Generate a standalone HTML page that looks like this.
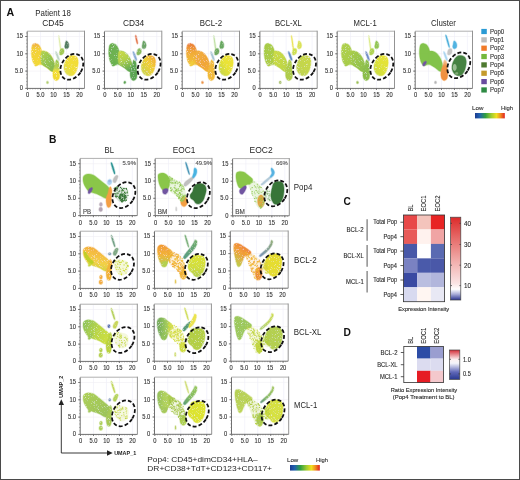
<!DOCTYPE html><html><head><meta charset="utf-8"><style>html,body{margin:0;padding:0;background:#fff;width:520px;height:480px;overflow:hidden;}body{font-family:'Liberation Sans', sans-serif;position:relative;}</style></head><body><svg width="520" height="480" viewBox="0 0 520 480" style="position:absolute;left:0;top:0;font-family:'Liberation Sans', sans-serif;filter:grayscale(0.001)"><defs><filter id="soft" x="-20%" y="-20%" width="140%" height="140%"><feGaussianBlur stdDeviation="0.35"/></filter><filter id="tex" x="-10%" y="-10%" width="120%" height="120%"><feGaussianBlur in="SourceGraphic" stdDeviation="0.35" result="b"/><feTurbulence type="fractalNoise" baseFrequency="1.3" numOctaves="2" seed="7" result="n"/><feColorMatrix in="n" type="matrix" values="0 0 0 0 1  0 0 0 0 1  0 0 0 0 1  2.2 0 0 0 -1.3" result="w"/><feComposite in="w" in2="b" operator="in" result="ws"/><feMerge><feMergeNode in="b"/><feMergeNode in="ws"/></feMerge></filter><linearGradient id="lg1" x1="0.3" y1="0" x2="0.3" y2="1"><stop offset="0" stop-color="#f0a830"/><stop offset="0.2" stop-color="#f2cc22"/><stop offset="1" stop-color="#f2d820"/></linearGradient><linearGradient id="lg2" x1="0" y1="0" x2="1" y2="1"><stop offset="0" stop-color="#b0d040"/><stop offset="0.45" stop-color="#8cc03c"/><stop offset="1" stop-color="#74ac3c"/></linearGradient><linearGradient id="lg3" x1="0.5" y1="0" x2="0.5" y2="1"><stop offset="0" stop-color="#8cc03c"/><stop offset="0.4" stop-color="#b8d040"/><stop offset="0.55" stop-color="#f2dc20"/><stop offset="1" stop-color="#f0d41c"/></linearGradient><linearGradient id="lg4" x1="1" y1="0" x2="0" y2="1"><stop offset="0" stop-color="#f2d820"/><stop offset="0.55" stop-color="#f0dc20"/><stop offset="1" stop-color="#d4dc50"/></linearGradient><linearGradient id="lg5" x1="0" y1="0" x2="1" y2="1"><stop offset="0" stop-color="#5aa83e"/><stop offset="1" stop-color="#68b040"/></linearGradient><linearGradient id="lg6" x1="0.3" y1="0" x2="0.6" y2="1"><stop offset="0" stop-color="#c4d634"/><stop offset="0.45" stop-color="#a8cc38"/><stop offset="1" stop-color="#50a040"/></linearGradient><linearGradient id="lg7" x1="1" y1="0" x2="0" y2="1"><stop offset="0" stop-color="#f09820"/><stop offset="0.4" stop-color="#f0c820"/><stop offset="1" stop-color="#c0d440"/></linearGradient><linearGradient id="lg8" x1="0.3" y1="0" x2="0.2" y2="1"><stop offset="0" stop-color="#e86c20"/><stop offset="0.3" stop-color="#f0a020"/><stop offset="1" stop-color="#f0d020"/></linearGradient><linearGradient id="lg9" x1="0" y1="0" x2="1" y2="1"><stop offset="0" stop-color="#f0a830"/><stop offset="0.6" stop-color="#f09c20"/><stop offset="1" stop-color="#f0a820"/></linearGradient><linearGradient id="lg10" x1="1" y1="0" x2="0" y2="1"><stop offset="0" stop-color="#f0e020"/><stop offset="0.5" stop-color="#e6e020"/><stop offset="1" stop-color="#b8d040"/></linearGradient><linearGradient id="lg11" x1="0" y1="0" x2="1" y2="1"><stop offset="0" stop-color="#9cc634"/><stop offset="1" stop-color="#b0cc30"/></linearGradient><linearGradient id="lg12" x1="0" y1="0" x2="1" y2="1"><stop offset="0" stop-color="#c8d830"/><stop offset="1" stop-color="#b4d030"/></linearGradient><linearGradient id="lg13" x1="1" y1="0" x2="0" y2="1"><stop offset="0" stop-color="#c4d430"/><stop offset="1" stop-color="#b8d040"/></linearGradient><linearGradient id="lg14" x1="0" y1="0" x2="1" y2="1"><stop offset="0" stop-color="#a8cc38"/><stop offset="1" stop-color="#98c438"/></linearGradient><linearGradient id="lg15" x1="0" y1="0" x2="1" y2="1"><stop offset="0" stop-color="#a0c838"/><stop offset="1" stop-color="#80b838"/></linearGradient><linearGradient id="lg16" x1="1" y1="0" x2="0" y2="1"><stop offset="0" stop-color="#e8e020"/><stop offset="0.5" stop-color="#dce020"/><stop offset="1" stop-color="#c0d838"/></linearGradient><linearGradient id="lg17" x1="0.5" y1="0" x2="0.5" y2="1"><stop offset="0" stop-color="#f4c8a0"/><stop offset="0.3" stop-color="#f09040"/><stop offset="1" stop-color="#f08a30"/></linearGradient><linearGradient id="lg18" x1="0.6" y1="0" x2="0.3" y2="1"><stop offset="0" stop-color="#f09818"/><stop offset="0.25" stop-color="#f4b020"/><stop offset="0.6" stop-color="#f2c828"/><stop offset="1" stop-color="#c0d020"/></linearGradient><linearGradient id="lg19" x1="0.5" y1="0" x2="0.5" y2="1"><stop offset="0" stop-color="#f08810"/><stop offset="0.45" stop-color="#f0a818"/><stop offset="1" stop-color="#a8c830"/></linearGradient><linearGradient id="lg20" x1="1" y1="0" x2="0" y2="1"><stop offset="0" stop-color="#58a050"/><stop offset="1" stop-color="#3a8a70"/></linearGradient><linearGradient id="lg21" x1="0.5" y1="0" x2="0.5" y2="1"><stop offset="0" stop-color="#d8e010"/><stop offset="0.6" stop-color="#c8d820"/><stop offset="1" stop-color="#a8c830"/></linearGradient><linearGradient id="lg22" x1="0.8" y1="0" x2="0.2" y2="1"><stop offset="0" stop-color="#e86010"/><stop offset="0.45" stop-color="#f09018"/><stop offset="1" stop-color="#b0c830"/></linearGradient><linearGradient id="lg23" x1="1" y1="0" x2="0" y2="1"><stop offset="0" stop-color="#80a060"/><stop offset="1" stop-color="#6080b0"/></linearGradient><linearGradient id="lg24" x1="0" y1="0.3" x2="1" y2="0.7"><stop offset="0" stop-color="#80bc3c"/><stop offset="0.5" stop-color="#b0d028"/><stop offset="1" stop-color="#c8dc20"/></linearGradient><linearGradient id="lg25" x1="0" y1="0.5" x2="1" y2="0.5"><stop offset="0" stop-color="#5a9a40"/><stop offset="0.45" stop-color="#80b840"/><stop offset="1" stop-color="#c0d840"/></linearGradient><linearGradient id="lg26" x1="1" y1="0" x2="0" y2="1"><stop offset="0" stop-color="#c8d830"/><stop offset="1" stop-color="#a0c860"/></linearGradient><linearGradient id="lg27" x1="0" y1="0" x2="1" y2="1"><stop offset="0" stop-color="#a0c838"/><stop offset="1" stop-color="#88b840"/></linearGradient><linearGradient id="lg28" x1="0" y1="0.5" x2="1" y2="0.5"><stop offset="0" stop-color="#80b440"/><stop offset="0.4" stop-color="#a0c840"/><stop offset="1" stop-color="#b0d040"/></linearGradient><linearGradient id="lg29" x1="1" y1="0" x2="0" y2="1"><stop offset="0" stop-color="#88c040"/><stop offset="0.6" stop-color="#70b048"/><stop offset="1" stop-color="#3a8a60"/></linearGradient><linearGradient id="lg30" x1="0" y1="0" x2="1" y2="1"><stop offset="0" stop-color="#a8c838"/><stop offset="1" stop-color="#b8d040"/></linearGradient><linearGradient id="lg31" x1="1" y1="0" x2="0" y2="1"><stop offset="0" stop-color="#98c048"/><stop offset="0.6" stop-color="#78b050"/><stop offset="1" stop-color="#4a8a70"/></linearGradient><linearGradient id="jet" x1="0" y1="0" x2="1" y2="0"><stop offset="0" stop-color="#1c3c90"/><stop offset="0.15" stop-color="#2060b0"/><stop offset="0.35" stop-color="#30a040"/><stop offset="0.55" stop-color="#a0cc30"/><stop offset="0.72" stop-color="#f0e020"/><stop offset="0.85" stop-color="#f09020"/><stop offset="1" stop-color="#e02020"/></linearGradient><linearGradient id="cbC" x1="0" y1="0" x2="0" y2="1"><stop offset="0" stop-color="#dc2a2a"/><stop offset="0.25" stop-color="#e66a68"/><stop offset="0.55" stop-color="#f2b2b0"/><stop offset="0.8" stop-color="#fae4e4"/><stop offset="0.87" stop-color="#ffffff"/><stop offset="0.93" stop-color="#a8acd8"/><stop offset="1" stop-color="#2a3490"/></linearGradient><linearGradient id="cbD" x1="0" y1="0" x2="0" y2="1"><stop offset="0" stop-color="#d42c36"/><stop offset="0.32" stop-color="#fcf0f0"/><stop offset="0.45" stop-color="#f4f4fa"/><stop offset="0.75" stop-color="#6068b8"/><stop offset="1" stop-color="#283890"/></linearGradient></defs><rect x="0" y="0" width="520" height="480" fill="#fff"/><g transform="translate(27.20,31.40)">
<line x1="13.28" y1="0.5" x2="13.28" y2="57.00" stroke="#ececf8" stroke-width="0.6"/>
<line x1="26.25" y1="0.5" x2="26.25" y2="57.00" stroke="#ececf8" stroke-width="0.6"/>
<line x1="39.23" y1="0.5" x2="39.23" y2="57.00" stroke="#ececf8" stroke-width="0.6"/>
<line x1="52.20" y1="0.5" x2="52.20" y2="57.00" stroke="#ececf8" stroke-width="0.6"/>
<line x1="0" y1="39.70" x2="57.30" y2="39.70" stroke="#f0eef4" stroke-width="0.6"/>
<line x1="0" y1="22.40" x2="57.30" y2="22.40" stroke="#f0eef4" stroke-width="0.6"/>
<line x1="0" y1="5.10" x2="57.30" y2="5.10" stroke="#f0eef4" stroke-width="0.6"/>
<path d="M0,-0.2 H57.30" fill="none" stroke="#b0b0b0" stroke-width="1"/>
<path d="M57.30,-0.7 V57.00" fill="none" stroke="#939393" stroke-width="1"/>
<g filter="url(#tex)" opacity="0.9">
<path d="M4.60,15.50 C4.90,13.93 5.33,13.18 6.00,12.60 C6.67,12.02 7.68,11.87 8.60,12.00 C9.52,12.13 10.67,12.63 11.50,13.40 C12.33,14.17 13.08,15.60 13.60,16.60 C14.12,17.60 14.15,18.90 14.60,19.40 C15.05,19.90 15.65,19.50 16.30,19.60 C16.95,19.70 17.60,19.60 18.50,20.00 C19.40,20.40 20.70,21.08 21.70,22.00 C22.70,22.92 23.72,24.25 24.50,25.50 C25.28,26.75 25.90,28.07 26.40,29.50 C26.90,30.93 27.35,32.75 27.50,34.10 C27.65,35.45 27.58,36.62 27.30,37.60 C27.02,38.58 26.43,39.72 25.80,40.00 C25.17,40.28 24.38,39.83 23.50,39.30 C22.62,38.77 21.67,37.63 20.50,36.80 C19.33,35.97 17.65,34.90 16.50,34.30 C15.35,33.70 14.62,33.25 13.60,33.20 C12.58,33.15 11.27,33.83 10.40,34.00 C9.53,34.17 9.10,34.60 8.40,34.20 C7.70,33.80 6.78,32.72 6.20,31.60 C5.62,30.48 5.23,29.10 4.90,27.50 C4.57,25.90 4.25,24.00 4.20,22.00 C4.15,20.00 4.30,17.07 4.60,15.50Z" fill="url(#lg1)" stroke="url(#lg1)" stroke-width="1.3" stroke-opacity="0.35"/>
<path d="M15.00,19.60 C15.75,19.38 17.38,19.77 18.50,20.20 C19.62,20.63 20.70,21.28 21.70,22.20 C22.70,23.12 23.72,24.47 24.50,25.70 C25.28,26.93 25.90,28.20 26.40,29.60 C26.90,31.00 27.35,32.77 27.50,34.10 C27.65,35.43 27.58,36.62 27.30,37.60 C27.02,38.58 26.43,39.72 25.80,40.00 C25.17,40.28 24.38,39.83 23.50,39.30 C22.62,38.77 21.67,37.63 20.50,36.80 C19.33,35.97 17.55,35.10 16.50,34.30 C15.45,33.50 14.68,33.38 14.20,32.00 C13.72,30.62 13.63,27.75 13.60,26.00 C13.57,24.25 13.77,22.57 14.00,21.50 C14.23,20.43 14.25,19.82 15.00,19.60Z" fill="url(#lg2)" stroke="url(#lg2)" stroke-width="1.3" stroke-opacity="0.35"/>
<path d="M10.50,29.80 C10.95,29.72 11.20,30.05 11.20,30.50 C11.20,30.95 10.90,31.82 10.50,32.50 C10.10,33.18 9.30,34.43 8.80,34.60 C8.30,34.77 7.55,34.10 7.50,33.50 C7.45,32.90 8.00,31.62 8.50,31.00 C9.00,30.38 10.05,29.88 10.50,29.80Z" fill="#f0d428" stroke="#f0d428" stroke-width="1.3" stroke-opacity="0.35"/>
<path d="M29.80,28.50 C30.28,28.70 31.13,29.58 31.50,31.00 C31.87,32.42 31.82,35.13 32.00,37.00 C32.18,38.87 32.62,40.50 32.60,42.20 C32.58,43.90 32.43,46.05 31.90,47.20 C31.37,48.35 30.23,49.00 29.40,49.10 C28.57,49.20 27.53,48.73 26.90,47.80 C26.27,46.87 25.73,45.05 25.60,43.50 C25.47,41.95 25.72,40.17 26.10,38.50 C26.48,36.83 27.48,34.95 27.90,33.50 C28.32,32.05 28.28,30.63 28.60,29.80 C28.92,28.97 29.32,28.30 29.80,28.50Z" fill="url(#lg3)" stroke="url(#lg3)" stroke-width="1.3" stroke-opacity="0.35"/>
<path d="M21.30,51.00 C21.30,51.38 21.05,51.94 20.80,52.13 C20.55,52.31 20.05,52.31 19.80,52.13 C19.55,51.94 19.30,51.38 19.30,51.00 C19.30,50.62 19.55,50.06 19.80,49.87 C20.05,49.69 20.55,49.69 20.80,49.87 C21.05,50.06 21.30,50.62 21.30,51.00Z" fill="#a8c860" stroke="#a8c860" stroke-width="1.3" stroke-opacity="0.35"/>
<path d="M31.40,5.90 C31.18,3.38 31.72,3.47 32.20,5.90 C32.68,8.33 34.08,17.98 34.30,20.50 C34.52,23.02 33.98,23.43 33.50,21.00 C33.02,18.57 31.62,8.42 31.40,5.90Z" fill="#dceaa0" stroke="#dceaa0" stroke-width="1.3" stroke-opacity="0.35"/>
<path d="M28.30,21.00 C28.05,19.70 28.83,19.67 29.50,20.80 C30.17,21.93 32.05,26.50 32.30,27.80 C32.55,29.10 31.67,29.73 31.00,28.60 C30.33,27.47 28.55,22.30 28.30,21.00Z" fill="#b8d0c0" stroke="#b8d0c0" stroke-width="1.3" stroke-opacity="0.35"/>
<path d="M34.50,17.20 C35.15,17.03 36.37,17.28 36.70,18.00 C37.03,18.72 36.95,20.57 36.50,21.50 C36.05,22.43 34.70,23.43 34.00,23.60 C33.30,23.77 32.50,23.27 32.30,22.50 C32.10,21.73 32.43,19.88 32.80,19.00 C33.17,18.12 33.85,17.37 34.50,17.20Z" fill="#98c440" stroke="#98c440" stroke-width="1.3" stroke-opacity="0.35"/>
<path d="M38.70,9.70 C39.12,9.37 40.00,9.87 40.50,10.50 C41.00,11.13 41.62,12.50 41.70,13.50 C41.78,14.50 41.48,15.87 41.00,16.50 C40.52,17.13 39.38,17.47 38.80,17.30 C38.22,17.13 37.63,16.30 37.50,15.50 C37.37,14.70 37.80,13.47 38.00,12.50 C38.20,11.53 38.28,10.03 38.70,9.70Z" fill="#3e6e4e" stroke="#3e6e4e" stroke-width="1.3" stroke-opacity="0.35"/>
<path d="M43.55,24.10 C45.12,23.78 47.95,24.37 49.20,25.30 C50.45,26.23 50.85,27.92 51.05,29.70 C51.25,31.48 50.82,34.08 50.40,35.95 C49.98,37.83 49.38,39.59 48.55,40.95 C47.72,42.31 46.54,43.58 45.40,44.10 C44.26,44.62 42.84,44.52 41.70,44.10 C40.56,43.68 39.38,42.75 38.55,41.60 C37.72,40.45 36.91,38.77 36.70,37.20 C36.49,35.63 36.78,33.87 37.30,32.20 C37.82,30.53 38.76,28.55 39.80,27.20 C40.84,25.85 41.98,24.42 43.55,24.10Z" fill="url(#lg4)" stroke="url(#lg4)" stroke-width="1.3" stroke-opacity="0.35"/>
</g>
<ellipse cx="44.6" cy="35.4" rx="10.3" ry="13.85" transform="rotate(33 44.6 35.4)" fill="none" stroke="#111" stroke-width="1.75" stroke-dasharray="3.9 2.05"/>
<line x1="0" y1="0" x2="0" y2="57.00" stroke="#707070" stroke-width="1"/>
<line x1="0" y1="57.00" x2="57.30" y2="57.00" stroke="#707070" stroke-width="1"/>
<line x1="-2" y1="57.00" x2="0" y2="57.00" stroke="#555" stroke-width="0.8"/>
<line x1="-2" y1="39.70" x2="0" y2="39.70" stroke="#555" stroke-width="0.8"/>
<line x1="-2" y1="22.40" x2="0" y2="22.40" stroke="#555" stroke-width="0.8"/>
<line x1="-2" y1="5.10" x2="0" y2="5.10" stroke="#555" stroke-width="0.8"/>
<line x1="0.30" y1="57.00" x2="0.30" y2="58.60" stroke="#555" stroke-width="0.8"/>
<line x1="13.28" y1="57.00" x2="13.28" y2="58.60" stroke="#555" stroke-width="0.8"/>
<line x1="26.25" y1="57.00" x2="26.25" y2="58.60" stroke="#555" stroke-width="0.8"/>
<line x1="39.23" y1="57.00" x2="39.23" y2="58.60" stroke="#555" stroke-width="0.8"/>
<line x1="52.20" y1="57.00" x2="52.20" y2="58.60" stroke="#555" stroke-width="0.8"/>
<path d="M-1,57.0h1M-1,53.5h1M-1,50.1h1M-1,46.6h1M-1,43.2h1M-1,39.7h1M-1,36.2h1M-1,32.8h1M-1,29.3h1M-1,25.9h1M-1,22.4h1M-1,18.9h1M-1,15.5h1M-1,12.0h1M-1,8.6h1M-1,5.1h1M-1,1.6h1M0.3,57.0v1M2.9,57.0v1M5.5,57.0v1M8.1,57.0v1M10.7,57.0v1M13.3,57.0v1M15.9,57.0v1M18.5,57.0v1M21.1,57.0v1M23.7,57.0v1M26.3,57.0v1M28.8,57.0v1M31.4,57.0v1M34.0,57.0v1M36.6,57.0v1M39.2,57.0v1M41.8,57.0v1M44.4,57.0v1M47.0,57.0v1M49.6,57.0v1M52.2,57.0v1M54.8,57.0v1" stroke="#777" stroke-width="0.6"/>
</g>
<text x="19.78" y="90.25" font-size="6.4" text-anchor="start" font-weight="normal" fill="#333" stroke="#333" stroke-width="0.12" textLength="3.22" lengthAdjust="spacingAndGlyphs" >0</text>
<text x="14.94" y="72.95" font-size="6.4" text-anchor="start" font-weight="normal" fill="#333" stroke="#333" stroke-width="0.12" textLength="8.06" lengthAdjust="spacingAndGlyphs" >5.0</text>
<text x="16.55" y="55.65" font-size="6.4" text-anchor="start" font-weight="normal" fill="#333" stroke="#333" stroke-width="0.12" textLength="6.45" lengthAdjust="spacingAndGlyphs" >10</text>
<text x="16.55" y="38.35" font-size="6.4" text-anchor="start" font-weight="normal" fill="#333" stroke="#333" stroke-width="0.12" textLength="6.45" lengthAdjust="spacingAndGlyphs" >15</text>
<text x="25.89" y="97.40" font-size="6.4" text-anchor="start" font-weight="normal" fill="#333" stroke="#333" stroke-width="0.12" textLength="3.22" lengthAdjust="spacingAndGlyphs" >0</text>
<text x="36.44" y="97.40" font-size="6.4" text-anchor="start" font-weight="normal" fill="#333" stroke="#333" stroke-width="0.12" textLength="8.06" lengthAdjust="spacingAndGlyphs" >5.0</text>
<text x="50.23" y="97.40" font-size="6.4" text-anchor="start" font-weight="normal" fill="#333" stroke="#333" stroke-width="0.12" textLength="6.45" lengthAdjust="spacingAndGlyphs" >10</text>
<text x="63.20" y="97.40" font-size="6.4" text-anchor="start" font-weight="normal" fill="#333" stroke="#333" stroke-width="0.12" textLength="6.45" lengthAdjust="spacingAndGlyphs" >15</text>
<text x="76.18" y="97.40" font-size="6.4" text-anchor="start" font-weight="normal" fill="#333" stroke="#333" stroke-width="0.12" textLength="6.45" lengthAdjust="spacingAndGlyphs" >20</text>
<g transform="translate(104.50,31.40)">
<line x1="13.28" y1="0.5" x2="13.28" y2="57.00" stroke="#ececf8" stroke-width="0.6"/>
<line x1="26.25" y1="0.5" x2="26.25" y2="57.00" stroke="#ececf8" stroke-width="0.6"/>
<line x1="39.23" y1="0.5" x2="39.23" y2="57.00" stroke="#ececf8" stroke-width="0.6"/>
<line x1="52.20" y1="0.5" x2="52.20" y2="57.00" stroke="#ececf8" stroke-width="0.6"/>
<line x1="0" y1="39.70" x2="57.30" y2="39.70" stroke="#f0eef4" stroke-width="0.6"/>
<line x1="0" y1="22.40" x2="57.30" y2="22.40" stroke="#f0eef4" stroke-width="0.6"/>
<line x1="0" y1="5.10" x2="57.30" y2="5.10" stroke="#f0eef4" stroke-width="0.6"/>
<path d="M0,-0.2 H57.30" fill="none" stroke="#b0b0b0" stroke-width="1"/>
<path d="M57.30,-0.7 V57.00" fill="none" stroke="#939393" stroke-width="1"/>
<g filter="url(#tex)" opacity="0.9">
<path d="M4.60,15.50 C4.90,13.93 5.33,13.18 6.00,12.60 C6.67,12.02 7.68,11.87 8.60,12.00 C9.52,12.13 10.67,12.63 11.50,13.40 C12.33,14.17 13.08,15.60 13.60,16.60 C14.12,17.60 14.15,18.90 14.60,19.40 C15.05,19.90 15.65,19.50 16.30,19.60 C16.95,19.70 17.60,19.60 18.50,20.00 C19.40,20.40 20.70,21.08 21.70,22.00 C22.70,22.92 23.72,24.25 24.50,25.50 C25.28,26.75 25.90,28.07 26.40,29.50 C26.90,30.93 27.35,32.75 27.50,34.10 C27.65,35.45 27.58,36.62 27.30,37.60 C27.02,38.58 26.43,39.72 25.80,40.00 C25.17,40.28 24.38,39.83 23.50,39.30 C22.62,38.77 21.67,37.63 20.50,36.80 C19.33,35.97 17.65,34.90 16.50,34.30 C15.35,33.70 14.62,33.25 13.60,33.20 C12.58,33.15 11.27,33.83 10.40,34.00 C9.53,34.17 9.10,34.60 8.40,34.20 C7.70,33.80 6.78,32.72 6.20,31.60 C5.62,30.48 5.23,29.10 4.90,27.50 C4.57,25.90 4.25,24.00 4.20,22.00 C4.15,20.00 4.30,17.07 4.60,15.50Z" fill="url(#lg5)" stroke="url(#lg5)" stroke-width="1.3" stroke-opacity="0.35"/>
<path d="M15.00,19.60 C15.75,19.38 17.38,19.77 18.50,20.20 C19.62,20.63 20.70,21.28 21.70,22.20 C22.70,23.12 23.72,24.47 24.50,25.70 C25.28,26.93 25.90,28.20 26.40,29.60 C26.90,31.00 27.35,32.77 27.50,34.10 C27.65,35.43 27.58,36.62 27.30,37.60 C27.02,38.58 26.43,39.72 25.80,40.00 C25.17,40.28 24.38,39.83 23.50,39.30 C22.62,38.77 21.67,37.63 20.50,36.80 C19.33,35.97 17.55,35.10 16.50,34.30 C15.45,33.50 14.68,33.38 14.20,32.00 C13.72,30.62 13.63,27.75 13.60,26.00 C13.57,24.25 13.77,22.57 14.00,21.50 C14.23,20.43 14.25,19.82 15.00,19.60Z" fill="url(#lg6)" stroke="url(#lg6)" stroke-width="1.3" stroke-opacity="0.35"/>
<path d="M10.50,29.80 C10.95,29.72 11.20,30.05 11.20,30.50 C11.20,30.95 10.90,31.82 10.50,32.50 C10.10,33.18 9.30,34.43 8.80,34.60 C8.30,34.77 7.55,34.10 7.50,33.50 C7.45,32.90 8.00,31.62 8.50,31.00 C9.00,30.38 10.05,29.88 10.50,29.80Z" fill="#5aa83e" stroke="#5aa83e" stroke-width="1.3" stroke-opacity="0.35"/>
<path d="M29.80,28.50 C30.28,28.70 31.13,29.58 31.50,31.00 C31.87,32.42 31.82,35.13 32.00,37.00 C32.18,38.87 32.62,40.50 32.60,42.20 C32.58,43.90 32.43,46.05 31.90,47.20 C31.37,48.35 30.23,49.00 29.40,49.10 C28.57,49.20 27.53,48.73 26.90,47.80 C26.27,46.87 25.73,45.05 25.60,43.50 C25.47,41.95 25.72,40.17 26.10,38.50 C26.48,36.83 27.48,34.95 27.90,33.50 C28.32,32.05 28.28,30.63 28.60,29.80 C28.92,28.97 29.32,28.30 29.80,28.50Z" fill="#4a9c40" stroke="#4a9c40" stroke-width="1.3" stroke-opacity="0.35"/>
<path d="M21.30,51.00 C21.30,51.38 21.05,51.94 20.80,52.13 C20.55,52.31 20.05,52.31 19.80,52.13 C19.55,51.94 19.30,51.38 19.30,51.00 C19.30,50.62 19.55,50.06 19.80,49.87 C20.05,49.69 20.55,49.69 20.80,49.87 C21.05,50.06 21.30,50.62 21.30,51.00Z" fill="#4a9a40" stroke="#4a9a40" stroke-width="1.3" stroke-opacity="0.35"/>
<path d="M30.80,4.80 C30.70,3.58 31.38,3.48 31.80,4.60 C32.22,5.72 33.20,10.28 33.30,11.50 C33.40,12.72 32.82,13.02 32.40,11.90 C31.98,10.78 30.90,6.02 30.80,4.80Z" fill="#e06030" stroke="#e06030" stroke-width="1.3" stroke-opacity="0.35"/>
<path d="M28.30,21.00 C28.05,19.70 28.83,19.67 29.50,20.80 C30.17,21.93 32.05,26.50 32.30,27.80 C32.55,29.10 31.67,29.73 31.00,28.60 C30.33,27.47 28.55,22.30 28.30,21.00Z" fill="#7aa0d0" stroke="#7aa0d0" stroke-width="1.3" stroke-opacity="0.35"/>
<path d="M34.50,17.20 C35.15,17.03 36.37,17.28 36.70,18.00 C37.03,18.72 36.95,20.57 36.50,21.50 C36.05,22.43 34.70,23.43 34.00,23.60 C33.30,23.77 32.50,23.27 32.30,22.50 C32.10,21.73 32.43,19.88 32.80,19.00 C33.17,18.12 33.85,17.37 34.50,17.20Z" fill="#7cb450" stroke="#7cb450" stroke-width="1.3" stroke-opacity="0.35"/>
<path d="M38.70,9.70 C39.12,9.37 40.00,9.87 40.50,10.50 C41.00,11.13 41.62,12.50 41.70,13.50 C41.78,14.50 41.48,15.87 41.00,16.50 C40.52,17.13 39.38,17.47 38.80,17.30 C38.22,17.13 37.63,16.30 37.50,15.50 C37.37,14.70 37.80,13.47 38.00,12.50 C38.20,11.53 38.28,10.03 38.70,9.70Z" fill="#5c9c58" stroke="#5c9c58" stroke-width="1.3" stroke-opacity="0.35"/>
<path d="M43.55,24.10 C45.12,23.78 47.95,24.37 49.20,25.30 C50.45,26.23 50.85,27.92 51.05,29.70 C51.25,31.48 50.82,34.08 50.40,35.95 C49.98,37.83 49.38,39.59 48.55,40.95 C47.72,42.31 46.54,43.58 45.40,44.10 C44.26,44.62 42.84,44.52 41.70,44.10 C40.56,43.68 39.38,42.75 38.55,41.60 C37.72,40.45 36.91,38.77 36.70,37.20 C36.49,35.63 36.78,33.87 37.30,32.20 C37.82,30.53 38.76,28.55 39.80,27.20 C40.84,25.85 41.98,24.42 43.55,24.10Z" fill="url(#lg7)" stroke="url(#lg7)" stroke-width="1.3" stroke-opacity="0.35"/>
</g>
<ellipse cx="44.6" cy="35.4" rx="10.3" ry="13.85" transform="rotate(33 44.6 35.4)" fill="none" stroke="#111" stroke-width="1.75" stroke-dasharray="3.9 2.05"/>
<line x1="0" y1="0" x2="0" y2="57.00" stroke="#707070" stroke-width="1"/>
<line x1="0" y1="57.00" x2="57.30" y2="57.00" stroke="#707070" stroke-width="1"/>
<line x1="-2" y1="57.00" x2="0" y2="57.00" stroke="#555" stroke-width="0.8"/>
<line x1="-2" y1="39.70" x2="0" y2="39.70" stroke="#555" stroke-width="0.8"/>
<line x1="-2" y1="22.40" x2="0" y2="22.40" stroke="#555" stroke-width="0.8"/>
<line x1="-2" y1="5.10" x2="0" y2="5.10" stroke="#555" stroke-width="0.8"/>
<line x1="0.30" y1="57.00" x2="0.30" y2="58.60" stroke="#555" stroke-width="0.8"/>
<line x1="13.28" y1="57.00" x2="13.28" y2="58.60" stroke="#555" stroke-width="0.8"/>
<line x1="26.25" y1="57.00" x2="26.25" y2="58.60" stroke="#555" stroke-width="0.8"/>
<line x1="39.23" y1="57.00" x2="39.23" y2="58.60" stroke="#555" stroke-width="0.8"/>
<line x1="52.20" y1="57.00" x2="52.20" y2="58.60" stroke="#555" stroke-width="0.8"/>
<path d="M-1,57.0h1M-1,53.5h1M-1,50.1h1M-1,46.6h1M-1,43.2h1M-1,39.7h1M-1,36.2h1M-1,32.8h1M-1,29.3h1M-1,25.9h1M-1,22.4h1M-1,18.9h1M-1,15.5h1M-1,12.0h1M-1,8.6h1M-1,5.1h1M-1,1.6h1M0.3,57.0v1M2.9,57.0v1M5.5,57.0v1M8.1,57.0v1M10.7,57.0v1M13.3,57.0v1M15.9,57.0v1M18.5,57.0v1M21.1,57.0v1M23.7,57.0v1M26.3,57.0v1M28.8,57.0v1M31.4,57.0v1M34.0,57.0v1M36.6,57.0v1M39.2,57.0v1M41.8,57.0v1M44.4,57.0v1M47.0,57.0v1M49.6,57.0v1M52.2,57.0v1M54.8,57.0v1" stroke="#777" stroke-width="0.6"/>
</g>
<text x="97.08" y="90.25" font-size="6.4" text-anchor="start" font-weight="normal" fill="#333" stroke="#333" stroke-width="0.12" textLength="3.22" lengthAdjust="spacingAndGlyphs" >0</text>
<text x="92.24" y="72.95" font-size="6.4" text-anchor="start" font-weight="normal" fill="#333" stroke="#333" stroke-width="0.12" textLength="8.06" lengthAdjust="spacingAndGlyphs" >5.0</text>
<text x="93.85" y="55.65" font-size="6.4" text-anchor="start" font-weight="normal" fill="#333" stroke="#333" stroke-width="0.12" textLength="6.45" lengthAdjust="spacingAndGlyphs" >10</text>
<text x="93.85" y="38.35" font-size="6.4" text-anchor="start" font-weight="normal" fill="#333" stroke="#333" stroke-width="0.12" textLength="6.45" lengthAdjust="spacingAndGlyphs" >15</text>
<text x="103.19" y="97.40" font-size="6.4" text-anchor="start" font-weight="normal" fill="#333" stroke="#333" stroke-width="0.12" textLength="3.22" lengthAdjust="spacingAndGlyphs" >0</text>
<text x="113.74" y="97.40" font-size="6.4" text-anchor="start" font-weight="normal" fill="#333" stroke="#333" stroke-width="0.12" textLength="8.06" lengthAdjust="spacingAndGlyphs" >5.0</text>
<text x="127.53" y="97.40" font-size="6.4" text-anchor="start" font-weight="normal" fill="#333" stroke="#333" stroke-width="0.12" textLength="6.45" lengthAdjust="spacingAndGlyphs" >10</text>
<text x="140.50" y="97.40" font-size="6.4" text-anchor="start" font-weight="normal" fill="#333" stroke="#333" stroke-width="0.12" textLength="6.45" lengthAdjust="spacingAndGlyphs" >15</text>
<text x="153.48" y="97.40" font-size="6.4" text-anchor="start" font-weight="normal" fill="#333" stroke="#333" stroke-width="0.12" textLength="6.45" lengthAdjust="spacingAndGlyphs" >20</text>
<g transform="translate(182.20,31.40)">
<line x1="13.28" y1="0.5" x2="13.28" y2="57.00" stroke="#ececf8" stroke-width="0.6"/>
<line x1="26.25" y1="0.5" x2="26.25" y2="57.00" stroke="#ececf8" stroke-width="0.6"/>
<line x1="39.23" y1="0.5" x2="39.23" y2="57.00" stroke="#ececf8" stroke-width="0.6"/>
<line x1="52.20" y1="0.5" x2="52.20" y2="57.00" stroke="#ececf8" stroke-width="0.6"/>
<line x1="0" y1="39.70" x2="57.30" y2="39.70" stroke="#f0eef4" stroke-width="0.6"/>
<line x1="0" y1="22.40" x2="57.30" y2="22.40" stroke="#f0eef4" stroke-width="0.6"/>
<line x1="0" y1="5.10" x2="57.30" y2="5.10" stroke="#f0eef4" stroke-width="0.6"/>
<path d="M0,-0.2 H57.30" fill="none" stroke="#b0b0b0" stroke-width="1"/>
<path d="M57.30,-0.7 V57.00" fill="none" stroke="#939393" stroke-width="1"/>
<g filter="url(#tex)" opacity="0.9">
<path d="M4.60,15.50 C4.90,13.93 5.33,13.18 6.00,12.60 C6.67,12.02 7.68,11.87 8.60,12.00 C9.52,12.13 10.67,12.63 11.50,13.40 C12.33,14.17 13.08,15.60 13.60,16.60 C14.12,17.60 14.15,18.90 14.60,19.40 C15.05,19.90 15.65,19.50 16.30,19.60 C16.95,19.70 17.60,19.60 18.50,20.00 C19.40,20.40 20.70,21.08 21.70,22.00 C22.70,22.92 23.72,24.25 24.50,25.50 C25.28,26.75 25.90,28.07 26.40,29.50 C26.90,30.93 27.35,32.75 27.50,34.10 C27.65,35.45 27.58,36.62 27.30,37.60 C27.02,38.58 26.43,39.72 25.80,40.00 C25.17,40.28 24.38,39.83 23.50,39.30 C22.62,38.77 21.67,37.63 20.50,36.80 C19.33,35.97 17.65,34.90 16.50,34.30 C15.35,33.70 14.62,33.25 13.60,33.20 C12.58,33.15 11.27,33.83 10.40,34.00 C9.53,34.17 9.10,34.60 8.40,34.20 C7.70,33.80 6.78,32.72 6.20,31.60 C5.62,30.48 5.23,29.10 4.90,27.50 C4.57,25.90 4.25,24.00 4.20,22.00 C4.15,20.00 4.30,17.07 4.60,15.50Z" fill="url(#lg8)" stroke="url(#lg8)" stroke-width="1.3" stroke-opacity="0.35"/>
<path d="M15.00,19.60 C15.75,19.38 17.38,19.77 18.50,20.20 C19.62,20.63 20.70,21.28 21.70,22.20 C22.70,23.12 23.72,24.47 24.50,25.70 C25.28,26.93 25.90,28.20 26.40,29.60 C26.90,31.00 27.35,32.77 27.50,34.10 C27.65,35.43 27.58,36.62 27.30,37.60 C27.02,38.58 26.43,39.72 25.80,40.00 C25.17,40.28 24.38,39.83 23.50,39.30 C22.62,38.77 21.67,37.63 20.50,36.80 C19.33,35.97 17.55,35.10 16.50,34.30 C15.45,33.50 14.68,33.38 14.20,32.00 C13.72,30.62 13.63,27.75 13.60,26.00 C13.57,24.25 13.77,22.57 14.00,21.50 C14.23,20.43 14.25,19.82 15.00,19.60Z" fill="url(#lg9)" stroke="url(#lg9)" stroke-width="1.3" stroke-opacity="0.35"/>
<path d="M10.50,29.80 C10.95,29.72 11.20,30.05 11.20,30.50 C11.20,30.95 10.90,31.82 10.50,32.50 C10.10,33.18 9.30,34.43 8.80,34.60 C8.30,34.77 7.55,34.10 7.50,33.50 C7.45,32.90 8.00,31.62 8.50,31.00 C9.00,30.38 10.05,29.88 10.50,29.80Z" fill="#f0c828" stroke="#f0c828" stroke-width="1.3" stroke-opacity="0.35"/>
<path d="M29.80,28.50 C30.28,28.70 31.13,29.58 31.50,31.00 C31.87,32.42 31.82,35.13 32.00,37.00 C32.18,38.87 32.62,40.50 32.60,42.20 C32.58,43.90 32.43,46.05 31.90,47.20 C31.37,48.35 30.23,49.00 29.40,49.10 C28.57,49.20 27.53,48.73 26.90,47.80 C26.27,46.87 25.73,45.05 25.60,43.50 C25.47,41.95 25.72,40.17 26.10,38.50 C26.48,36.83 27.48,34.95 27.90,33.50 C28.32,32.05 28.28,30.63 28.60,29.80 C28.92,28.97 29.32,28.30 29.80,28.50Z" fill="#f0b428" stroke="#f0b428" stroke-width="1.3" stroke-opacity="0.35"/>
<path d="M21.30,51.00 C21.30,51.38 21.05,51.94 20.80,52.13 C20.55,52.31 20.05,52.31 19.80,52.13 C19.55,51.94 19.30,51.38 19.30,51.00 C19.30,50.62 19.55,50.06 19.80,49.87 C20.05,49.69 20.55,49.69 20.80,49.87 C21.05,50.06 21.30,50.62 21.30,51.00Z" fill="#e88830" stroke="#e88830" stroke-width="1.3" stroke-opacity="0.35"/>
<path d="M31.40,5.90 C31.18,3.38 31.72,3.47 32.20,5.90 C32.68,8.33 34.08,17.98 34.30,20.50 C34.52,23.02 33.98,23.43 33.50,21.00 C33.02,18.57 31.62,8.42 31.40,5.90Z" fill="#b8dc98" stroke="#b8dc98" stroke-width="1.3" stroke-opacity="0.35"/>
<path d="M28.30,21.00 C28.05,19.70 28.83,19.67 29.50,20.80 C30.17,21.93 32.05,26.50 32.30,27.80 C32.55,29.10 31.67,29.73 31.00,28.60 C30.33,27.47 28.55,22.30 28.30,21.00Z" fill="#a0c0d0" stroke="#a0c0d0" stroke-width="1.3" stroke-opacity="0.35"/>
<path d="M34.50,17.20 C35.15,17.03 36.37,17.28 36.70,18.00 C37.03,18.72 36.95,20.57 36.50,21.50 C36.05,22.43 34.70,23.43 34.00,23.60 C33.30,23.77 32.50,23.27 32.30,22.50 C32.10,21.73 32.43,19.88 32.80,19.00 C33.17,18.12 33.85,17.37 34.50,17.20Z" fill="#60a050" stroke="#60a050" stroke-width="1.3" stroke-opacity="0.35"/>
<path d="M38.70,9.70 C39.12,9.37 40.00,9.87 40.50,10.50 C41.00,11.13 41.62,12.50 41.70,13.50 C41.78,14.50 41.48,15.87 41.00,16.50 C40.52,17.13 39.38,17.47 38.80,17.30 C38.22,17.13 37.63,16.30 37.50,15.50 C37.37,14.70 37.80,13.47 38.00,12.50 C38.20,11.53 38.28,10.03 38.70,9.70Z" fill="#58a050" stroke="#58a050" stroke-width="1.3" stroke-opacity="0.35"/>
<path d="M43.55,24.10 C45.12,23.78 47.95,24.37 49.20,25.30 C50.45,26.23 50.85,27.92 51.05,29.70 C51.25,31.48 50.82,34.08 50.40,35.95 C49.98,37.83 49.38,39.59 48.55,40.95 C47.72,42.31 46.54,43.58 45.40,44.10 C44.26,44.62 42.84,44.52 41.70,44.10 C40.56,43.68 39.38,42.75 38.55,41.60 C37.72,40.45 36.91,38.77 36.70,37.20 C36.49,35.63 36.78,33.87 37.30,32.20 C37.82,30.53 38.76,28.55 39.80,27.20 C40.84,25.85 41.98,24.42 43.55,24.10Z" fill="url(#lg10)" stroke="url(#lg10)" stroke-width="1.3" stroke-opacity="0.35"/>
</g>
<ellipse cx="44.6" cy="35.4" rx="10.3" ry="13.85" transform="rotate(33 44.6 35.4)" fill="none" stroke="#111" stroke-width="1.75" stroke-dasharray="3.9 2.05"/>
<line x1="0" y1="0" x2="0" y2="57.00" stroke="#707070" stroke-width="1"/>
<line x1="0" y1="57.00" x2="57.30" y2="57.00" stroke="#707070" stroke-width="1"/>
<line x1="-2" y1="57.00" x2="0" y2="57.00" stroke="#555" stroke-width="0.8"/>
<line x1="-2" y1="39.70" x2="0" y2="39.70" stroke="#555" stroke-width="0.8"/>
<line x1="-2" y1="22.40" x2="0" y2="22.40" stroke="#555" stroke-width="0.8"/>
<line x1="-2" y1="5.10" x2="0" y2="5.10" stroke="#555" stroke-width="0.8"/>
<line x1="0.30" y1="57.00" x2="0.30" y2="58.60" stroke="#555" stroke-width="0.8"/>
<line x1="13.28" y1="57.00" x2="13.28" y2="58.60" stroke="#555" stroke-width="0.8"/>
<line x1="26.25" y1="57.00" x2="26.25" y2="58.60" stroke="#555" stroke-width="0.8"/>
<line x1="39.23" y1="57.00" x2="39.23" y2="58.60" stroke="#555" stroke-width="0.8"/>
<line x1="52.20" y1="57.00" x2="52.20" y2="58.60" stroke="#555" stroke-width="0.8"/>
<path d="M-1,57.0h1M-1,53.5h1M-1,50.1h1M-1,46.6h1M-1,43.2h1M-1,39.7h1M-1,36.2h1M-1,32.8h1M-1,29.3h1M-1,25.9h1M-1,22.4h1M-1,18.9h1M-1,15.5h1M-1,12.0h1M-1,8.6h1M-1,5.1h1M-1,1.6h1M0.3,57.0v1M2.9,57.0v1M5.5,57.0v1M8.1,57.0v1M10.7,57.0v1M13.3,57.0v1M15.9,57.0v1M18.5,57.0v1M21.1,57.0v1M23.7,57.0v1M26.3,57.0v1M28.8,57.0v1M31.4,57.0v1M34.0,57.0v1M36.6,57.0v1M39.2,57.0v1M41.8,57.0v1M44.4,57.0v1M47.0,57.0v1M49.6,57.0v1M52.2,57.0v1M54.8,57.0v1" stroke="#777" stroke-width="0.6"/>
</g>
<text x="174.78" y="90.25" font-size="6.4" text-anchor="start" font-weight="normal" fill="#333" stroke="#333" stroke-width="0.12" textLength="3.22" lengthAdjust="spacingAndGlyphs" >0</text>
<text x="169.94" y="72.95" font-size="6.4" text-anchor="start" font-weight="normal" fill="#333" stroke="#333" stroke-width="0.12" textLength="8.06" lengthAdjust="spacingAndGlyphs" >5.0</text>
<text x="171.55" y="55.65" font-size="6.4" text-anchor="start" font-weight="normal" fill="#333" stroke="#333" stroke-width="0.12" textLength="6.45" lengthAdjust="spacingAndGlyphs" >10</text>
<text x="171.55" y="38.35" font-size="6.4" text-anchor="start" font-weight="normal" fill="#333" stroke="#333" stroke-width="0.12" textLength="6.45" lengthAdjust="spacingAndGlyphs" >15</text>
<text x="180.89" y="97.40" font-size="6.4" text-anchor="start" font-weight="normal" fill="#333" stroke="#333" stroke-width="0.12" textLength="3.22" lengthAdjust="spacingAndGlyphs" >0</text>
<text x="191.44" y="97.40" font-size="6.4" text-anchor="start" font-weight="normal" fill="#333" stroke="#333" stroke-width="0.12" textLength="8.06" lengthAdjust="spacingAndGlyphs" >5.0</text>
<text x="205.23" y="97.40" font-size="6.4" text-anchor="start" font-weight="normal" fill="#333" stroke="#333" stroke-width="0.12" textLength="6.45" lengthAdjust="spacingAndGlyphs" >10</text>
<text x="218.20" y="97.40" font-size="6.4" text-anchor="start" font-weight="normal" fill="#333" stroke="#333" stroke-width="0.12" textLength="6.45" lengthAdjust="spacingAndGlyphs" >15</text>
<text x="231.18" y="97.40" font-size="6.4" text-anchor="start" font-weight="normal" fill="#333" stroke="#333" stroke-width="0.12" textLength="6.45" lengthAdjust="spacingAndGlyphs" >20</text>
<g transform="translate(259.90,31.40)">
<line x1="13.28" y1="0.5" x2="13.28" y2="57.00" stroke="#ececf8" stroke-width="0.6"/>
<line x1="26.25" y1="0.5" x2="26.25" y2="57.00" stroke="#ececf8" stroke-width="0.6"/>
<line x1="39.23" y1="0.5" x2="39.23" y2="57.00" stroke="#ececf8" stroke-width="0.6"/>
<line x1="52.20" y1="0.5" x2="52.20" y2="57.00" stroke="#ececf8" stroke-width="0.6"/>
<line x1="0" y1="39.70" x2="57.30" y2="39.70" stroke="#f0eef4" stroke-width="0.6"/>
<line x1="0" y1="22.40" x2="57.30" y2="22.40" stroke="#f0eef4" stroke-width="0.6"/>
<line x1="0" y1="5.10" x2="57.30" y2="5.10" stroke="#f0eef4" stroke-width="0.6"/>
<path d="M0,-0.2 H57.30" fill="none" stroke="#b0b0b0" stroke-width="1"/>
<path d="M57.30,-0.7 V57.00" fill="none" stroke="#939393" stroke-width="1"/>
<g filter="url(#tex)" opacity="0.9">
<path d="M4.60,15.50 C4.90,13.93 5.33,13.18 6.00,12.60 C6.67,12.02 7.68,11.87 8.60,12.00 C9.52,12.13 10.67,12.63 11.50,13.40 C12.33,14.17 13.08,15.60 13.60,16.60 C14.12,17.60 14.15,18.90 14.60,19.40 C15.05,19.90 15.65,19.50 16.30,19.60 C16.95,19.70 17.60,19.60 18.50,20.00 C19.40,20.40 20.70,21.08 21.70,22.00 C22.70,22.92 23.72,24.25 24.50,25.50 C25.28,26.75 25.90,28.07 26.40,29.50 C26.90,30.93 27.35,32.75 27.50,34.10 C27.65,35.45 27.58,36.62 27.30,37.60 C27.02,38.58 26.43,39.72 25.80,40.00 C25.17,40.28 24.38,39.83 23.50,39.30 C22.62,38.77 21.67,37.63 20.50,36.80 C19.33,35.97 17.65,34.90 16.50,34.30 C15.35,33.70 14.62,33.25 13.60,33.20 C12.58,33.15 11.27,33.83 10.40,34.00 C9.53,34.17 9.10,34.60 8.40,34.20 C7.70,33.80 6.78,32.72 6.20,31.60 C5.62,30.48 5.23,29.10 4.90,27.50 C4.57,25.90 4.25,24.00 4.20,22.00 C4.15,20.00 4.30,17.07 4.60,15.50Z" fill="url(#lg11)" stroke="url(#lg11)" stroke-width="1.3" stroke-opacity="0.35"/>
<path d="M15.00,19.60 C15.75,19.38 17.38,19.77 18.50,20.20 C19.62,20.63 20.70,21.28 21.70,22.20 C22.70,23.12 23.72,24.47 24.50,25.70 C25.28,26.93 25.90,28.20 26.40,29.60 C26.90,31.00 27.35,32.77 27.50,34.10 C27.65,35.43 27.58,36.62 27.30,37.60 C27.02,38.58 26.43,39.72 25.80,40.00 C25.17,40.28 24.38,39.83 23.50,39.30 C22.62,38.77 21.67,37.63 20.50,36.80 C19.33,35.97 17.55,35.10 16.50,34.30 C15.45,33.50 14.68,33.38 14.20,32.00 C13.72,30.62 13.63,27.75 13.60,26.00 C13.57,24.25 13.77,22.57 14.00,21.50 C14.23,20.43 14.25,19.82 15.00,19.60Z" fill="url(#lg12)" stroke="url(#lg12)" stroke-width="1.3" stroke-opacity="0.35"/>
<path d="M10.50,29.80 C10.95,29.72 11.20,30.05 11.20,30.50 C11.20,30.95 10.90,31.82 10.50,32.50 C10.10,33.18 9.30,34.43 8.80,34.60 C8.30,34.77 7.55,34.10 7.50,33.50 C7.45,32.90 8.00,31.62 8.50,31.00 C9.00,30.38 10.05,29.88 10.50,29.80Z" fill="#a8c830" stroke="#a8c830" stroke-width="1.3" stroke-opacity="0.35"/>
<path d="M29.80,28.50 C30.28,28.70 31.13,29.58 31.50,31.00 C31.87,32.42 31.82,35.13 32.00,37.00 C32.18,38.87 32.62,40.50 32.60,42.20 C32.58,43.90 32.43,46.05 31.90,47.20 C31.37,48.35 30.23,49.00 29.40,49.10 C28.57,49.20 27.53,48.73 26.90,47.80 C26.27,46.87 25.73,45.05 25.60,43.50 C25.47,41.95 25.72,40.17 26.10,38.50 C26.48,36.83 27.48,34.95 27.90,33.50 C28.32,32.05 28.28,30.63 28.60,29.80 C28.92,28.97 29.32,28.30 29.80,28.50Z" fill="#a8c838" stroke="#a8c838" stroke-width="1.3" stroke-opacity="0.35"/>
<path d="M21.30,51.00 C21.30,51.38 21.05,51.94 20.80,52.13 C20.55,52.31 20.05,52.31 19.80,52.13 C19.55,51.94 19.30,51.38 19.30,51.00 C19.30,50.62 19.55,50.06 19.80,49.87 C20.05,49.69 20.55,49.69 20.80,49.87 C21.05,50.06 21.30,50.62 21.30,51.00Z" fill="#90b040" stroke="#90b040" stroke-width="1.3" stroke-opacity="0.35"/>
<path d="M31.40,5.90 C31.18,3.38 31.72,3.47 32.20,5.90 C32.68,8.33 34.08,17.98 34.30,20.50 C34.52,23.02 33.98,23.43 33.50,21.00 C33.02,18.57 31.62,8.42 31.40,5.90Z" fill="#e8e040" stroke="#e8e040" stroke-width="1.3" stroke-opacity="0.35"/>
<path d="M28.30,21.00 C28.05,19.70 28.83,19.67 29.50,20.80 C30.17,21.93 32.05,26.50 32.30,27.80 C32.55,29.10 31.67,29.73 31.00,28.60 C30.33,27.47 28.55,22.30 28.30,21.00Z" fill="#5080c0" stroke="#5080c0" stroke-width="1.3" stroke-opacity="0.35"/>
<path d="M34.50,17.20 C35.15,17.03 36.37,17.28 36.70,18.00 C37.03,18.72 36.95,20.57 36.50,21.50 C36.05,22.43 34.70,23.43 34.00,23.60 C33.30,23.77 32.50,23.27 32.30,22.50 C32.10,21.73 32.43,19.88 32.80,19.00 C33.17,18.12 33.85,17.37 34.50,17.20Z" fill="#c8dc40" stroke="#c8dc40" stroke-width="1.3" stroke-opacity="0.35"/>
<path d="M38.70,9.70 C39.12,9.37 40.00,9.87 40.50,10.50 C41.00,11.13 41.62,12.50 41.70,13.50 C41.78,14.50 41.48,15.87 41.00,16.50 C40.52,17.13 39.38,17.47 38.80,17.30 C38.22,17.13 37.63,16.30 37.50,15.50 C37.37,14.70 37.80,13.47 38.00,12.50 C38.20,11.53 38.28,10.03 38.70,9.70Z" fill="#d8e048" stroke="#d8e048" stroke-width="1.3" stroke-opacity="0.35"/>
<path d="M43.55,24.10 C45.12,23.78 47.95,24.37 49.20,25.30 C50.45,26.23 50.85,27.92 51.05,29.70 C51.25,31.48 50.82,34.08 50.40,35.95 C49.98,37.83 49.38,39.59 48.55,40.95 C47.72,42.31 46.54,43.58 45.40,44.10 C44.26,44.62 42.84,44.52 41.70,44.10 C40.56,43.68 39.38,42.75 38.55,41.60 C37.72,40.45 36.91,38.77 36.70,37.20 C36.49,35.63 36.78,33.87 37.30,32.20 C37.82,30.53 38.76,28.55 39.80,27.20 C40.84,25.85 41.98,24.42 43.55,24.10Z" fill="url(#lg13)" stroke="url(#lg13)" stroke-width="1.3" stroke-opacity="0.35"/>
</g>
<ellipse cx="44.6" cy="35.4" rx="10.3" ry="13.85" transform="rotate(33 44.6 35.4)" fill="none" stroke="#111" stroke-width="1.75" stroke-dasharray="3.9 2.05"/>
<line x1="0" y1="0" x2="0" y2="57.00" stroke="#707070" stroke-width="1"/>
<line x1="0" y1="57.00" x2="57.30" y2="57.00" stroke="#707070" stroke-width="1"/>
<line x1="-2" y1="57.00" x2="0" y2="57.00" stroke="#555" stroke-width="0.8"/>
<line x1="-2" y1="39.70" x2="0" y2="39.70" stroke="#555" stroke-width="0.8"/>
<line x1="-2" y1="22.40" x2="0" y2="22.40" stroke="#555" stroke-width="0.8"/>
<line x1="-2" y1="5.10" x2="0" y2="5.10" stroke="#555" stroke-width="0.8"/>
<line x1="0.30" y1="57.00" x2="0.30" y2="58.60" stroke="#555" stroke-width="0.8"/>
<line x1="13.28" y1="57.00" x2="13.28" y2="58.60" stroke="#555" stroke-width="0.8"/>
<line x1="26.25" y1="57.00" x2="26.25" y2="58.60" stroke="#555" stroke-width="0.8"/>
<line x1="39.23" y1="57.00" x2="39.23" y2="58.60" stroke="#555" stroke-width="0.8"/>
<line x1="52.20" y1="57.00" x2="52.20" y2="58.60" stroke="#555" stroke-width="0.8"/>
<path d="M-1,57.0h1M-1,53.5h1M-1,50.1h1M-1,46.6h1M-1,43.2h1M-1,39.7h1M-1,36.2h1M-1,32.8h1M-1,29.3h1M-1,25.9h1M-1,22.4h1M-1,18.9h1M-1,15.5h1M-1,12.0h1M-1,8.6h1M-1,5.1h1M-1,1.6h1M0.3,57.0v1M2.9,57.0v1M5.5,57.0v1M8.1,57.0v1M10.7,57.0v1M13.3,57.0v1M15.9,57.0v1M18.5,57.0v1M21.1,57.0v1M23.7,57.0v1M26.3,57.0v1M28.8,57.0v1M31.4,57.0v1M34.0,57.0v1M36.6,57.0v1M39.2,57.0v1M41.8,57.0v1M44.4,57.0v1M47.0,57.0v1M49.6,57.0v1M52.2,57.0v1M54.8,57.0v1" stroke="#777" stroke-width="0.6"/>
</g>
<text x="252.48" y="90.25" font-size="6.4" text-anchor="start" font-weight="normal" fill="#333" stroke="#333" stroke-width="0.12" textLength="3.22" lengthAdjust="spacingAndGlyphs" >0</text>
<text x="247.64" y="72.95" font-size="6.4" text-anchor="start" font-weight="normal" fill="#333" stroke="#333" stroke-width="0.12" textLength="8.06" lengthAdjust="spacingAndGlyphs" >5.0</text>
<text x="249.25" y="55.65" font-size="6.4" text-anchor="start" font-weight="normal" fill="#333" stroke="#333" stroke-width="0.12" textLength="6.45" lengthAdjust="spacingAndGlyphs" >10</text>
<text x="249.25" y="38.35" font-size="6.4" text-anchor="start" font-weight="normal" fill="#333" stroke="#333" stroke-width="0.12" textLength="6.45" lengthAdjust="spacingAndGlyphs" >15</text>
<text x="258.59" y="97.40" font-size="6.4" text-anchor="start" font-weight="normal" fill="#333" stroke="#333" stroke-width="0.12" textLength="3.22" lengthAdjust="spacingAndGlyphs" >0</text>
<text x="269.14" y="97.40" font-size="6.4" text-anchor="start" font-weight="normal" fill="#333" stroke="#333" stroke-width="0.12" textLength="8.06" lengthAdjust="spacingAndGlyphs" >5.0</text>
<text x="282.93" y="97.40" font-size="6.4" text-anchor="start" font-weight="normal" fill="#333" stroke="#333" stroke-width="0.12" textLength="6.45" lengthAdjust="spacingAndGlyphs" >10</text>
<text x="295.90" y="97.40" font-size="6.4" text-anchor="start" font-weight="normal" fill="#333" stroke="#333" stroke-width="0.12" textLength="6.45" lengthAdjust="spacingAndGlyphs" >15</text>
<text x="308.88" y="97.40" font-size="6.4" text-anchor="start" font-weight="normal" fill="#333" stroke="#333" stroke-width="0.12" textLength="6.45" lengthAdjust="spacingAndGlyphs" >20</text>
<g transform="translate(337.20,31.40)">
<line x1="13.28" y1="0.5" x2="13.28" y2="57.00" stroke="#ececf8" stroke-width="0.6"/>
<line x1="26.25" y1="0.5" x2="26.25" y2="57.00" stroke="#ececf8" stroke-width="0.6"/>
<line x1="39.23" y1="0.5" x2="39.23" y2="57.00" stroke="#ececf8" stroke-width="0.6"/>
<line x1="52.20" y1="0.5" x2="52.20" y2="57.00" stroke="#ececf8" stroke-width="0.6"/>
<line x1="0" y1="39.70" x2="57.30" y2="39.70" stroke="#f0eef4" stroke-width="0.6"/>
<line x1="0" y1="22.40" x2="57.30" y2="22.40" stroke="#f0eef4" stroke-width="0.6"/>
<line x1="0" y1="5.10" x2="57.30" y2="5.10" stroke="#f0eef4" stroke-width="0.6"/>
<path d="M0,-0.2 H57.30" fill="none" stroke="#b0b0b0" stroke-width="1"/>
<path d="M57.30,-0.7 V57.00" fill="none" stroke="#939393" stroke-width="1"/>
<g filter="url(#tex)" opacity="0.9">
<path d="M4.60,15.50 C4.90,13.93 5.33,13.18 6.00,12.60 C6.67,12.02 7.68,11.87 8.60,12.00 C9.52,12.13 10.67,12.63 11.50,13.40 C12.33,14.17 13.08,15.60 13.60,16.60 C14.12,17.60 14.15,18.90 14.60,19.40 C15.05,19.90 15.65,19.50 16.30,19.60 C16.95,19.70 17.60,19.60 18.50,20.00 C19.40,20.40 20.70,21.08 21.70,22.00 C22.70,22.92 23.72,24.25 24.50,25.50 C25.28,26.75 25.90,28.07 26.40,29.50 C26.90,30.93 27.35,32.75 27.50,34.10 C27.65,35.45 27.58,36.62 27.30,37.60 C27.02,38.58 26.43,39.72 25.80,40.00 C25.17,40.28 24.38,39.83 23.50,39.30 C22.62,38.77 21.67,37.63 20.50,36.80 C19.33,35.97 17.65,34.90 16.50,34.30 C15.35,33.70 14.62,33.25 13.60,33.20 C12.58,33.15 11.27,33.83 10.40,34.00 C9.53,34.17 9.10,34.60 8.40,34.20 C7.70,33.80 6.78,32.72 6.20,31.60 C5.62,30.48 5.23,29.10 4.90,27.50 C4.57,25.90 4.25,24.00 4.20,22.00 C4.15,20.00 4.30,17.07 4.60,15.50Z" fill="url(#lg14)" stroke="url(#lg14)" stroke-width="1.3" stroke-opacity="0.35"/>
<path d="M15.00,19.60 C15.75,19.38 17.38,19.77 18.50,20.20 C19.62,20.63 20.70,21.28 21.70,22.20 C22.70,23.12 23.72,24.47 24.50,25.70 C25.28,26.93 25.90,28.20 26.40,29.60 C26.90,31.00 27.35,32.77 27.50,34.10 C27.65,35.43 27.58,36.62 27.30,37.60 C27.02,38.58 26.43,39.72 25.80,40.00 C25.17,40.28 24.38,39.83 23.50,39.30 C22.62,38.77 21.67,37.63 20.50,36.80 C19.33,35.97 17.55,35.10 16.50,34.30 C15.45,33.50 14.68,33.38 14.20,32.00 C13.72,30.62 13.63,27.75 13.60,26.00 C13.57,24.25 13.77,22.57 14.00,21.50 C14.23,20.43 14.25,19.82 15.00,19.60Z" fill="url(#lg15)" stroke="url(#lg15)" stroke-width="1.3" stroke-opacity="0.35"/>
<path d="M10.50,29.80 C10.95,29.72 11.20,30.05 11.20,30.50 C11.20,30.95 10.90,31.82 10.50,32.50 C10.10,33.18 9.30,34.43 8.80,34.60 C8.30,34.77 7.55,34.10 7.50,33.50 C7.45,32.90 8.00,31.62 8.50,31.00 C9.00,30.38 10.05,29.88 10.50,29.80Z" fill="#a0c838" stroke="#a0c838" stroke-width="1.3" stroke-opacity="0.35"/>
<path d="M29.80,28.50 C30.28,28.70 31.13,29.58 31.50,31.00 C31.87,32.42 31.82,35.13 32.00,37.00 C32.18,38.87 32.62,40.50 32.60,42.20 C32.58,43.90 32.43,46.05 31.90,47.20 C31.37,48.35 30.23,49.00 29.40,49.10 C28.57,49.20 27.53,48.73 26.90,47.80 C26.27,46.87 25.73,45.05 25.60,43.50 C25.47,41.95 25.72,40.17 26.10,38.50 C26.48,36.83 27.48,34.95 27.90,33.50 C28.32,32.05 28.28,30.63 28.60,29.80 C28.92,28.97 29.32,28.30 29.80,28.50Z" fill="#80b838" stroke="#80b838" stroke-width="1.3" stroke-opacity="0.35"/>
<path d="M21.30,51.00 C21.30,51.38 21.05,51.94 20.80,52.13 C20.55,52.31 20.05,52.31 19.80,52.13 C19.55,51.94 19.30,51.38 19.30,51.00 C19.30,50.62 19.55,50.06 19.80,49.87 C20.05,49.69 20.55,49.69 20.80,49.87 C21.05,50.06 21.30,50.62 21.30,51.00Z" fill="#90b840" stroke="#90b840" stroke-width="1.3" stroke-opacity="0.35"/>
<path d="M31.40,5.90 C31.18,3.38 31.72,3.47 32.20,5.90 C32.68,8.33 34.08,17.98 34.30,20.50 C34.52,23.02 33.98,23.43 33.50,21.00 C33.02,18.57 31.62,8.42 31.40,5.90Z" fill="#d8e878" stroke="#d8e878" stroke-width="1.3" stroke-opacity="0.35"/>
<path d="M28.30,21.00 C28.05,19.70 28.83,19.67 29.50,20.80 C30.17,21.93 32.05,26.50 32.30,27.80 C32.55,29.10 31.67,29.73 31.00,28.60 C30.33,27.47 28.55,22.30 28.30,21.00Z" fill="#6080c0" stroke="#6080c0" stroke-width="1.3" stroke-opacity="0.35"/>
<path d="M34.50,17.20 C35.15,17.03 36.37,17.28 36.70,18.00 C37.03,18.72 36.95,20.57 36.50,21.50 C36.05,22.43 34.70,23.43 34.00,23.60 C33.30,23.77 32.50,23.27 32.30,22.50 C32.10,21.73 32.43,19.88 32.80,19.00 C33.17,18.12 33.85,17.37 34.50,17.20Z" fill="#a8d040" stroke="#a8d040" stroke-width="1.3" stroke-opacity="0.35"/>
<path d="M38.70,9.70 C39.12,9.37 40.00,9.87 40.50,10.50 C41.00,11.13 41.62,12.50 41.70,13.50 C41.78,14.50 41.48,15.87 41.00,16.50 C40.52,17.13 39.38,17.47 38.80,17.30 C38.22,17.13 37.63,16.30 37.50,15.50 C37.37,14.70 37.80,13.47 38.00,12.50 C38.20,11.53 38.28,10.03 38.70,9.70Z" fill="#88c040" stroke="#88c040" stroke-width="1.3" stroke-opacity="0.35"/>
<path d="M43.55,24.10 C45.12,23.78 47.95,24.37 49.20,25.30 C50.45,26.23 50.85,27.92 51.05,29.70 C51.25,31.48 50.82,34.08 50.40,35.95 C49.98,37.83 49.38,39.59 48.55,40.95 C47.72,42.31 46.54,43.58 45.40,44.10 C44.26,44.62 42.84,44.52 41.70,44.10 C40.56,43.68 39.38,42.75 38.55,41.60 C37.72,40.45 36.91,38.77 36.70,37.20 C36.49,35.63 36.78,33.87 37.30,32.20 C37.82,30.53 38.76,28.55 39.80,27.20 C40.84,25.85 41.98,24.42 43.55,24.10Z" fill="url(#lg16)" stroke="url(#lg16)" stroke-width="1.3" stroke-opacity="0.35"/>
</g>
<ellipse cx="44.6" cy="35.4" rx="10.3" ry="13.85" transform="rotate(33 44.6 35.4)" fill="none" stroke="#111" stroke-width="1.75" stroke-dasharray="3.9 2.05"/>
<line x1="0" y1="0" x2="0" y2="57.00" stroke="#707070" stroke-width="1"/>
<line x1="0" y1="57.00" x2="57.30" y2="57.00" stroke="#707070" stroke-width="1"/>
<line x1="-2" y1="57.00" x2="0" y2="57.00" stroke="#555" stroke-width="0.8"/>
<line x1="-2" y1="39.70" x2="0" y2="39.70" stroke="#555" stroke-width="0.8"/>
<line x1="-2" y1="22.40" x2="0" y2="22.40" stroke="#555" stroke-width="0.8"/>
<line x1="-2" y1="5.10" x2="0" y2="5.10" stroke="#555" stroke-width="0.8"/>
<line x1="0.30" y1="57.00" x2="0.30" y2="58.60" stroke="#555" stroke-width="0.8"/>
<line x1="13.28" y1="57.00" x2="13.28" y2="58.60" stroke="#555" stroke-width="0.8"/>
<line x1="26.25" y1="57.00" x2="26.25" y2="58.60" stroke="#555" stroke-width="0.8"/>
<line x1="39.23" y1="57.00" x2="39.23" y2="58.60" stroke="#555" stroke-width="0.8"/>
<line x1="52.20" y1="57.00" x2="52.20" y2="58.60" stroke="#555" stroke-width="0.8"/>
<path d="M-1,57.0h1M-1,53.5h1M-1,50.1h1M-1,46.6h1M-1,43.2h1M-1,39.7h1M-1,36.2h1M-1,32.8h1M-1,29.3h1M-1,25.9h1M-1,22.4h1M-1,18.9h1M-1,15.5h1M-1,12.0h1M-1,8.6h1M-1,5.1h1M-1,1.6h1M0.3,57.0v1M2.9,57.0v1M5.5,57.0v1M8.1,57.0v1M10.7,57.0v1M13.3,57.0v1M15.9,57.0v1M18.5,57.0v1M21.1,57.0v1M23.7,57.0v1M26.3,57.0v1M28.8,57.0v1M31.4,57.0v1M34.0,57.0v1M36.6,57.0v1M39.2,57.0v1M41.8,57.0v1M44.4,57.0v1M47.0,57.0v1M49.6,57.0v1M52.2,57.0v1M54.8,57.0v1" stroke="#777" stroke-width="0.6"/>
</g>
<text x="329.78" y="90.25" font-size="6.4" text-anchor="start" font-weight="normal" fill="#333" stroke="#333" stroke-width="0.12" textLength="3.22" lengthAdjust="spacingAndGlyphs" >0</text>
<text x="324.94" y="72.95" font-size="6.4" text-anchor="start" font-weight="normal" fill="#333" stroke="#333" stroke-width="0.12" textLength="8.06" lengthAdjust="spacingAndGlyphs" >5.0</text>
<text x="326.55" y="55.65" font-size="6.4" text-anchor="start" font-weight="normal" fill="#333" stroke="#333" stroke-width="0.12" textLength="6.45" lengthAdjust="spacingAndGlyphs" >10</text>
<text x="326.55" y="38.35" font-size="6.4" text-anchor="start" font-weight="normal" fill="#333" stroke="#333" stroke-width="0.12" textLength="6.45" lengthAdjust="spacingAndGlyphs" >15</text>
<text x="335.89" y="97.40" font-size="6.4" text-anchor="start" font-weight="normal" fill="#333" stroke="#333" stroke-width="0.12" textLength="3.22" lengthAdjust="spacingAndGlyphs" >0</text>
<text x="346.44" y="97.40" font-size="6.4" text-anchor="start" font-weight="normal" fill="#333" stroke="#333" stroke-width="0.12" textLength="8.06" lengthAdjust="spacingAndGlyphs" >5.0</text>
<text x="360.23" y="97.40" font-size="6.4" text-anchor="start" font-weight="normal" fill="#333" stroke="#333" stroke-width="0.12" textLength="6.45" lengthAdjust="spacingAndGlyphs" >10</text>
<text x="373.20" y="97.40" font-size="6.4" text-anchor="start" font-weight="normal" fill="#333" stroke="#333" stroke-width="0.12" textLength="6.45" lengthAdjust="spacingAndGlyphs" >15</text>
<text x="386.18" y="97.40" font-size="6.4" text-anchor="start" font-weight="normal" fill="#333" stroke="#333" stroke-width="0.12" textLength="6.45" lengthAdjust="spacingAndGlyphs" >20</text>
<g transform="translate(415.20,31.40)">
<line x1="13.28" y1="0.5" x2="13.28" y2="57.00" stroke="#ececf8" stroke-width="0.6"/>
<line x1="26.25" y1="0.5" x2="26.25" y2="57.00" stroke="#ececf8" stroke-width="0.6"/>
<line x1="39.23" y1="0.5" x2="39.23" y2="57.00" stroke="#ececf8" stroke-width="0.6"/>
<line x1="52.20" y1="0.5" x2="52.20" y2="57.00" stroke="#ececf8" stroke-width="0.6"/>
<line x1="0" y1="39.70" x2="57.30" y2="39.70" stroke="#f0eef4" stroke-width="0.6"/>
<line x1="0" y1="22.40" x2="57.30" y2="22.40" stroke="#f0eef4" stroke-width="0.6"/>
<line x1="0" y1="5.10" x2="57.30" y2="5.10" stroke="#f0eef4" stroke-width="0.6"/>
<path d="M0,-0.2 H57.30" fill="none" stroke="#b0b0b0" stroke-width="1"/>
<path d="M57.30,-0.7 V57.00" fill="none" stroke="#939393" stroke-width="1"/>
<g filter="url(#soft)" opacity="0.95">
<path d="M4.60,15.50 C4.90,13.93 5.33,13.18 6.00,12.60 C6.67,12.02 7.68,11.87 8.60,12.00 C9.52,12.13 10.67,12.63 11.50,13.40 C12.33,14.17 13.08,15.60 13.60,16.60 C14.12,17.60 14.15,18.90 14.60,19.40 C15.05,19.90 15.65,19.50 16.30,19.60 C16.95,19.70 17.60,19.60 18.50,20.00 C19.40,20.40 20.70,21.08 21.70,22.00 C22.70,22.92 23.72,24.25 24.50,25.50 C25.28,26.75 25.90,28.07 26.40,29.50 C26.90,30.93 27.35,32.75 27.50,34.10 C27.65,35.45 27.58,36.62 27.30,37.60 C27.02,38.58 26.43,39.72 25.80,40.00 C25.17,40.28 24.38,39.83 23.50,39.30 C22.62,38.77 21.67,37.63 20.50,36.80 C19.33,35.97 17.65,34.90 16.50,34.30 C15.35,33.70 14.62,33.25 13.60,33.20 C12.58,33.15 11.27,33.83 10.40,34.00 C9.53,34.17 9.10,34.60 8.40,34.20 C7.70,33.80 6.78,32.72 6.20,31.60 C5.62,30.48 5.23,29.10 4.90,27.50 C4.57,25.90 4.25,24.00 4.20,22.00 C4.15,20.00 4.30,17.07 4.60,15.50Z" fill="#7cc042" stroke="#7cc042" stroke-width="1.3" stroke-opacity="0.35"/>
<path d="M10.50,29.80 C10.95,29.72 11.20,30.05 11.20,30.50 C11.20,30.95 10.90,31.82 10.50,32.50 C10.10,33.18 9.30,34.43 8.80,34.60 C8.30,34.77 7.55,34.10 7.50,33.50 C7.45,32.90 8.00,31.62 8.50,31.00 C9.00,30.38 10.05,29.88 10.50,29.80Z" fill="#6a4ca0" stroke="#6a4ca0" stroke-width="1.3" stroke-opacity="0.35"/>
<path d="M29.80,28.50 C30.28,28.70 31.13,29.58 31.50,31.00 C31.87,32.42 31.82,35.13 32.00,37.00 C32.18,38.87 32.62,40.50 32.60,42.20 C32.58,43.90 32.43,46.05 31.90,47.20 C31.37,48.35 30.23,49.00 29.40,49.10 C28.57,49.20 27.53,48.73 26.90,47.80 C26.27,46.87 25.73,45.05 25.60,43.50 C25.47,41.95 25.72,40.17 26.10,38.50 C26.48,36.83 27.48,34.95 27.90,33.50 C28.32,32.05 28.28,30.63 28.60,29.80 C28.92,28.97 29.32,28.30 29.80,28.50Z" fill="url(#lg17)" stroke="url(#lg17)" stroke-width="1.3" stroke-opacity="0.35"/>
<path d="M21.30,51.00 C21.30,51.38 21.05,51.94 20.80,52.13 C20.55,52.31 20.05,52.31 19.80,52.13 C19.55,51.94 19.30,51.38 19.30,51.00 C19.30,50.62 19.55,50.06 19.80,49.87 C20.05,49.69 20.55,49.69 20.80,49.87 C21.05,50.06 21.30,50.62 21.30,51.00Z" fill="#b0b0b0" stroke="#b0b0b0" stroke-width="1.3" stroke-opacity="0.35"/>
<path d="M30.40,4.70 C30.07,2.98 30.75,3.07 31.40,4.70 C32.05,6.33 33.97,12.78 34.30,14.50 C34.63,16.22 34.05,16.63 33.40,15.00 C32.75,13.37 30.73,6.42 30.40,4.70Z" fill="#40a8d8" stroke="#40a8d8" stroke-width="1.3" stroke-opacity="0.35"/>
<path d="M28.30,21.00 C28.05,19.70 28.83,19.67 29.50,20.80 C30.17,21.93 32.05,26.50 32.30,27.80 C32.55,29.10 31.67,29.73 31.00,28.60 C30.33,27.47 28.55,22.30 28.30,21.00Z" fill="#a8d4f0" stroke="#a8d4f0" stroke-width="1.3" stroke-opacity="0.35"/>
<path d="M34.50,17.20 C35.15,17.03 36.37,17.28 36.70,18.00 C37.03,18.72 36.95,20.57 36.50,21.50 C36.05,22.43 34.70,23.43 34.00,23.60 C33.30,23.77 32.50,23.27 32.30,22.50 C32.10,21.73 32.43,19.88 32.80,19.00 C33.17,18.12 33.85,17.37 34.50,17.20Z" fill="#c4c4c4" stroke="#c4c4c4" stroke-width="1.3" stroke-opacity="0.35"/>
<path d="M38.70,9.70 C39.12,9.37 40.00,9.87 40.50,10.50 C41.00,11.13 41.62,12.50 41.70,13.50 C41.78,14.50 41.48,15.87 41.00,16.50 C40.52,17.13 39.38,17.47 38.80,17.30 C38.22,17.13 37.63,16.30 37.50,15.50 C37.37,14.70 37.80,13.47 38.00,12.50 C38.20,11.53 38.28,10.03 38.70,9.70Z" fill="#48b0e0" stroke="#48b0e0" stroke-width="1.3" stroke-opacity="0.35"/>
<path d="M43.55,24.10 C45.12,23.78 47.95,24.37 49.20,25.30 C50.45,26.23 50.85,27.92 51.05,29.70 C51.25,31.48 50.82,34.08 50.40,35.95 C49.98,37.83 49.38,39.59 48.55,40.95 C47.72,42.31 46.54,43.58 45.40,44.10 C44.26,44.62 42.84,44.52 41.70,44.10 C40.56,43.68 39.38,42.75 38.55,41.60 C37.72,40.45 36.91,38.77 36.70,37.20 C36.49,35.63 36.78,33.87 37.30,32.20 C37.82,30.53 38.76,28.55 39.80,27.20 C40.84,25.85 41.98,24.42 43.55,24.10Z" fill="#3c7c38" stroke="#3c7c38" stroke-width="1.3" stroke-opacity="0.35"/>
</g>
<path d="M41.50,36.00 C41.50,36.82 41.25,37.89 40.91,38.47 C40.58,39.06 39.97,39.50 39.50,39.50 C39.03,39.50 38.42,39.06 38.09,38.47 C37.75,37.89 37.50,36.82 37.50,36.00 C37.50,35.18 37.75,34.11 38.09,33.53 C38.42,32.94 39.03,32.50 39.50,32.50 C39.97,32.50 40.58,32.94 40.91,33.53 C41.25,34.11 41.50,35.18 41.50,36.00Z" fill="#a8c8a0" opacity="0.85" filter="url(#soft)"/>
<path d="M43.10,42.00 C43.10,42.38 42.70,42.94 42.30,43.13 C41.90,43.31 41.10,43.31 40.70,43.13 C40.30,42.94 39.90,42.38 39.90,42.00 C39.90,41.62 40.30,41.06 40.70,40.87 C41.10,40.69 41.90,40.69 42.30,40.87 C42.70,41.06 43.10,41.62 43.10,42.00Z" fill="#a0c090" opacity="0.7" filter="url(#soft)"/>
<ellipse cx="43.6" cy="33.9" rx="10.3" ry="13.85" transform="rotate(33 43.6 33.9)" fill="none" stroke="#111" stroke-width="1.75" stroke-dasharray="3.9 2.05"/>
<line x1="0" y1="0" x2="0" y2="57.00" stroke="#707070" stroke-width="1"/>
<line x1="0" y1="57.00" x2="57.30" y2="57.00" stroke="#707070" stroke-width="1"/>
<line x1="-2" y1="57.00" x2="0" y2="57.00" stroke="#555" stroke-width="0.8"/>
<line x1="-2" y1="39.70" x2="0" y2="39.70" stroke="#555" stroke-width="0.8"/>
<line x1="-2" y1="22.40" x2="0" y2="22.40" stroke="#555" stroke-width="0.8"/>
<line x1="-2" y1="5.10" x2="0" y2="5.10" stroke="#555" stroke-width="0.8"/>
<line x1="0.30" y1="57.00" x2="0.30" y2="58.60" stroke="#555" stroke-width="0.8"/>
<line x1="13.28" y1="57.00" x2="13.28" y2="58.60" stroke="#555" stroke-width="0.8"/>
<line x1="26.25" y1="57.00" x2="26.25" y2="58.60" stroke="#555" stroke-width="0.8"/>
<line x1="39.23" y1="57.00" x2="39.23" y2="58.60" stroke="#555" stroke-width="0.8"/>
<line x1="52.20" y1="57.00" x2="52.20" y2="58.60" stroke="#555" stroke-width="0.8"/>
<path d="M-1,57.0h1M-1,53.5h1M-1,50.1h1M-1,46.6h1M-1,43.2h1M-1,39.7h1M-1,36.2h1M-1,32.8h1M-1,29.3h1M-1,25.9h1M-1,22.4h1M-1,18.9h1M-1,15.5h1M-1,12.0h1M-1,8.6h1M-1,5.1h1M-1,1.6h1M0.3,57.0v1M2.9,57.0v1M5.5,57.0v1M8.1,57.0v1M10.7,57.0v1M13.3,57.0v1M15.9,57.0v1M18.5,57.0v1M21.1,57.0v1M23.7,57.0v1M26.3,57.0v1M28.8,57.0v1M31.4,57.0v1M34.0,57.0v1M36.6,57.0v1M39.2,57.0v1M41.8,57.0v1M44.4,57.0v1M47.0,57.0v1M49.6,57.0v1M52.2,57.0v1M54.8,57.0v1" stroke="#777" stroke-width="0.6"/>
</g>
<text x="407.78" y="90.25" font-size="6.4" text-anchor="start" font-weight="normal" fill="#333" stroke="#333" stroke-width="0.12" textLength="3.22" lengthAdjust="spacingAndGlyphs" >0</text>
<text x="402.94" y="72.95" font-size="6.4" text-anchor="start" font-weight="normal" fill="#333" stroke="#333" stroke-width="0.12" textLength="8.06" lengthAdjust="spacingAndGlyphs" >5.0</text>
<text x="404.55" y="55.65" font-size="6.4" text-anchor="start" font-weight="normal" fill="#333" stroke="#333" stroke-width="0.12" textLength="6.45" lengthAdjust="spacingAndGlyphs" >10</text>
<text x="404.55" y="38.35" font-size="6.4" text-anchor="start" font-weight="normal" fill="#333" stroke="#333" stroke-width="0.12" textLength="6.45" lengthAdjust="spacingAndGlyphs" >15</text>
<text x="413.89" y="97.40" font-size="6.4" text-anchor="start" font-weight="normal" fill="#333" stroke="#333" stroke-width="0.12" textLength="3.22" lengthAdjust="spacingAndGlyphs" >0</text>
<text x="424.44" y="97.40" font-size="6.4" text-anchor="start" font-weight="normal" fill="#333" stroke="#333" stroke-width="0.12" textLength="8.06" lengthAdjust="spacingAndGlyphs" >5.0</text>
<text x="438.23" y="97.40" font-size="6.4" text-anchor="start" font-weight="normal" fill="#333" stroke="#333" stroke-width="0.12" textLength="6.45" lengthAdjust="spacingAndGlyphs" >10</text>
<text x="451.20" y="97.40" font-size="6.4" text-anchor="start" font-weight="normal" fill="#333" stroke="#333" stroke-width="0.12" textLength="6.45" lengthAdjust="spacingAndGlyphs" >15</text>
<text x="464.18" y="97.40" font-size="6.4" text-anchor="start" font-weight="normal" fill="#333" stroke="#333" stroke-width="0.12" textLength="6.45" lengthAdjust="spacingAndGlyphs" >20</text>
<g transform="translate(80.10,158.60)">
<line x1="13.28" y1="0.5" x2="13.28" y2="57.00" stroke="#ececf8" stroke-width="0.6"/>
<line x1="26.25" y1="0.5" x2="26.25" y2="57.00" stroke="#ececf8" stroke-width="0.6"/>
<line x1="39.23" y1="0.5" x2="39.23" y2="57.00" stroke="#ececf8" stroke-width="0.6"/>
<line x1="52.20" y1="0.5" x2="52.20" y2="57.00" stroke="#ececf8" stroke-width="0.6"/>
<line x1="0" y1="39.70" x2="57.20" y2="39.70" stroke="#f0eef4" stroke-width="0.6"/>
<line x1="0" y1="22.40" x2="57.20" y2="22.40" stroke="#f0eef4" stroke-width="0.6"/>
<line x1="0" y1="5.10" x2="57.20" y2="5.10" stroke="#f0eef4" stroke-width="0.6"/>
<path d="M0,-0.2 H57.20" fill="none" stroke="#b0b0b0" stroke-width="1"/>
<path d="M57.20,-0.7 V57.00" fill="none" stroke="#939393" stroke-width="1"/>
<g filter="url(#soft)" opacity="0.95">
<path d="M3.00,18.80 C3.25,17.47 3.96,16.87 4.90,16.30 C5.84,15.73 7.30,15.40 8.65,15.40 C10.00,15.40 11.64,15.73 13.00,16.30 C14.36,16.87 15.55,17.87 16.80,18.80 C18.05,19.73 19.25,20.87 20.50,21.90 C21.75,22.93 23.05,23.95 24.30,25.00 C25.55,26.05 26.97,27.05 28.00,28.20 C29.03,29.35 29.97,30.77 30.50,31.90 C31.03,33.03 31.37,33.90 31.20,35.00 C31.03,36.10 30.23,37.77 29.50,38.50 C28.77,39.23 27.57,39.22 26.80,39.40 C26.03,39.58 25.73,39.83 24.90,39.60 C24.07,39.37 22.84,38.55 21.80,38.00 C20.76,37.45 19.78,36.80 18.65,36.30 C17.52,35.80 16.11,35.38 15.00,35.00 C13.89,34.62 13.12,34.45 12.00,34.00 C10.88,33.55 9.40,33.20 8.30,32.30 C7.20,31.40 6.22,29.93 5.40,28.60 C4.58,27.27 3.80,25.93 3.40,24.30 C3.00,22.67 2.75,20.13 3.00,18.80Z" fill="#84c440" stroke="#84c440" stroke-width="1.3" stroke-opacity="0.35"/>
<path d="M11.50,29.00 C12.10,28.83 12.40,29.42 12.40,30.00 C12.40,30.58 11.98,31.67 11.50,32.50 C11.02,33.33 10.08,34.72 9.50,35.00 C8.92,35.28 8.12,34.87 8.00,34.20 C7.88,33.53 8.22,31.87 8.80,31.00 C9.38,30.13 10.90,29.17 11.50,29.00Z" fill="#6a4c9c" stroke="#6a4c9c" stroke-width="1.3" stroke-opacity="0.35"/>
<path d="M30.50,28.20 C30.98,28.52 31.68,30.45 31.80,31.90 C31.92,33.35 31.27,35.23 31.20,36.90 C31.13,38.57 31.52,40.13 31.40,41.90 C31.28,43.67 31.07,46.35 30.50,47.50 C29.93,48.65 28.68,49.11 28.00,48.80 C27.32,48.49 26.72,47.22 26.40,45.65 C26.08,44.08 25.83,41.27 26.10,39.40 C26.37,37.52 27.53,35.97 28.00,34.40 C28.47,32.83 28.48,31.03 28.90,30.00 C29.32,28.97 30.02,27.88 30.50,28.20Z" fill="#f39a3a" stroke="#f39a3a" stroke-width="1.3" stroke-opacity="0.35"/>
<path d="M22.30,45.80 C22.30,46.35 21.93,47.17 21.55,47.45 C21.18,47.72 20.43,47.72 20.05,47.45 C19.68,47.17 19.30,46.35 19.30,45.80 C19.30,45.25 19.68,44.43 20.05,44.15 C20.43,43.88 21.18,43.88 21.55,44.15 C21.93,44.43 22.30,45.25 22.30,45.80Z" fill="#b8a8b8" stroke="#b8a8b8" stroke-width="1.3" stroke-opacity="0.35"/>
<path d="M22.40,50.80 C22.40,51.44 21.95,52.39 21.50,52.71 C21.05,53.02 20.15,53.02 19.70,52.71 C19.25,52.39 18.80,51.44 18.80,50.80 C18.80,50.16 19.25,49.21 19.70,48.89 C20.15,48.58 21.05,48.58 21.50,48.89 C21.95,49.21 22.40,50.16 22.40,50.80Z" fill="#b0a0b0" stroke="#b0a0b0" stroke-width="1.3" stroke-opacity="0.35"/>
<path d="M30.90,5.00 C30.60,3.40 31.43,3.50 32.10,5.00 C32.77,6.50 34.60,12.40 34.90,14.00 C35.20,15.60 34.57,16.10 33.90,14.60 C33.23,13.10 31.20,6.60 30.90,5.00Z" fill="#1c8c8c" stroke="#1c8c8c" stroke-width="1.3" stroke-opacity="0.35"/>
<path d="M36.00,16.90 C36.80,16.40 37.80,16.90 38.00,17.50 C38.20,18.10 37.62,19.45 37.20,20.50 C36.78,21.55 36.13,23.28 35.50,23.80 C34.87,24.32 33.78,24.15 33.40,23.60 C33.02,23.05 32.77,21.62 33.20,20.50 C33.63,19.38 35.20,17.40 36.00,16.90Z" fill="#bdbdbd" stroke="#bdbdbd" stroke-width="1.3" stroke-opacity="0.35"/>
<path d="M29.50,20.65 C30.17,20.53 31.15,21.16 31.50,21.80 C31.85,22.44 31.93,23.75 31.60,24.50 C31.27,25.25 30.17,26.13 29.50,26.30 C28.83,26.47 27.93,26.13 27.60,25.50 C27.27,24.87 27.18,23.31 27.50,22.50 C27.82,21.69 28.83,20.77 29.50,20.65Z" fill="#a8d0f0" stroke="#a8d0f0" stroke-width="1.3" stroke-opacity="0.35"/>
</g>
<path d="M34.00,28.50 C35.17,27.17 38.83,27.75 41.00,28.00 C43.17,28.25 45.75,28.83 47.00,30.00 C48.25,31.17 48.50,33.08 48.50,35.00 C48.50,36.92 48.08,40.00 47.00,41.50 C45.92,43.00 43.58,43.92 42.00,44.00 C40.42,44.08 38.83,43.33 37.50,42.00 C36.17,40.67 34.58,38.25 34.00,36.00 C33.42,33.75 32.83,29.83 34.00,28.50Z" fill="#3c7a3c" opacity="0.16" filter="url(#soft)"/>
<circle cx="36.11" cy="35.28" r="0.6" fill="#3c7a3c"/>
<circle cx="44.23" cy="39.71" r="0.6" fill="#2e6e2e"/>
<circle cx="41.35" cy="29.76" r="0.6" fill="#3c7a3c"/>
<circle cx="35.16" cy="35.30" r="0.6" fill="#3c7a3c"/>
<circle cx="43.55" cy="38.36" r="0.6" fill="#3c7a3c"/>
<circle cx="38.86" cy="32.95" r="0.6" fill="#3c7a3c"/>
<circle cx="46.95" cy="33.92" r="0.6" fill="#2e6e2e"/>
<circle cx="47.86" cy="36.89" r="0.6" fill="#2e6e2e"/>
<circle cx="36.33" cy="38.38" r="0.6" fill="#3c7a3c"/>
<circle cx="36.62" cy="37.64" r="0.6" fill="#3c7a3c"/>
<circle cx="45.22" cy="37.06" r="0.6" fill="#3c7a3c"/>
<circle cx="36.42" cy="28.42" r="0.6" fill="#4a8a40"/>
<circle cx="37.44" cy="35.17" r="0.6" fill="#4a8a40"/>
<circle cx="47.37" cy="34.20" r="0.6" fill="#4a8a40"/>
<circle cx="42.03" cy="43.50" r="0.6" fill="#4a8a40"/>
<circle cx="37.58" cy="37.90" r="0.6" fill="#4a8a40"/>
<circle cx="44.35" cy="39.04" r="0.6" fill="#2e6e2e"/>
<circle cx="41.66" cy="33.49" r="0.6" fill="#2e6e2e"/>
<circle cx="34.90" cy="29.62" r="0.6" fill="#2e6e2e"/>
<circle cx="43.45" cy="32.04" r="0.6" fill="#4a8a40"/>
<circle cx="44.36" cy="40.27" r="0.6" fill="#4a8a40"/>
<circle cx="37.69" cy="28.93" r="0.6" fill="#4a8a40"/>
<circle cx="46.49" cy="30.64" r="0.6" fill="#2e6e2e"/>
<circle cx="44.24" cy="29.94" r="0.6" fill="#3c7a3c"/>
<circle cx="45.34" cy="42.18" r="0.6" fill="#2e6e2e"/>
<circle cx="41.61" cy="31.46" r="0.6" fill="#4a8a40"/>
<circle cx="44.54" cy="33.72" r="0.6" fill="#2e6e2e"/>
<circle cx="34.18" cy="29.82" r="0.6" fill="#3c7a3c"/>
<circle cx="45.92" cy="29.91" r="0.6" fill="#4a8a40"/>
<circle cx="37.03" cy="34.24" r="0.6" fill="#3c7a3c"/>
<circle cx="39.81" cy="39.41" r="0.6" fill="#4a8a40"/>
<circle cx="40.46" cy="28.79" r="0.6" fill="#2e6e2e"/>
<circle cx="36.87" cy="31.98" r="0.6" fill="#3c7a3c"/>
<circle cx="34.57" cy="31.39" r="0.6" fill="#3c7a3c"/>
<circle cx="35.78" cy="29.07" r="0.6" fill="#4a8a40"/>
<circle cx="39.83" cy="36.65" r="0.6" fill="#2e6e2e"/>
<circle cx="40.53" cy="39.13" r="0.6" fill="#4a8a40"/>
<circle cx="36.82" cy="37.28" r="0.6" fill="#2e6e2e"/>
<circle cx="40.06" cy="41.22" r="0.6" fill="#2e6e2e"/>
<circle cx="46.31" cy="41.47" r="0.6" fill="#3c7a3c"/>
<circle cx="39.66" cy="32.34" r="0.6" fill="#2e6e2e"/>
<circle cx="38.27" cy="34.44" r="0.6" fill="#4a8a40"/>
<circle cx="35.16" cy="32.77" r="0.6" fill="#4a8a40"/>
<circle cx="35.26" cy="37.36" r="0.6" fill="#2e6e2e"/>
<circle cx="43.77" cy="35.11" r="0.6" fill="#4a8a40"/>
<circle cx="46.36" cy="41.54" r="0.6" fill="#4a8a40"/>
<circle cx="44.20" cy="36.12" r="0.6" fill="#3c7a3c"/>
<circle cx="39.52" cy="39.65" r="0.6" fill="#3c7a3c"/>
<circle cx="37.08" cy="30.58" r="0.6" fill="#4a8a40"/>
<circle cx="41.97" cy="32.33" r="0.6" fill="#4a8a40"/>
<circle cx="40.63" cy="39.94" r="0.6" fill="#2e6e2e"/>
<circle cx="42.48" cy="37.35" r="0.6" fill="#3c7a3c"/>
<circle cx="43.45" cy="30.01" r="0.6" fill="#3c7a3c"/>
<circle cx="42.40" cy="31.57" r="0.6" fill="#2e6e2e"/>
<circle cx="45.65" cy="34.88" r="0.6" fill="#2e6e2e"/>
<circle cx="34.68" cy="35.06" r="0.6" fill="#3c7a3c"/>
<circle cx="42.21" cy="35.69" r="0.6" fill="#4a8a40"/>
<circle cx="35.28" cy="38.01" r="0.6" fill="#3c7a3c"/>
<circle cx="42.05" cy="41.39" r="0.6" fill="#3c7a3c"/>
<circle cx="42.47" cy="30.72" r="0.6" fill="#2e6e2e"/>
<circle cx="44.68" cy="34.07" r="0.6" fill="#4a8a40"/>
<circle cx="46.22" cy="29.86" r="0.6" fill="#2e6e2e"/>
<circle cx="47.26" cy="32.50" r="0.6" fill="#4a8a40"/>
<circle cx="37.26" cy="29.81" r="0.6" fill="#3c7a3c"/>
<circle cx="35.81" cy="38.10" r="0.6" fill="#3c7a3c"/>
<circle cx="44.69" cy="33.60" r="0.6" fill="#2e6e2e"/>
<circle cx="36.95" cy="28.76" r="0.6" fill="#4a8a40"/>
<circle cx="46.36" cy="37.41" r="0.6" fill="#3c7a3c"/>
<circle cx="42.77" cy="36.38" r="0.6" fill="#3c7a3c"/>
<circle cx="42.39" cy="31.72" r="0.6" fill="#4a8a40"/>
<path d="M39.00,35.50 C39.87,34.67 42.80,34.58 44.00,35.00 C45.20,35.42 46.03,36.75 46.20,38.00 C46.37,39.25 45.87,41.67 45.00,42.50 C44.13,43.33 42.03,43.42 41.00,43.00 C39.97,42.58 39.13,41.25 38.80,40.00 C38.47,38.75 38.13,36.33 39.00,35.50Z" fill="#3c7a3c" opacity="0.16" filter="url(#soft)"/>
<circle cx="41.02" cy="37.45" r="0.7" fill="#2e6e2e"/>
<circle cx="39.45" cy="37.75" r="0.7" fill="#3c7a3c"/>
<circle cx="39.41" cy="37.52" r="0.7" fill="#3c7a3c"/>
<circle cx="41.13" cy="36.22" r="0.7" fill="#3c7a3c"/>
<circle cx="42.08" cy="41.05" r="0.7" fill="#3c7a3c"/>
<circle cx="40.31" cy="39.15" r="0.7" fill="#2e6e2e"/>
<circle cx="44.30" cy="41.76" r="0.7" fill="#3c7a3c"/>
<circle cx="44.97" cy="38.53" r="0.7" fill="#2e6e2e"/>
<circle cx="38.85" cy="38.98" r="0.7" fill="#2e6e2e"/>
<circle cx="42.03" cy="36.64" r="0.7" fill="#2e6e2e"/>
<circle cx="40.41" cy="37.35" r="0.7" fill="#2e6e2e"/>
<circle cx="40.77" cy="41.85" r="0.7" fill="#3c7a3c"/>
<circle cx="39.19" cy="38.33" r="0.7" fill="#2e6e2e"/>
<circle cx="42.30" cy="36.71" r="0.7" fill="#3c7a3c"/>
<circle cx="44.65" cy="37.84" r="0.7" fill="#2e6e2e"/>
<circle cx="44.54" cy="38.66" r="0.7" fill="#2e6e2e"/>
<circle cx="42.75" cy="37.91" r="0.7" fill="#3c7a3c"/>
<circle cx="41.32" cy="41.19" r="0.7" fill="#2e6e2e"/>
<circle cx="40.63" cy="38.99" r="0.7" fill="#3c7a3c"/>
<circle cx="42.73" cy="36.41" r="0.7" fill="#3c7a3c"/>
<circle cx="39.40" cy="39.92" r="0.7" fill="#2e6e2e"/>
<circle cx="44.98" cy="36.75" r="0.7" fill="#2e6e2e"/>
<circle cx="41.81" cy="35.36" r="0.7" fill="#2e6e2e"/>
<circle cx="42.32" cy="40.52" r="0.7" fill="#3c7a3c"/>
<circle cx="42.57" cy="41.89" r="0.7" fill="#3c7a3c"/>
<circle cx="41.57" cy="42.83" r="0.7" fill="#2e6e2e"/>
<circle cx="40.79" cy="35.65" r="0.7" fill="#3c7a3c"/>
<circle cx="44.90" cy="37.20" r="0.7" fill="#2e6e2e"/>
<circle cx="45.94" cy="38.83" r="0.7" fill="#2e6e2e"/>
<circle cx="44.27" cy="40.00" r="0.7" fill="#3c7a3c"/>
<circle cx="42.47" cy="40.04" r="0.7" fill="#2e6e2e"/>
<circle cx="40.15" cy="35.73" r="0.7" fill="#2e6e2e"/>
<circle cx="43.34" cy="42.12" r="0.7" fill="#3c7a3c"/>
<circle cx="42.72" cy="37.71" r="0.7" fill="#3c7a3c"/>
<circle cx="41.73" cy="42.75" r="0.7" fill="#3c7a3c"/>
<circle cx="44.77" cy="38.47" r="0.7" fill="#3c7a3c"/>
<circle cx="44.65" cy="40.98" r="0.7" fill="#3c7a3c"/>
<circle cx="42.13" cy="42.73" r="0.7" fill="#3c7a3c"/>
<circle cx="44.87" cy="39.80" r="0.7" fill="#3c7a3c"/>
<circle cx="44.68" cy="38.91" r="0.7" fill="#3c7a3c"/>
<path d="M30.90,22.50 C30.90,22.85 30.55,23.37 30.20,23.54 C29.85,23.71 29.15,23.71 28.80,23.54 C28.45,23.37 28.10,22.85 28.10,22.50 C28.10,22.15 28.45,21.63 28.80,21.46 C29.15,21.29 29.85,21.29 30.20,21.46 C30.55,21.63 30.90,22.15 30.90,22.50Z" fill="#9ab0e0" opacity="0.8" filter="url(#soft)"/>
<ellipse cx="43.8" cy="36.5" rx="10.3" ry="13.85" transform="rotate(33 43.8 36.5)" fill="none" stroke="#111" stroke-width="1.75" stroke-dasharray="3.9 2.05"/>
<line x1="0" y1="0" x2="0" y2="57.00" stroke="#707070" stroke-width="1"/>
<line x1="0" y1="57.00" x2="57.20" y2="57.00" stroke="#707070" stroke-width="1"/>
<line x1="-2" y1="57.00" x2="0" y2="57.00" stroke="#555" stroke-width="0.8"/>
<line x1="-2" y1="39.70" x2="0" y2="39.70" stroke="#555" stroke-width="0.8"/>
<line x1="-2" y1="22.40" x2="0" y2="22.40" stroke="#555" stroke-width="0.8"/>
<line x1="-2" y1="5.10" x2="0" y2="5.10" stroke="#555" stroke-width="0.8"/>
<line x1="0.30" y1="57.00" x2="0.30" y2="58.60" stroke="#555" stroke-width="0.8"/>
<line x1="13.28" y1="57.00" x2="13.28" y2="58.60" stroke="#555" stroke-width="0.8"/>
<line x1="26.25" y1="57.00" x2="26.25" y2="58.60" stroke="#555" stroke-width="0.8"/>
<line x1="39.23" y1="57.00" x2="39.23" y2="58.60" stroke="#555" stroke-width="0.8"/>
<line x1="52.20" y1="57.00" x2="52.20" y2="58.60" stroke="#555" stroke-width="0.8"/>
<path d="M-1,57.0h1M-1,53.5h1M-1,50.1h1M-1,46.6h1M-1,43.2h1M-1,39.7h1M-1,36.2h1M-1,32.8h1M-1,29.3h1M-1,25.9h1M-1,22.4h1M-1,18.9h1M-1,15.5h1M-1,12.0h1M-1,8.6h1M-1,5.1h1M-1,1.6h1M0.3,57.0v1M2.9,57.0v1M5.5,57.0v1M8.1,57.0v1M10.7,57.0v1M13.3,57.0v1M15.9,57.0v1M18.5,57.0v1M21.1,57.0v1M23.7,57.0v1M26.3,57.0v1M28.8,57.0v1M31.4,57.0v1M34.0,57.0v1M36.6,57.0v1M39.2,57.0v1M41.8,57.0v1M44.4,57.0v1M47.0,57.0v1M49.6,57.0v1M52.2,57.0v1M54.8,57.0v1" stroke="#777" stroke-width="0.6"/>
</g>
<text x="72.68" y="217.45" font-size="6.4" text-anchor="start" font-weight="normal" fill="#333" stroke="#333" stroke-width="0.12" textLength="3.22" lengthAdjust="spacingAndGlyphs" >0</text>
<text x="67.84" y="200.15" font-size="6.4" text-anchor="start" font-weight="normal" fill="#333" stroke="#333" stroke-width="0.12" textLength="8.06" lengthAdjust="spacingAndGlyphs" >5.0</text>
<text x="69.45" y="182.85" font-size="6.4" text-anchor="start" font-weight="normal" fill="#333" stroke="#333" stroke-width="0.12" textLength="6.45" lengthAdjust="spacingAndGlyphs" >10</text>
<text x="69.45" y="165.55" font-size="6.4" text-anchor="start" font-weight="normal" fill="#333" stroke="#333" stroke-width="0.12" textLength="6.45" lengthAdjust="spacingAndGlyphs" >15</text>
<text x="78.79" y="224.60" font-size="6.4" text-anchor="start" font-weight="normal" fill="#333" stroke="#333" stroke-width="0.12" textLength="3.22" lengthAdjust="spacingAndGlyphs" >0</text>
<text x="89.34" y="224.60" font-size="6.4" text-anchor="start" font-weight="normal" fill="#333" stroke="#333" stroke-width="0.12" textLength="8.06" lengthAdjust="spacingAndGlyphs" >5.0</text>
<text x="103.13" y="224.60" font-size="6.4" text-anchor="start" font-weight="normal" fill="#333" stroke="#333" stroke-width="0.12" textLength="6.45" lengthAdjust="spacingAndGlyphs" >10</text>
<text x="116.10" y="224.60" font-size="6.4" text-anchor="start" font-weight="normal" fill="#333" stroke="#333" stroke-width="0.12" textLength="6.45" lengthAdjust="spacingAndGlyphs" >15</text>
<text x="129.08" y="224.60" font-size="6.4" text-anchor="start" font-weight="normal" fill="#333" stroke="#333" stroke-width="0.12" textLength="6.45" lengthAdjust="spacingAndGlyphs" >20</text>
<g transform="translate(155.20,158.60)">
<line x1="13.28" y1="0.5" x2="13.28" y2="57.00" stroke="#ececf8" stroke-width="0.6"/>
<line x1="26.25" y1="0.5" x2="26.25" y2="57.00" stroke="#ececf8" stroke-width="0.6"/>
<line x1="39.23" y1="0.5" x2="39.23" y2="57.00" stroke="#ececf8" stroke-width="0.6"/>
<line x1="52.20" y1="0.5" x2="52.20" y2="57.00" stroke="#ececf8" stroke-width="0.6"/>
<line x1="0" y1="39.70" x2="56.80" y2="39.70" stroke="#f0eef4" stroke-width="0.6"/>
<line x1="0" y1="22.40" x2="56.80" y2="22.40" stroke="#f0eef4" stroke-width="0.6"/>
<line x1="0" y1="5.10" x2="56.80" y2="5.10" stroke="#f0eef4" stroke-width="0.6"/>
<path d="M0,-0.2 H56.80" fill="none" stroke="#b0b0b0" stroke-width="1"/>
<path d="M56.80,-0.7 V57.00" fill="none" stroke="#939393" stroke-width="1"/>
<g filter="url(#soft)" opacity="0.95">
<path d="M2.90,16.30 C3.25,14.99 4.35,14.93 5.40,14.65 C6.45,14.38 8.05,14.28 9.20,14.65 C10.35,15.03 11.47,16.01 12.30,16.90 C13.13,17.79 13.82,18.75 14.20,20.00 C14.57,21.25 14.66,22.93 14.55,24.40 C14.44,25.87 13.93,27.65 13.55,28.80 C13.18,29.95 12.83,30.68 12.30,31.30 C11.78,31.92 11.23,32.50 10.40,32.50 C9.57,32.50 8.23,32.13 7.30,31.30 C6.37,30.47 5.47,28.97 4.80,27.50 C4.13,26.03 3.62,24.37 3.30,22.50 C2.98,20.63 2.55,17.61 2.90,16.30Z" fill="#84c440" stroke="#84c440" stroke-width="1.3" stroke-opacity="0.35"/>
<path d="M10.50,30.00 C11.38,29.92 12.62,30.33 12.90,31.00 C13.18,31.67 12.68,33.23 12.20,34.00 C11.72,34.77 10.73,35.57 10.00,35.65 C9.27,35.73 8.20,35.19 7.80,34.50 C7.40,33.81 7.15,32.25 7.60,31.50 C8.05,30.75 9.62,30.08 10.50,30.00Z" fill="#6a4c9c" stroke="#6a4c9c" stroke-width="1.3" stroke-opacity="0.35"/>
<path d="M32.20,43.00 C32.20,43.98 31.94,45.15 31.55,45.94 C31.16,46.73 30.48,47.45 29.85,47.76 C29.22,48.06 28.38,48.06 27.75,47.76 C27.12,47.45 26.44,46.73 26.05,45.94 C25.66,45.15 25.40,43.98 25.40,43.00 C25.40,42.02 25.66,40.85 26.05,40.06 C26.44,39.27 27.12,38.55 27.75,38.24 C28.38,37.94 29.22,37.94 29.85,38.24 C30.48,38.55 31.16,39.27 31.55,40.06 C31.94,40.85 32.20,42.02 32.20,43.00Z" fill="#f39a3a" stroke="#f39a3a" stroke-width="1.3" stroke-opacity="0.35"/>
<path d="M20.60,48.80 C20.73,48.28 21.23,48.28 21.40,48.80 C21.57,49.32 21.73,51.38 21.60,51.90 C21.47,52.42 20.77,52.42 20.60,51.90 C20.43,51.38 20.47,49.32 20.60,48.80Z" fill="#c8c8c8" stroke="#c8c8c8" stroke-width="1.3" stroke-opacity="0.35"/>
<path d="M30.40,5.00 C30.07,3.30 30.75,3.20 31.40,4.80 C32.05,6.40 33.97,12.90 34.30,14.60 C34.63,16.30 34.05,16.60 33.40,15.00 C32.75,13.40 30.73,6.70 30.40,5.00Z" fill="#3a8cb0" stroke="#3a8cb0" stroke-width="1.3" stroke-opacity="0.35"/>
<path d="M37.30,18.15 C38.22,17.90 38.88,18.52 38.50,19.50 C38.12,20.48 36.25,22.68 35.00,24.00 C33.75,25.32 32.07,26.90 31.00,27.40 C29.93,27.90 28.85,27.57 28.60,27.00 C28.35,26.43 28.77,25.00 29.50,24.00 C30.23,23.00 31.70,21.98 33.00,21.00 C34.30,20.02 36.38,18.40 37.30,18.15Z" fill="#bdbdbd" stroke="#bdbdbd" stroke-width="1.3" stroke-opacity="0.35"/>
<path d="M39.50,9.40 C39.92,9.32 40.83,9.82 41.20,10.50 C41.57,11.18 41.82,12.42 41.70,13.50 C41.58,14.58 41.07,16.02 40.50,17.00 C39.93,17.98 38.83,19.23 38.30,19.40 C37.77,19.57 37.27,18.90 37.30,18.00 C37.33,17.10 38.27,15.17 38.50,14.00 C38.73,12.83 38.53,11.77 38.70,11.00 C38.87,10.23 39.08,9.48 39.50,9.40Z" fill="#40b0e0" stroke="#40b0e0" stroke-width="1.3" stroke-opacity="0.35"/>
<path d="M41.05,25.65 C42.30,25.02 44.59,24.79 46.05,25.00 C47.51,25.21 48.97,25.85 49.80,26.90 C50.63,27.95 51.05,29.63 51.05,31.30 C51.05,32.97 50.32,35.13 49.80,36.90 C49.27,38.67 48.73,40.55 47.90,41.90 C47.07,43.25 45.94,44.48 44.80,45.00 C43.66,45.52 42.09,45.52 41.05,45.00 C40.01,44.48 39.49,42.83 38.55,41.90 C37.61,40.97 35.98,40.34 35.40,39.40 C34.82,38.46 34.73,37.29 35.05,36.25 C35.37,35.21 36.72,34.39 37.30,33.15 C37.88,31.91 37.92,30.05 38.55,28.80 C39.17,27.55 39.80,26.28 41.05,25.65Z" fill="#2e6e2e" stroke="#2e6e2e" stroke-width="1.3" stroke-opacity="0.35"/>
</g>
<path d="M13.55,17.50 C14.18,15.52 16.68,18.95 18.55,20.00 C20.43,21.05 23.13,22.44 24.80,23.80 C26.47,25.16 27.60,26.45 28.55,28.15 C29.50,29.85 30.18,32.02 30.50,34.00 C30.82,35.98 30.92,38.33 30.50,40.00 C30.08,41.67 28.92,43.67 28.00,44.00 C27.08,44.33 26.00,43.00 25.00,42.00 C24.00,41.00 23.07,39.06 22.00,38.00 C20.93,36.94 19.75,36.67 18.55,35.65 C17.35,34.63 15.63,34.92 14.80,31.90 C13.97,28.88 12.93,19.48 13.55,17.50Z" fill="#84c440" opacity="0.16" filter="url(#soft)"/>
<circle cx="21.47" cy="35.08" r="0.6" fill="#84c440"/>
<circle cx="19.13" cy="29.11" r="0.6" fill="#9ccc60"/>
<circle cx="16.83" cy="19.85" r="0.6" fill="#b0d880"/>
<circle cx="19.76" cy="30.00" r="0.6" fill="#9ccc60"/>
<circle cx="21.48" cy="23.11" r="0.6" fill="#b0d880"/>
<circle cx="27.51" cy="35.52" r="0.6" fill="#b0d880"/>
<circle cx="17.22" cy="20.01" r="0.6" fill="#84c440"/>
<circle cx="19.84" cy="27.03" r="0.6" fill="#9ccc60"/>
<circle cx="14.14" cy="22.29" r="0.6" fill="#84c440"/>
<circle cx="26.49" cy="28.22" r="0.6" fill="#b0d880"/>
<circle cx="27.59" cy="41.26" r="0.6" fill="#b0d880"/>
<circle cx="21.60" cy="30.71" r="0.6" fill="#b0d880"/>
<circle cx="25.26" cy="35.61" r="0.6" fill="#84c440"/>
<circle cx="23.31" cy="31.66" r="0.6" fill="#b0d880"/>
<circle cx="28.39" cy="39.72" r="0.6" fill="#84c440"/>
<circle cx="25.01" cy="33.66" r="0.6" fill="#b0d880"/>
<circle cx="27.27" cy="38.49" r="0.6" fill="#84c440"/>
<circle cx="25.17" cy="42.00" r="0.6" fill="#84c440"/>
<circle cx="26.06" cy="41.15" r="0.6" fill="#9ccc60"/>
<circle cx="14.93" cy="21.47" r="0.6" fill="#9ccc60"/>
<circle cx="22.85" cy="35.76" r="0.6" fill="#9ccc60"/>
<circle cx="21.40" cy="22.60" r="0.6" fill="#b0d880"/>
<circle cx="17.02" cy="20.47" r="0.6" fill="#9ccc60"/>
<circle cx="17.69" cy="24.94" r="0.6" fill="#84c440"/>
<circle cx="28.07" cy="29.66" r="0.6" fill="#b0d880"/>
<circle cx="26.95" cy="29.99" r="0.6" fill="#84c440"/>
<circle cx="22.91" cy="31.69" r="0.6" fill="#9ccc60"/>
<circle cx="13.86" cy="21.04" r="0.6" fill="#9ccc60"/>
<circle cx="25.06" cy="41.20" r="0.6" fill="#9ccc60"/>
<circle cx="24.37" cy="37.24" r="0.6" fill="#b0d880"/>
<circle cx="14.67" cy="21.43" r="0.6" fill="#84c440"/>
<circle cx="16.02" cy="20.72" r="0.6" fill="#84c440"/>
<circle cx="21.13" cy="35.12" r="0.6" fill="#b0d880"/>
<circle cx="24.93" cy="39.32" r="0.6" fill="#b0d880"/>
<circle cx="24.79" cy="32.07" r="0.6" fill="#84c440"/>
<circle cx="21.32" cy="32.24" r="0.6" fill="#9ccc60"/>
<circle cx="25.01" cy="36.97" r="0.6" fill="#84c440"/>
<circle cx="30.06" cy="37.41" r="0.6" fill="#84c440"/>
<circle cx="26.09" cy="29.13" r="0.6" fill="#b0d880"/>
<circle cx="24.03" cy="39.76" r="0.6" fill="#84c440"/>
<circle cx="20.53" cy="29.48" r="0.6" fill="#9ccc60"/>
<circle cx="26.60" cy="42.79" r="0.6" fill="#9ccc60"/>
<circle cx="26.21" cy="40.23" r="0.6" fill="#84c440"/>
<circle cx="21.17" cy="31.29" r="0.6" fill="#84c440"/>
<circle cx="20.62" cy="24.53" r="0.6" fill="#84c440"/>
<circle cx="19.60" cy="34.57" r="0.6" fill="#b0d880"/>
<circle cx="15.18" cy="23.66" r="0.6" fill="#84c440"/>
<circle cx="29.08" cy="38.23" r="0.6" fill="#b0d880"/>
<circle cx="28.81" cy="29.39" r="0.6" fill="#84c440"/>
<circle cx="29.51" cy="38.55" r="0.6" fill="#b0d880"/>
<circle cx="22.21" cy="23.51" r="0.6" fill="#b0d880"/>
<circle cx="28.83" cy="30.98" r="0.6" fill="#84c440"/>
<circle cx="23.33" cy="30.25" r="0.6" fill="#84c440"/>
<circle cx="21.15" cy="32.62" r="0.6" fill="#b0d880"/>
<circle cx="14.56" cy="25.14" r="0.6" fill="#b0d880"/>
<circle cx="14.60" cy="20.05" r="0.6" fill="#9ccc60"/>
<circle cx="20.13" cy="32.30" r="0.6" fill="#84c440"/>
<circle cx="27.06" cy="40.76" r="0.6" fill="#b0d880"/>
<circle cx="26.35" cy="42.30" r="0.6" fill="#9ccc60"/>
<circle cx="20.15" cy="23.90" r="0.6" fill="#84c440"/>
<circle cx="16.95" cy="21.51" r="0.6" fill="#84c440"/>
<circle cx="21.95" cy="30.40" r="0.6" fill="#84c440"/>
<circle cx="28.53" cy="37.58" r="0.6" fill="#84c440"/>
<circle cx="18.83" cy="24.50" r="0.6" fill="#9ccc60"/>
<circle cx="24.77" cy="34.57" r="0.6" fill="#b0d880"/>
<circle cx="24.00" cy="38.04" r="0.6" fill="#9ccc60"/>
<circle cx="24.76" cy="27.34" r="0.6" fill="#84c440"/>
<circle cx="27.99" cy="27.68" r="0.6" fill="#9ccc60"/>
<circle cx="27.71" cy="41.80" r="0.6" fill="#84c440"/>
<circle cx="20.68" cy="35.02" r="0.6" fill="#b0d880"/>
<circle cx="30.01" cy="36.80" r="0.6" fill="#b0d880"/>
<circle cx="23.65" cy="40.12" r="0.6" fill="#84c440"/>
<circle cx="26.40" cy="31.18" r="0.6" fill="#9ccc60"/>
<circle cx="18.59" cy="23.63" r="0.6" fill="#b0d880"/>
<circle cx="25.35" cy="25.08" r="0.6" fill="#b0d880"/>
<circle cx="19.87" cy="25.16" r="0.6" fill="#9ccc60"/>
<circle cx="15.86" cy="29.23" r="0.6" fill="#84c440"/>
<circle cx="20.14" cy="33.97" r="0.6" fill="#9ccc60"/>
<circle cx="15.20" cy="31.84" r="0.6" fill="#b0d880"/>
<circle cx="28.23" cy="40.10" r="0.6" fill="#b0d880"/>
<circle cx="22.68" cy="37.80" r="0.6" fill="#9ccc60"/>
<circle cx="26.09" cy="37.72" r="0.6" fill="#b0d880"/>
<circle cx="22.52" cy="32.40" r="0.6" fill="#9ccc60"/>
<circle cx="22.52" cy="32.92" r="0.6" fill="#b0d880"/>
<circle cx="15.93" cy="32.32" r="0.6" fill="#9ccc60"/>
<circle cx="15.57" cy="21.41" r="0.6" fill="#9ccc60"/>
<circle cx="16.70" cy="30.73" r="0.6" fill="#9ccc60"/>
<circle cx="16.17" cy="23.60" r="0.6" fill="#b0d880"/>
<circle cx="26.65" cy="32.89" r="0.6" fill="#9ccc60"/>
<circle cx="29.48" cy="40.12" r="0.6" fill="#9ccc60"/>
<circle cx="18.96" cy="32.69" r="0.6" fill="#9ccc60"/>
<circle cx="17.14" cy="30.58" r="0.6" fill="#b0d880"/>
<circle cx="17.10" cy="20.27" r="0.6" fill="#9ccc60"/>
<circle cx="28.82" cy="38.77" r="0.6" fill="#9ccc60"/>
<circle cx="16.52" cy="20.90" r="0.6" fill="#b0d880"/>
<circle cx="25.58" cy="26.88" r="0.6" fill="#84c440"/>
<circle cx="28.72" cy="40.32" r="0.6" fill="#9ccc60"/>
<circle cx="14.45" cy="27.17" r="0.6" fill="#b0d880"/>
<circle cx="24.42" cy="39.59" r="0.6" fill="#b0d880"/>
<circle cx="21.96" cy="37.60" r="0.6" fill="#b0d880"/>
<circle cx="24.88" cy="25.70" r="0.6" fill="#9ccc60"/>
<circle cx="18.98" cy="28.64" r="0.6" fill="#9ccc60"/>
<circle cx="25.34" cy="26.72" r="0.6" fill="#84c440"/>
<circle cx="27.12" cy="27.20" r="0.6" fill="#b0d880"/>
<circle cx="19.95" cy="23.41" r="0.6" fill="#84c440"/>
<circle cx="16.50" cy="31.72" r="0.6" fill="#84c440"/>
<circle cx="22.31" cy="25.06" r="0.6" fill="#b0d880"/>
<circle cx="19.60" cy="33.84" r="0.6" fill="#84c440"/>
<circle cx="23.91" cy="35.24" r="0.6" fill="#b0d880"/>
<circle cx="18.34" cy="32.59" r="0.6" fill="#b0d880"/>
<circle cx="25.11" cy="25.69" r="0.6" fill="#9ccc60"/>
<circle cx="25.46" cy="31.51" r="0.6" fill="#9ccc60"/>
<circle cx="24.27" cy="28.07" r="0.6" fill="#9ccc60"/>
<circle cx="27.52" cy="27.64" r="0.6" fill="#b0d880"/>
<circle cx="29.64" cy="36.76" r="0.6" fill="#84c440"/>
<circle cx="23.30" cy="24.37" r="0.6" fill="#b0d880"/>
<circle cx="21.51" cy="36.75" r="0.6" fill="#9ccc60"/>
<circle cx="22.46" cy="24.97" r="0.6" fill="#b0d880"/>
<circle cx="16.27" cy="25.02" r="0.6" fill="#b0d880"/>
<circle cx="26.29" cy="35.72" r="0.6" fill="#b0d880"/>
<circle cx="26.14" cy="40.18" r="0.6" fill="#84c440"/>
<circle cx="27.69" cy="36.63" r="0.6" fill="#84c440"/>
<circle cx="19.47" cy="33.59" r="0.6" fill="#b0d880"/>
<circle cx="14.50" cy="18.36" r="0.6" fill="#84c440"/>
<circle cx="20.70" cy="31.55" r="0.6" fill="#84c440"/>
<circle cx="16.84" cy="19.75" r="0.6" fill="#9ccc60"/>
<circle cx="16.11" cy="22.17" r="0.6" fill="#b0d880"/>
<circle cx="23.94" cy="38.80" r="0.6" fill="#84c440"/>
<circle cx="26.52" cy="31.12" r="0.6" fill="#9ccc60"/>
<circle cx="24.82" cy="34.99" r="0.6" fill="#84c440"/>
<circle cx="25.01" cy="24.24" r="0.6" fill="#b0d880"/>
<circle cx="22.87" cy="36.28" r="0.6" fill="#84c440"/>
<circle cx="15.34" cy="29.45" r="0.6" fill="#84c440"/>
<circle cx="29.09" cy="36.71" r="0.6" fill="#b0d880"/>
<circle cx="17.00" cy="23.79" r="0.6" fill="#84c440"/>
<circle cx="23.92" cy="34.48" r="0.6" fill="#9ccc60"/>
<circle cx="27.94" cy="29.36" r="0.6" fill="#b0d880"/>
<circle cx="27.98" cy="37.83" r="0.6" fill="#84c440"/>
<circle cx="18.94" cy="22.22" r="0.6" fill="#b0d880"/>
<circle cx="26.86" cy="40.28" r="0.6" fill="#9ccc60"/>
<circle cx="23.73" cy="38.67" r="0.6" fill="#84c440"/>
<circle cx="15.60" cy="19.31" r="0.6" fill="#84c440"/>
<circle cx="30.00" cy="36.48" r="0.6" fill="#b0d880"/>
<circle cx="26.91" cy="41.62" r="0.6" fill="#9ccc60"/>
<circle cx="24.31" cy="34.11" r="0.6" fill="#84c440"/>
<circle cx="22.98" cy="30.66" r="0.6" fill="#b0d880"/>
<circle cx="26.72" cy="26.22" r="0.6" fill="#84c440"/>
<circle cx="25.72" cy="39.05" r="0.6" fill="#b0d880"/>
<circle cx="18.99" cy="21.42" r="0.6" fill="#b0d880"/>
<circle cx="24.25" cy="23.55" r="0.6" fill="#84c440"/>
<ellipse cx="43.2" cy="36.65" rx="10.3" ry="13.85" transform="rotate(33 43.2 36.65)" fill="none" stroke="#111" stroke-width="1.75" stroke-dasharray="3.9 2.05"/>
<line x1="0" y1="0" x2="0" y2="57.00" stroke="#707070" stroke-width="1"/>
<line x1="0" y1="57.00" x2="56.80" y2="57.00" stroke="#707070" stroke-width="1"/>
<line x1="-2" y1="57.00" x2="0" y2="57.00" stroke="#555" stroke-width="0.8"/>
<line x1="-2" y1="39.70" x2="0" y2="39.70" stroke="#555" stroke-width="0.8"/>
<line x1="-2" y1="22.40" x2="0" y2="22.40" stroke="#555" stroke-width="0.8"/>
<line x1="-2" y1="5.10" x2="0" y2="5.10" stroke="#555" stroke-width="0.8"/>
<line x1="0.30" y1="57.00" x2="0.30" y2="58.60" stroke="#555" stroke-width="0.8"/>
<line x1="13.28" y1="57.00" x2="13.28" y2="58.60" stroke="#555" stroke-width="0.8"/>
<line x1="26.25" y1="57.00" x2="26.25" y2="58.60" stroke="#555" stroke-width="0.8"/>
<line x1="39.23" y1="57.00" x2="39.23" y2="58.60" stroke="#555" stroke-width="0.8"/>
<line x1="52.20" y1="57.00" x2="52.20" y2="58.60" stroke="#555" stroke-width="0.8"/>
<path d="M-1,57.0h1M-1,53.5h1M-1,50.1h1M-1,46.6h1M-1,43.2h1M-1,39.7h1M-1,36.2h1M-1,32.8h1M-1,29.3h1M-1,25.9h1M-1,22.4h1M-1,18.9h1M-1,15.5h1M-1,12.0h1M-1,8.6h1M-1,5.1h1M-1,1.6h1M0.3,57.0v1M2.9,57.0v1M5.5,57.0v1M8.1,57.0v1M10.7,57.0v1M13.3,57.0v1M15.9,57.0v1M18.5,57.0v1M21.1,57.0v1M23.7,57.0v1M26.3,57.0v1M28.8,57.0v1M31.4,57.0v1M34.0,57.0v1M36.6,57.0v1M39.2,57.0v1M41.8,57.0v1M44.4,57.0v1M47.0,57.0v1M49.6,57.0v1M52.2,57.0v1M54.8,57.0v1" stroke="#777" stroke-width="0.6"/>
</g>
<text x="147.78" y="217.45" font-size="6.4" text-anchor="start" font-weight="normal" fill="#333" stroke="#333" stroke-width="0.12" textLength="3.22" lengthAdjust="spacingAndGlyphs" >0</text>
<text x="142.94" y="200.15" font-size="6.4" text-anchor="start" font-weight="normal" fill="#333" stroke="#333" stroke-width="0.12" textLength="8.06" lengthAdjust="spacingAndGlyphs" >5.0</text>
<text x="144.55" y="182.85" font-size="6.4" text-anchor="start" font-weight="normal" fill="#333" stroke="#333" stroke-width="0.12" textLength="6.45" lengthAdjust="spacingAndGlyphs" >10</text>
<text x="144.55" y="165.55" font-size="6.4" text-anchor="start" font-weight="normal" fill="#333" stroke="#333" stroke-width="0.12" textLength="6.45" lengthAdjust="spacingAndGlyphs" >15</text>
<text x="153.89" y="224.60" font-size="6.4" text-anchor="start" font-weight="normal" fill="#333" stroke="#333" stroke-width="0.12" textLength="3.22" lengthAdjust="spacingAndGlyphs" >0</text>
<text x="164.44" y="224.60" font-size="6.4" text-anchor="start" font-weight="normal" fill="#333" stroke="#333" stroke-width="0.12" textLength="8.06" lengthAdjust="spacingAndGlyphs" >5.0</text>
<text x="178.23" y="224.60" font-size="6.4" text-anchor="start" font-weight="normal" fill="#333" stroke="#333" stroke-width="0.12" textLength="6.45" lengthAdjust="spacingAndGlyphs" >10</text>
<text x="191.20" y="224.60" font-size="6.4" text-anchor="start" font-weight="normal" fill="#333" stroke="#333" stroke-width="0.12" textLength="6.45" lengthAdjust="spacingAndGlyphs" >15</text>
<text x="204.18" y="224.60" font-size="6.4" text-anchor="start" font-weight="normal" fill="#333" stroke="#333" stroke-width="0.12" textLength="6.45" lengthAdjust="spacingAndGlyphs" >20</text>
<g transform="translate(232.60,158.80)">
<line x1="13.28" y1="0.5" x2="13.28" y2="57.00" stroke="#ececf8" stroke-width="0.6"/>
<line x1="26.25" y1="0.5" x2="26.25" y2="57.00" stroke="#ececf8" stroke-width="0.6"/>
<line x1="39.23" y1="0.5" x2="39.23" y2="57.00" stroke="#ececf8" stroke-width="0.6"/>
<line x1="52.20" y1="0.5" x2="52.20" y2="57.00" stroke="#ececf8" stroke-width="0.6"/>
<line x1="0" y1="39.70" x2="56.70" y2="39.70" stroke="#f0eef4" stroke-width="0.6"/>
<line x1="0" y1="22.40" x2="56.70" y2="22.40" stroke="#f0eef4" stroke-width="0.6"/>
<line x1="0" y1="5.10" x2="56.70" y2="5.10" stroke="#f0eef4" stroke-width="0.6"/>
<path d="M0,-0.2 H56.70" fill="none" stroke="#b0b0b0" stroke-width="1"/>
<path d="M56.70,-0.7 V57.00" fill="none" stroke="#939393" stroke-width="1"/>
<g filter="url(#soft)" opacity="0.95">
<path d="M3.80,14.20 C4.38,13.12 5.65,12.87 6.90,12.70 C8.15,12.53 10.05,12.74 11.30,13.20 C12.55,13.66 13.37,14.66 14.40,15.45 C15.43,16.24 16.57,17.12 17.50,17.95 C18.43,18.78 19.68,19.51 20.00,20.45 C20.32,21.39 20.02,22.77 19.40,23.60 C18.78,24.43 17.23,25.03 16.30,25.45 C15.37,25.87 14.53,25.58 13.80,26.10 C13.07,26.62 12.63,27.98 11.90,28.60 C11.17,29.22 10.33,29.80 9.40,29.80 C8.47,29.80 7.13,29.53 6.30,28.60 C5.47,27.67 4.88,25.77 4.40,24.20 C3.92,22.63 3.50,20.87 3.40,19.20 C3.30,17.53 3.22,15.28 3.80,14.20Z" fill="#84c440" stroke="#84c440" stroke-width="1.3" stroke-opacity="0.35"/>
<path d="M12.50,27.00 C13.22,26.92 13.80,27.67 13.80,28.50 C13.80,29.33 13.13,30.85 12.50,32.00 C11.87,33.15 10.83,34.98 10.00,35.40 C9.17,35.82 8.00,35.15 7.50,34.50 C7.00,33.85 6.67,32.42 7.00,31.50 C7.33,30.58 8.58,29.75 9.50,29.00 C10.42,28.25 11.78,27.08 12.50,27.00Z" fill="#6a4c9c" stroke="#6a4c9c" stroke-width="1.3" stroke-opacity="0.35"/>
<path d="M31.80,42.40 C31.80,43.61 31.54,45.06 31.15,46.04 C30.76,47.03 30.08,47.92 29.45,48.30 C28.82,48.67 27.98,48.67 27.35,48.30 C26.72,47.92 26.04,47.03 25.65,46.04 C25.26,45.06 25.00,43.61 25.00,42.40 C25.00,41.19 25.26,39.74 25.65,38.76 C26.04,37.77 26.72,36.88 27.35,36.50 C27.98,36.13 28.82,36.13 29.45,36.50 C30.08,36.88 30.76,37.77 31.15,38.76 C31.54,39.74 31.80,41.19 31.80,42.40Z" fill="#f39a3a" stroke="#f39a3a" stroke-width="1.3" stroke-opacity="0.35"/>
<path d="M37.20,18.00 C37.85,17.83 38.93,18.17 38.40,19.00 C37.87,19.83 35.40,21.80 34.00,23.00 C32.60,24.20 30.95,25.78 30.00,26.20 C29.05,26.62 28.13,26.03 28.30,25.50 C28.47,24.97 29.97,23.92 31.00,23.00 C32.03,22.08 33.47,20.83 34.50,20.00 C35.53,19.17 36.55,18.17 37.20,18.00Z" fill="#b0c8d8" stroke="#b0c8d8" stroke-width="1.3" stroke-opacity="0.35"/>
<path d="M38.80,9.20 C39.17,9.12 40.08,9.78 40.60,10.50 C41.12,11.22 41.83,12.50 41.90,13.50 C41.97,14.50 41.57,15.65 41.00,16.50 C40.43,17.35 39.08,18.43 38.50,18.60 C37.92,18.77 37.38,18.18 37.50,17.50 C37.62,16.82 39.05,15.58 39.20,14.50 C39.35,13.42 38.47,11.88 38.40,11.00 C38.33,10.12 38.43,9.28 38.80,9.20Z" fill="#50b0e0" stroke="#50b0e0" stroke-width="1.3" stroke-opacity="0.35"/>
<path d="M41.20,24.20 C42.21,23.22 44.18,22.70 45.65,22.70 C47.12,22.70 49.04,23.12 50.00,24.20 C50.96,25.28 51.25,27.12 51.40,29.20 C51.55,31.28 51.33,34.52 50.90,36.70 C50.47,38.88 49.67,40.87 48.80,42.30 C47.92,43.73 46.80,44.80 45.65,45.30 C44.50,45.80 42.91,45.80 41.90,45.30 C40.89,44.80 40.15,43.22 39.60,42.30 C39.05,41.38 38.80,40.73 38.60,39.80 C38.40,38.87 38.40,37.84 38.40,36.70 C38.40,35.56 38.40,34.30 38.60,32.95 C38.80,31.60 39.17,30.06 39.60,28.60 C40.03,27.14 40.19,25.18 41.20,24.20Z" fill="#2e6e2e" stroke="#2e6e2e" stroke-width="1.3" stroke-opacity="0.35"/>
</g>
<path d="M15.00,21.00 C15.92,20.33 19.00,21.17 21.00,22.00 C23.00,22.83 25.33,24.50 27.00,26.00 C28.67,27.50 30.00,29.00 31.00,31.00 C32.00,33.00 32.83,35.50 33.00,38.00 C33.17,40.50 32.83,44.00 32.00,46.00 C31.17,48.00 29.33,49.83 28.00,50.00 C26.67,50.17 25.17,48.67 24.00,47.00 C22.83,45.33 22.00,42.50 21.00,40.00 C20.00,37.50 18.92,34.33 18.00,32.00 C17.08,29.67 16.00,27.83 15.50,26.00 C15.00,24.17 14.08,21.67 15.00,21.00Z" fill="#84c440" opacity="0.16" filter="url(#soft)"/>
<circle cx="25.94" cy="32.15" r="0.5" fill="#b0d880"/>
<circle cx="22.72" cy="37.86" r="0.5" fill="#b0d880"/>
<circle cx="24.54" cy="38.97" r="0.5" fill="#b0d880"/>
<circle cx="29.24" cy="33.80" r="0.5" fill="#b0d880"/>
<circle cx="27.42" cy="38.67" r="0.5" fill="#9ccc60"/>
<circle cx="31.17" cy="45.29" r="0.5" fill="#b0d880"/>
<circle cx="24.55" cy="25.22" r="0.5" fill="#b0d880"/>
<circle cx="22.42" cy="34.88" r="0.5" fill="#84c440"/>
<circle cx="19.44" cy="23.67" r="0.5" fill="#9ccc60"/>
<circle cx="21.80" cy="26.64" r="0.5" fill="#9ccc60"/>
<circle cx="28.46" cy="33.50" r="0.5" fill="#9ccc60"/>
<circle cx="21.54" cy="23.08" r="0.5" fill="#84c440"/>
<circle cx="26.37" cy="33.55" r="0.5" fill="#b0d880"/>
<circle cx="28.81" cy="28.75" r="0.5" fill="#9ccc60"/>
<circle cx="26.51" cy="34.63" r="0.5" fill="#b0d880"/>
<circle cx="23.05" cy="39.15" r="0.5" fill="#b0d880"/>
<circle cx="27.30" cy="32.33" r="0.5" fill="#b0d880"/>
<circle cx="24.77" cy="25.71" r="0.5" fill="#9ccc60"/>
<circle cx="24.50" cy="32.55" r="0.5" fill="#9ccc60"/>
<circle cx="30.89" cy="32.15" r="0.5" fill="#9ccc60"/>
<circle cx="18.10" cy="30.13" r="0.5" fill="#84c440"/>
<circle cx="26.93" cy="27.40" r="0.5" fill="#9ccc60"/>
<circle cx="19.35" cy="28.99" r="0.5" fill="#84c440"/>
<circle cx="17.14" cy="25.37" r="0.5" fill="#9ccc60"/>
<circle cx="19.92" cy="28.74" r="0.5" fill="#9ccc60"/>
<circle cx="22.46" cy="28.05" r="0.5" fill="#84c440"/>
<circle cx="27.35" cy="45.17" r="0.5" fill="#b0d880"/>
<circle cx="29.52" cy="45.06" r="0.5" fill="#9ccc60"/>
<circle cx="25.29" cy="27.00" r="0.5" fill="#b0d880"/>
<circle cx="19.08" cy="23.69" r="0.5" fill="#84c440"/>
<circle cx="31.10" cy="41.72" r="0.5" fill="#b0d880"/>
<circle cx="31.55" cy="34.61" r="0.5" fill="#84c440"/>
<circle cx="19.59" cy="32.79" r="0.5" fill="#84c440"/>
<circle cx="26.68" cy="41.36" r="0.5" fill="#84c440"/>
<circle cx="27.69" cy="48.83" r="0.5" fill="#b0d880"/>
<circle cx="17.20" cy="24.26" r="0.5" fill="#84c440"/>
<circle cx="28.09" cy="46.14" r="0.5" fill="#84c440"/>
<circle cx="27.51" cy="40.41" r="0.5" fill="#84c440"/>
<circle cx="22.25" cy="42.48" r="0.5" fill="#84c440"/>
<circle cx="23.16" cy="28.21" r="0.5" fill="#84c440"/>
<circle cx="27.86" cy="28.56" r="0.5" fill="#9ccc60"/>
<circle cx="18.53" cy="23.61" r="0.5" fill="#b0d880"/>
<circle cx="28.58" cy="48.81" r="0.5" fill="#84c440"/>
<circle cx="19.63" cy="34.94" r="0.5" fill="#b0d880"/>
<circle cx="25.77" cy="34.66" r="0.5" fill="#9ccc60"/>
<circle cx="29.24" cy="41.17" r="0.5" fill="#84c440"/>
<circle cx="28.52" cy="39.81" r="0.5" fill="#84c440"/>
<circle cx="31.55" cy="43.53" r="0.5" fill="#b0d880"/>
<circle cx="23.50" cy="31.39" r="0.5" fill="#9ccc60"/>
<circle cx="19.32" cy="35.02" r="0.5" fill="#84c440"/>
<circle cx="26.93" cy="31.07" r="0.5" fill="#b0d880"/>
<circle cx="30.26" cy="32.33" r="0.5" fill="#9ccc60"/>
<circle cx="26.48" cy="28.37" r="0.5" fill="#84c440"/>
<circle cx="29.47" cy="42.57" r="0.5" fill="#b0d880"/>
<circle cx="27.27" cy="47.53" r="0.5" fill="#84c440"/>
<circle cx="26.41" cy="29.23" r="0.5" fill="#84c440"/>
<circle cx="29.71" cy="45.27" r="0.5" fill="#9ccc60"/>
<circle cx="28.29" cy="47.98" r="0.5" fill="#84c440"/>
<circle cx="24.80" cy="27.89" r="0.5" fill="#b0d880"/>
<circle cx="29.78" cy="44.74" r="0.5" fill="#b0d880"/>
<circle cx="29.89" cy="38.28" r="0.5" fill="#9ccc60"/>
<circle cx="27.94" cy="28.11" r="0.5" fill="#b0d880"/>
<circle cx="27.58" cy="42.08" r="0.5" fill="#9ccc60"/>
<circle cx="24.66" cy="33.63" r="0.5" fill="#9ccc60"/>
<circle cx="19.28" cy="33.17" r="0.5" fill="#9ccc60"/>
<circle cx="22.63" cy="42.48" r="0.5" fill="#9ccc60"/>
<circle cx="23.47" cy="31.63" r="0.5" fill="#84c440"/>
<circle cx="31.07" cy="42.38" r="0.5" fill="#9ccc60"/>
<circle cx="23.88" cy="39.15" r="0.5" fill="#84c440"/>
<circle cx="24.04" cy="29.21" r="0.5" fill="#b0d880"/>
<circle cx="27.75" cy="47.87" r="0.5" fill="#9ccc60"/>
<circle cx="21.86" cy="33.25" r="0.5" fill="#84c440"/>
<circle cx="30.20" cy="46.65" r="0.5" fill="#b0d880"/>
<circle cx="23.59" cy="43.13" r="0.5" fill="#b0d880"/>
<circle cx="21.87" cy="39.73" r="0.5" fill="#84c440"/>
<circle cx="28.21" cy="49.41" r="0.5" fill="#84c440"/>
<circle cx="20.18" cy="36.50" r="0.5" fill="#9ccc60"/>
<circle cx="29.12" cy="47.66" r="0.5" fill="#9ccc60"/>
<circle cx="31.21" cy="42.71" r="0.5" fill="#b0d880"/>
<circle cx="30.57" cy="43.75" r="0.5" fill="#84c440"/>
<path d="M32.50,31.00 C33.33,29.83 36.08,29.17 37.00,30.00 C37.92,30.83 37.92,33.92 38.00,36.00 C38.08,38.08 38.17,41.50 37.50,42.50 C36.83,43.50 34.92,42.92 34.00,42.00 C33.08,41.08 32.25,38.83 32.00,37.00 C31.75,35.17 31.67,32.17 32.50,31.00Z" fill="#a0c890" opacity="0.16" filter="url(#soft)"/>
<circle cx="36.83" cy="41.53" r="0.55" fill="#a0c890"/>
<circle cx="37.00" cy="36.52" r="0.55" fill="#a0c890"/>
<circle cx="32.65" cy="36.83" r="0.55" fill="#a0c890"/>
<circle cx="35.48" cy="39.74" r="0.55" fill="#80b070"/>
<circle cx="36.52" cy="32.59" r="0.55" fill="#a0c890"/>
<circle cx="36.92" cy="35.20" r="0.55" fill="#a0c890"/>
<circle cx="36.33" cy="38.71" r="0.55" fill="#a0c890"/>
<circle cx="34.74" cy="34.68" r="0.55" fill="#80b070"/>
<circle cx="34.88" cy="32.20" r="0.55" fill="#a0c890"/>
<circle cx="37.26" cy="42.00" r="0.55" fill="#a0c890"/>
<circle cx="36.08" cy="37.07" r="0.55" fill="#80b070"/>
<circle cx="32.62" cy="34.13" r="0.55" fill="#a0c890"/>
<circle cx="33.45" cy="38.04" r="0.55" fill="#80b070"/>
<circle cx="33.39" cy="36.14" r="0.55" fill="#a0c890"/>
<circle cx="33.24" cy="33.62" r="0.55" fill="#a0c890"/>
<circle cx="34.37" cy="34.36" r="0.55" fill="#80b070"/>
<circle cx="37.19" cy="37.06" r="0.55" fill="#80b070"/>
<circle cx="37.56" cy="41.49" r="0.55" fill="#80b070"/>
<circle cx="36.18" cy="34.86" r="0.55" fill="#a0c890"/>
<circle cx="37.89" cy="36.11" r="0.55" fill="#a0c890"/>
<circle cx="37.65" cy="37.15" r="0.55" fill="#80b070"/>
<circle cx="35.54" cy="40.61" r="0.55" fill="#a0c890"/>
<circle cx="34.25" cy="31.55" r="0.55" fill="#80b070"/>
<circle cx="34.78" cy="35.61" r="0.55" fill="#a0c890"/>
<circle cx="34.50" cy="32.62" r="0.55" fill="#80b070"/>
<circle cx="37.59" cy="35.20" r="0.55" fill="#80b070"/>
<circle cx="32.42" cy="36.02" r="0.55" fill="#a0c890"/>
<circle cx="36.63" cy="32.38" r="0.55" fill="#80b070"/>
<circle cx="32.92" cy="34.97" r="0.55" fill="#a0c890"/>
<circle cx="36.81" cy="40.58" r="0.55" fill="#80b070"/>
<ellipse cx="43.2" cy="34.55" rx="10.3" ry="13.85" transform="rotate(33 43.2 34.55)" fill="none" stroke="#111" stroke-width="1.75" stroke-dasharray="3.9 2.05"/>
<line x1="0" y1="0" x2="0" y2="57.00" stroke="#707070" stroke-width="1"/>
<line x1="0" y1="57.00" x2="56.70" y2="57.00" stroke="#707070" stroke-width="1"/>
<line x1="-2" y1="57.00" x2="0" y2="57.00" stroke="#555" stroke-width="0.8"/>
<line x1="-2" y1="39.70" x2="0" y2="39.70" stroke="#555" stroke-width="0.8"/>
<line x1="-2" y1="22.40" x2="0" y2="22.40" stroke="#555" stroke-width="0.8"/>
<line x1="-2" y1="5.10" x2="0" y2="5.10" stroke="#555" stroke-width="0.8"/>
<line x1="0.30" y1="57.00" x2="0.30" y2="58.60" stroke="#555" stroke-width="0.8"/>
<line x1="13.28" y1="57.00" x2="13.28" y2="58.60" stroke="#555" stroke-width="0.8"/>
<line x1="26.25" y1="57.00" x2="26.25" y2="58.60" stroke="#555" stroke-width="0.8"/>
<line x1="39.23" y1="57.00" x2="39.23" y2="58.60" stroke="#555" stroke-width="0.8"/>
<line x1="52.20" y1="57.00" x2="52.20" y2="58.60" stroke="#555" stroke-width="0.8"/>
<path d="M-1,57.0h1M-1,53.5h1M-1,50.1h1M-1,46.6h1M-1,43.2h1M-1,39.7h1M-1,36.2h1M-1,32.8h1M-1,29.3h1M-1,25.9h1M-1,22.4h1M-1,18.9h1M-1,15.5h1M-1,12.0h1M-1,8.6h1M-1,5.1h1M-1,1.6h1M0.3,57.0v1M2.9,57.0v1M5.5,57.0v1M8.1,57.0v1M10.7,57.0v1M13.3,57.0v1M15.9,57.0v1M18.5,57.0v1M21.1,57.0v1M23.7,57.0v1M26.3,57.0v1M28.8,57.0v1M31.4,57.0v1M34.0,57.0v1M36.6,57.0v1M39.2,57.0v1M41.8,57.0v1M44.4,57.0v1M47.0,57.0v1M49.6,57.0v1M52.2,57.0v1M54.8,57.0v1" stroke="#777" stroke-width="0.6"/>
</g>
<text x="225.18" y="217.65" font-size="6.4" text-anchor="start" font-weight="normal" fill="#333" stroke="#333" stroke-width="0.12" textLength="3.22" lengthAdjust="spacingAndGlyphs" >0</text>
<text x="220.34" y="200.35" font-size="6.4" text-anchor="start" font-weight="normal" fill="#333" stroke="#333" stroke-width="0.12" textLength="8.06" lengthAdjust="spacingAndGlyphs" >5.0</text>
<text x="221.95" y="183.05" font-size="6.4" text-anchor="start" font-weight="normal" fill="#333" stroke="#333" stroke-width="0.12" textLength="6.45" lengthAdjust="spacingAndGlyphs" >10</text>
<text x="221.95" y="165.75" font-size="6.4" text-anchor="start" font-weight="normal" fill="#333" stroke="#333" stroke-width="0.12" textLength="6.45" lengthAdjust="spacingAndGlyphs" >15</text>
<text x="231.29" y="224.80" font-size="6.4" text-anchor="start" font-weight="normal" fill="#333" stroke="#333" stroke-width="0.12" textLength="3.22" lengthAdjust="spacingAndGlyphs" >0</text>
<text x="241.84" y="224.80" font-size="6.4" text-anchor="start" font-weight="normal" fill="#333" stroke="#333" stroke-width="0.12" textLength="8.06" lengthAdjust="spacingAndGlyphs" >5.0</text>
<text x="255.63" y="224.80" font-size="6.4" text-anchor="start" font-weight="normal" fill="#333" stroke="#333" stroke-width="0.12" textLength="6.45" lengthAdjust="spacingAndGlyphs" >10</text>
<text x="268.60" y="224.80" font-size="6.4" text-anchor="start" font-weight="normal" fill="#333" stroke="#333" stroke-width="0.12" textLength="6.45" lengthAdjust="spacingAndGlyphs" >15</text>
<text x="281.58" y="224.80" font-size="6.4" text-anchor="start" font-weight="normal" fill="#333" stroke="#333" stroke-width="0.12" textLength="6.45" lengthAdjust="spacingAndGlyphs" >20</text>
<g transform="translate(80.20,231.40)">
<line x1="13.28" y1="0.5" x2="13.28" y2="57.00" stroke="#ececf8" stroke-width="0.6"/>
<line x1="26.25" y1="0.5" x2="26.25" y2="57.00" stroke="#ececf8" stroke-width="0.6"/>
<line x1="39.23" y1="0.5" x2="39.23" y2="57.00" stroke="#ececf8" stroke-width="0.6"/>
<line x1="52.20" y1="0.5" x2="52.20" y2="57.00" stroke="#ececf8" stroke-width="0.6"/>
<line x1="0" y1="39.70" x2="57.10" y2="39.70" stroke="#f0eef4" stroke-width="0.6"/>
<line x1="0" y1="22.40" x2="57.10" y2="22.40" stroke="#f0eef4" stroke-width="0.6"/>
<line x1="0" y1="5.10" x2="57.10" y2="5.10" stroke="#f0eef4" stroke-width="0.6"/>
<path d="M0,-0.2 H57.10" fill="none" stroke="#b0b0b0" stroke-width="1"/>
<path d="M57.10,-0.7 V57.00" fill="none" stroke="#939393" stroke-width="1"/>
<g filter="url(#tex)" opacity="0.85">
<path d="M3.00,18.80 C3.25,17.47 3.96,16.87 4.90,16.30 C5.84,15.73 7.30,15.40 8.65,15.40 C10.00,15.40 11.64,15.73 13.00,16.30 C14.36,16.87 15.55,17.87 16.80,18.80 C18.05,19.73 19.25,20.87 20.50,21.90 C21.75,22.93 23.05,23.95 24.30,25.00 C25.55,26.05 26.97,27.05 28.00,28.20 C29.03,29.35 29.97,30.77 30.50,31.90 C31.03,33.03 31.37,33.90 31.20,35.00 C31.03,36.10 30.23,37.77 29.50,38.50 C28.77,39.23 27.57,39.22 26.80,39.40 C26.03,39.58 25.73,39.83 24.90,39.60 C24.07,39.37 22.84,38.55 21.80,38.00 C20.76,37.45 19.78,36.80 18.65,36.30 C17.52,35.80 16.11,35.38 15.00,35.00 C13.89,34.62 13.12,34.45 12.00,34.00 C10.88,33.55 9.40,33.20 8.30,32.30 C7.20,31.40 6.22,29.93 5.40,28.60 C4.58,27.27 3.80,25.93 3.40,24.30 C3.00,22.67 2.75,20.13 3.00,18.80Z" fill="url(#lg18)" stroke="url(#lg18)" stroke-width="1.3" stroke-opacity="0.35"/>
<path d="M11.50,29.00 C12.10,28.83 12.40,29.42 12.40,30.00 C12.40,30.58 11.98,31.67 11.50,32.50 C11.02,33.33 10.08,34.72 9.50,35.00 C8.92,35.28 8.12,34.87 8.00,34.20 C7.88,33.53 8.22,31.87 8.80,31.00 C9.38,30.13 10.90,29.17 11.50,29.00Z" fill="#c0d020" stroke="#c0d020" stroke-width="1.3" stroke-opacity="0.35"/>
<path d="M30.50,28.20 C30.98,28.52 31.68,30.45 31.80,31.90 C31.92,33.35 31.27,35.23 31.20,36.90 C31.13,38.57 31.52,40.13 31.40,41.90 C31.28,43.67 31.07,46.35 30.50,47.50 C29.93,48.65 28.68,49.11 28.00,48.80 C27.32,48.49 26.72,47.22 26.40,45.65 C26.08,44.08 25.83,41.27 26.10,39.40 C26.37,37.52 27.53,35.97 28.00,34.40 C28.47,32.83 28.48,31.03 28.90,30.00 C29.32,28.97 30.02,27.88 30.50,28.20Z" fill="#f0a818" stroke="#f0a818" stroke-width="1.3" stroke-opacity="0.35"/>
<path d="M22.30,45.80 C22.30,46.35 21.93,47.17 21.55,47.45 C21.18,47.72 20.43,47.72 20.05,47.45 C19.68,47.17 19.30,46.35 19.30,45.80 C19.30,45.25 19.68,44.43 20.05,44.15 C20.43,43.88 21.18,43.88 21.55,44.15 C21.93,44.43 22.30,45.25 22.30,45.80Z" fill="#f0a020" stroke="#f0a020" stroke-width="1.3" stroke-opacity="0.35"/>
<path d="M22.40,50.80 C22.40,51.44 21.95,52.39 21.50,52.71 C21.05,53.02 20.15,53.02 19.70,52.71 C19.25,52.39 18.80,51.44 18.80,50.80 C18.80,50.16 19.25,49.21 19.70,48.89 C20.15,48.58 21.05,48.58 21.50,48.89 C21.95,49.21 22.40,50.16 22.40,50.80Z" fill="#f0a020" stroke="#f0a020" stroke-width="1.3" stroke-opacity="0.35"/>
<path d="M30.90,5.00 C30.60,3.40 31.43,3.50 32.10,5.00 C32.77,6.50 34.60,12.40 34.90,14.00 C35.20,15.60 34.57,16.10 33.90,14.60 C33.23,13.10 31.20,6.60 30.90,5.00Z" fill="#5a9070" stroke="#5a9070" stroke-width="1.3" stroke-opacity="0.35"/>
<path d="M36.00,16.90 C36.80,16.40 37.80,16.90 38.00,17.50 C38.20,18.10 37.62,19.45 37.20,20.50 C36.78,21.55 36.13,23.28 35.50,23.80 C34.87,24.32 33.78,24.15 33.40,23.60 C33.02,23.05 32.77,21.62 33.20,20.50 C33.63,19.38 35.20,17.40 36.00,16.90Z" fill="#6a9a70" stroke="#6a9a70" stroke-width="1.3" stroke-opacity="0.35"/>
<path d="M30.90,22.50 C30.90,22.85 30.55,23.37 30.20,23.54 C29.85,23.71 29.15,23.71 28.80,23.54 C28.45,23.37 28.10,22.85 28.10,22.50 C28.10,22.15 28.45,21.63 28.80,21.46 C29.15,21.29 29.85,21.29 30.20,21.46 C30.55,21.63 30.90,22.15 30.90,22.50Z" fill="#7090a8" stroke="#7090a8" stroke-width="1.3" stroke-opacity="0.35"/>
</g>
<path d="M34.00,28.50 C35.17,27.17 38.83,27.75 41.00,28.00 C43.17,28.25 45.75,28.83 47.00,30.00 C48.25,31.17 48.50,33.08 48.50,35.00 C48.50,36.92 48.08,40.00 47.00,41.50 C45.92,43.00 43.58,43.92 42.00,44.00 C40.42,44.08 38.83,43.33 37.50,42.00 C36.17,40.67 34.58,38.25 34.00,36.00 C33.42,33.75 32.83,29.83 34.00,28.50Z" fill="#c8d820" opacity="0.16" filter="url(#soft)"/>
<circle cx="47.55" cy="34.21" r="0.55" fill="#d8e040"/>
<circle cx="37.59" cy="35.71" r="0.55" fill="#b8d030"/>
<circle cx="43.25" cy="39.02" r="0.55" fill="#d8e040"/>
<circle cx="40.04" cy="33.06" r="0.55" fill="#c8d820"/>
<circle cx="35.69" cy="36.23" r="0.55" fill="#c8d820"/>
<circle cx="36.18" cy="38.12" r="0.55" fill="#d8e040"/>
<circle cx="45.50" cy="31.70" r="0.55" fill="#b8d030"/>
<circle cx="39.26" cy="36.12" r="0.55" fill="#b8d030"/>
<circle cx="40.64" cy="42.54" r="0.55" fill="#d8e040"/>
<circle cx="46.81" cy="31.11" r="0.55" fill="#b8d030"/>
<circle cx="40.84" cy="30.83" r="0.55" fill="#c8d820"/>
<circle cx="46.39" cy="35.92" r="0.55" fill="#b8d030"/>
<circle cx="37.62" cy="32.89" r="0.55" fill="#c8d820"/>
<circle cx="37.88" cy="30.25" r="0.55" fill="#b8d030"/>
<circle cx="39.82" cy="31.39" r="0.55" fill="#d8e040"/>
<circle cx="40.54" cy="38.10" r="0.55" fill="#d8e040"/>
<circle cx="47.65" cy="33.90" r="0.55" fill="#b8d030"/>
<circle cx="47.67" cy="34.83" r="0.55" fill="#c8d820"/>
<circle cx="38.69" cy="29.45" r="0.55" fill="#c8d820"/>
<circle cx="41.15" cy="30.70" r="0.55" fill="#c8d820"/>
<circle cx="35.87" cy="30.38" r="0.55" fill="#c8d820"/>
<circle cx="42.79" cy="36.89" r="0.55" fill="#d8e040"/>
<circle cx="41.49" cy="41.56" r="0.55" fill="#d8e040"/>
<circle cx="42.49" cy="29.17" r="0.55" fill="#c8d820"/>
<circle cx="44.57" cy="39.53" r="0.55" fill="#d8e040"/>
<circle cx="34.82" cy="30.18" r="0.55" fill="#c8d820"/>
<circle cx="34.05" cy="29.66" r="0.55" fill="#b8d030"/>
<circle cx="35.02" cy="33.39" r="0.55" fill="#b8d030"/>
<circle cx="46.45" cy="32.35" r="0.55" fill="#b8d030"/>
<circle cx="37.59" cy="32.35" r="0.55" fill="#c8d820"/>
<circle cx="41.58" cy="42.66" r="0.55" fill="#d8e040"/>
<circle cx="45.76" cy="38.02" r="0.55" fill="#d8e040"/>
<circle cx="41.21" cy="43.26" r="0.55" fill="#c8d820"/>
<circle cx="39.66" cy="31.01" r="0.55" fill="#c8d820"/>
<circle cx="35.94" cy="34.48" r="0.55" fill="#d8e040"/>
<circle cx="44.26" cy="39.30" r="0.55" fill="#c8d820"/>
<circle cx="39.70" cy="31.10" r="0.55" fill="#c8d820"/>
<circle cx="42.85" cy="30.18" r="0.55" fill="#c8d820"/>
<circle cx="34.96" cy="29.05" r="0.55" fill="#b8d030"/>
<circle cx="45.83" cy="41.54" r="0.55" fill="#c8d820"/>
<circle cx="43.86" cy="33.49" r="0.55" fill="#c8d820"/>
<circle cx="39.70" cy="37.35" r="0.55" fill="#c8d820"/>
<circle cx="40.15" cy="40.24" r="0.55" fill="#c8d820"/>
<circle cx="43.07" cy="38.89" r="0.55" fill="#d8e040"/>
<circle cx="47.11" cy="34.43" r="0.55" fill="#b8d030"/>
<circle cx="48.24" cy="34.68" r="0.55" fill="#d8e040"/>
<circle cx="45.71" cy="37.76" r="0.55" fill="#c8d820"/>
<circle cx="38.68" cy="42.30" r="0.55" fill="#d8e040"/>
<circle cx="37.97" cy="38.11" r="0.55" fill="#d8e040"/>
<circle cx="39.94" cy="39.94" r="0.55" fill="#d8e040"/>
<path d="M3.40,21.00 C3.40,22.17 4.62,25.89 5.50,27.50 C6.38,29.11 7.60,29.82 8.65,30.65 C9.70,31.48 10.99,32.52 11.80,32.50 C12.61,32.48 13.88,31.50 13.50,30.50 C13.12,29.50 10.83,28.17 9.50,26.50 C8.17,24.83 6.52,21.42 5.50,20.50 C4.48,19.58 3.40,19.83 3.40,21.00Z" fill="#b8d020" opacity="0.85" filter="url(#soft)"/>
<ellipse cx="42.3" cy="35.45" rx="10.3" ry="13.85" transform="rotate(33 42.3 35.45)" fill="none" stroke="#111" stroke-width="1.75" stroke-dasharray="3.9 2.05"/>
<line x1="0" y1="0" x2="0" y2="57.00" stroke="#707070" stroke-width="1"/>
<line x1="0" y1="57.00" x2="57.10" y2="57.00" stroke="#707070" stroke-width="1"/>
<line x1="-2" y1="57.00" x2="0" y2="57.00" stroke="#555" stroke-width="0.8"/>
<line x1="-2" y1="39.70" x2="0" y2="39.70" stroke="#555" stroke-width="0.8"/>
<line x1="-2" y1="22.40" x2="0" y2="22.40" stroke="#555" stroke-width="0.8"/>
<line x1="-2" y1="5.10" x2="0" y2="5.10" stroke="#555" stroke-width="0.8"/>
<line x1="0.30" y1="57.00" x2="0.30" y2="58.60" stroke="#555" stroke-width="0.8"/>
<line x1="13.28" y1="57.00" x2="13.28" y2="58.60" stroke="#555" stroke-width="0.8"/>
<line x1="26.25" y1="57.00" x2="26.25" y2="58.60" stroke="#555" stroke-width="0.8"/>
<line x1="39.23" y1="57.00" x2="39.23" y2="58.60" stroke="#555" stroke-width="0.8"/>
<line x1="52.20" y1="57.00" x2="52.20" y2="58.60" stroke="#555" stroke-width="0.8"/>
<path d="M-1,57.0h1M-1,53.5h1M-1,50.1h1M-1,46.6h1M-1,43.2h1M-1,39.7h1M-1,36.2h1M-1,32.8h1M-1,29.3h1M-1,25.9h1M-1,22.4h1M-1,18.9h1M-1,15.5h1M-1,12.0h1M-1,8.6h1M-1,5.1h1M-1,1.6h1M0.3,57.0v1M2.9,57.0v1M5.5,57.0v1M8.1,57.0v1M10.7,57.0v1M13.3,57.0v1M15.9,57.0v1M18.5,57.0v1M21.1,57.0v1M23.7,57.0v1M26.3,57.0v1M28.8,57.0v1M31.4,57.0v1M34.0,57.0v1M36.6,57.0v1M39.2,57.0v1M41.8,57.0v1M44.4,57.0v1M47.0,57.0v1M49.6,57.0v1M52.2,57.0v1M54.8,57.0v1" stroke="#777" stroke-width="0.6"/>
</g>
<text x="72.78" y="290.25" font-size="6.4" text-anchor="start" font-weight="normal" fill="#333" stroke="#333" stroke-width="0.12" textLength="3.22" lengthAdjust="spacingAndGlyphs" >0</text>
<text x="67.94" y="272.95" font-size="6.4" text-anchor="start" font-weight="normal" fill="#333" stroke="#333" stroke-width="0.12" textLength="8.06" lengthAdjust="spacingAndGlyphs" >5.0</text>
<text x="69.55" y="255.65" font-size="6.4" text-anchor="start" font-weight="normal" fill="#333" stroke="#333" stroke-width="0.12" textLength="6.45" lengthAdjust="spacingAndGlyphs" >10</text>
<text x="69.55" y="238.35" font-size="6.4" text-anchor="start" font-weight="normal" fill="#333" stroke="#333" stroke-width="0.12" textLength="6.45" lengthAdjust="spacingAndGlyphs" >15</text>
<text x="78.89" y="297.40" font-size="6.4" text-anchor="start" font-weight="normal" fill="#333" stroke="#333" stroke-width="0.12" textLength="3.22" lengthAdjust="spacingAndGlyphs" >0</text>
<text x="89.44" y="297.40" font-size="6.4" text-anchor="start" font-weight="normal" fill="#333" stroke="#333" stroke-width="0.12" textLength="8.06" lengthAdjust="spacingAndGlyphs" >5.0</text>
<text x="103.23" y="297.40" font-size="6.4" text-anchor="start" font-weight="normal" fill="#333" stroke="#333" stroke-width="0.12" textLength="6.45" lengthAdjust="spacingAndGlyphs" >10</text>
<text x="116.20" y="297.40" font-size="6.4" text-anchor="start" font-weight="normal" fill="#333" stroke="#333" stroke-width="0.12" textLength="6.45" lengthAdjust="spacingAndGlyphs" >15</text>
<text x="129.18" y="297.40" font-size="6.4" text-anchor="start" font-weight="normal" fill="#333" stroke="#333" stroke-width="0.12" textLength="6.45" lengthAdjust="spacingAndGlyphs" >20</text>
<g transform="translate(154.50,231.30)">
<line x1="13.28" y1="0.5" x2="13.28" y2="57.00" stroke="#ececf8" stroke-width="0.6"/>
<line x1="26.25" y1="0.5" x2="26.25" y2="57.00" stroke="#ececf8" stroke-width="0.6"/>
<line x1="39.23" y1="0.5" x2="39.23" y2="57.00" stroke="#ececf8" stroke-width="0.6"/>
<line x1="52.20" y1="0.5" x2="52.20" y2="57.00" stroke="#ececf8" stroke-width="0.6"/>
<line x1="0" y1="39.70" x2="57.20" y2="39.70" stroke="#f0eef4" stroke-width="0.6"/>
<line x1="0" y1="22.40" x2="57.20" y2="22.40" stroke="#f0eef4" stroke-width="0.6"/>
<line x1="0" y1="5.10" x2="57.20" y2="5.10" stroke="#f0eef4" stroke-width="0.6"/>
<path d="M0,-0.2 H57.20" fill="none" stroke="#b0b0b0" stroke-width="1"/>
<path d="M57.20,-0.7 V57.00" fill="none" stroke="#939393" stroke-width="1"/>
<g filter="url(#tex)" opacity="0.85">
<path d="M3.25,15.95 C3.71,14.74 4.61,14.01 5.75,13.70 C6.89,13.39 8.85,13.62 10.10,14.10 C11.35,14.58 12.10,15.67 13.25,16.60 C14.40,17.53 16.17,18.56 17.00,19.70 C17.83,20.84 18.46,22.30 18.25,23.45 C18.04,24.60 16.58,25.35 15.75,26.60 C14.92,27.85 13.97,29.60 13.25,30.95 C12.53,32.30 12.23,33.98 11.40,34.70 C10.57,35.43 9.19,35.82 8.25,35.30 C7.31,34.78 6.47,33.05 5.75,31.60 C5.03,30.15 4.36,28.38 3.90,26.60 C3.44,24.83 3.11,22.73 3.00,20.95 C2.89,19.17 2.79,17.16 3.25,15.95Z" fill="url(#lg19)" stroke="url(#lg19)" stroke-width="1.3" stroke-opacity="0.35"/>
<path d="M10.50,30.00 C11.38,29.92 12.62,30.33 12.90,31.00 C13.18,31.67 12.68,33.23 12.20,34.00 C11.72,34.77 10.73,35.57 10.00,35.65 C9.27,35.73 8.20,35.19 7.80,34.50 C7.40,33.81 7.15,32.25 7.60,31.50 C8.05,30.75 9.62,30.08 10.50,30.00Z" fill="#a8c830" stroke="#a8c830" stroke-width="1.3" stroke-opacity="0.35"/>
<path d="M32.20,43.00 C32.20,43.98 31.94,45.15 31.55,45.94 C31.16,46.73 30.48,47.45 29.85,47.76 C29.22,48.06 28.38,48.06 27.75,47.76 C27.12,47.45 26.44,46.73 26.05,45.94 C25.66,45.15 25.40,43.98 25.40,43.00 C25.40,42.02 25.66,40.85 26.05,40.06 C26.44,39.27 27.12,38.55 27.75,38.24 C28.38,37.94 29.22,37.94 29.85,38.24 C30.48,38.55 31.16,39.27 31.55,40.06 C31.94,40.85 32.20,42.02 32.20,43.00Z" fill="#f0b020" stroke="#f0b020" stroke-width="1.3" stroke-opacity="0.35"/>
<path d="M20.60,48.80 C20.73,48.28 21.23,48.28 21.40,48.80 C21.57,49.32 21.73,51.38 21.60,51.90 C21.47,52.42 20.77,52.42 20.60,51.90 C20.43,51.38 20.47,49.32 20.60,48.80Z" fill="#e0c040" stroke="#e0c040" stroke-width="1.3" stroke-opacity="0.35"/>
<path d="M30.40,5.00 C30.07,3.30 30.75,3.20 31.40,4.80 C32.05,6.40 33.97,12.90 34.30,14.60 C34.63,16.30 34.05,16.60 33.40,15.00 C32.75,13.40 30.73,6.70 30.40,5.00Z" fill="#60a060" stroke="#60a060" stroke-width="1.3" stroke-opacity="0.35"/>
<path d="M40.50,8.50 C41.02,8.42 42.52,9.25 42.60,10.50 C42.68,11.75 42.10,14.08 41.00,16.00 C39.90,17.92 37.67,20.13 36.00,22.00 C34.33,23.87 32.18,26.53 31.00,27.20 C29.82,27.87 28.73,27.03 28.90,26.00 C29.07,24.97 30.65,22.83 32.00,21.00 C33.35,19.17 35.75,16.67 37.00,15.00 C38.25,13.33 38.92,12.08 39.50,11.00 C40.08,9.92 39.98,8.58 40.50,8.50Z" fill="url(#lg20)" stroke="url(#lg20)" stroke-width="1.3" stroke-opacity="0.35"/>
<path d="M38.00,24.50 C39.33,24.00 42.17,23.83 44.00,24.00 C45.83,24.17 47.88,24.50 49.00,25.50 C50.12,26.50 50.58,28.08 50.75,30.00 C50.92,31.92 50.54,34.92 50.00,37.00 C49.46,39.08 48.50,41.12 47.50,42.50 C46.50,43.88 45.17,44.88 44.00,45.30 C42.83,45.72 41.50,45.55 40.50,45.00 C39.50,44.45 38.92,42.92 38.00,42.00 C37.08,41.08 35.75,40.50 35.00,39.50 C34.25,38.50 33.58,37.42 33.50,36.00 C33.42,34.58 34.08,32.50 34.50,31.00 C34.92,29.50 35.42,28.08 36.00,27.00 C36.58,25.92 36.67,25.00 38.00,24.50Z" fill="url(#lg21)" stroke="url(#lg21)" stroke-width="1.3" stroke-opacity="0.35"/>
</g>
<path d="M13.55,17.50 C14.18,15.52 16.68,18.95 18.55,20.00 C20.43,21.05 23.13,22.44 24.80,23.80 C26.47,25.16 27.60,26.45 28.55,28.15 C29.50,29.85 30.18,32.02 30.50,34.00 C30.82,35.98 30.92,38.33 30.50,40.00 C30.08,41.67 28.92,43.67 28.00,44.00 C27.08,44.33 26.00,43.00 25.00,42.00 C24.00,41.00 23.07,39.06 22.00,38.00 C20.93,36.94 19.75,36.67 18.55,35.65 C17.35,34.63 15.63,34.92 14.80,31.90 C13.97,28.88 12.93,19.48 13.55,17.50Z" fill="#f0a030" opacity="0.16" filter="url(#soft)"/>
<circle cx="20.29" cy="33.85" r="0.6" fill="#f0a030"/>
<circle cx="24.22" cy="35.99" r="0.6" fill="#f0b828"/>
<circle cx="20.61" cy="27.66" r="0.6" fill="#f0c040"/>
<circle cx="25.83" cy="37.97" r="0.6" fill="#f0c040"/>
<circle cx="23.19" cy="28.30" r="0.6" fill="#f0c040"/>
<circle cx="15.23" cy="29.69" r="0.6" fill="#f0a030"/>
<circle cx="25.44" cy="28.65" r="0.6" fill="#f0b828"/>
<circle cx="29.61" cy="41.04" r="0.6" fill="#f0b828"/>
<circle cx="18.65" cy="30.62" r="0.6" fill="#f0c040"/>
<circle cx="29.45" cy="31.88" r="0.6" fill="#f0b828"/>
<circle cx="25.12" cy="36.57" r="0.6" fill="#f0a030"/>
<circle cx="21.83" cy="34.87" r="0.6" fill="#f0c040"/>
<circle cx="29.53" cy="32.89" r="0.6" fill="#f0b828"/>
<circle cx="20.14" cy="35.71" r="0.6" fill="#f0c040"/>
<circle cx="23.73" cy="35.80" r="0.6" fill="#f0a030"/>
<circle cx="23.34" cy="24.70" r="0.6" fill="#f0a030"/>
<circle cx="26.30" cy="34.28" r="0.6" fill="#f0b828"/>
<circle cx="15.57" cy="28.52" r="0.6" fill="#f0a030"/>
<circle cx="25.73" cy="33.23" r="0.6" fill="#f0c040"/>
<circle cx="15.29" cy="31.29" r="0.6" fill="#f0c040"/>
<circle cx="17.15" cy="20.72" r="0.6" fill="#f0c040"/>
<circle cx="15.06" cy="30.19" r="0.6" fill="#f0c040"/>
<circle cx="14.41" cy="22.86" r="0.6" fill="#f0a030"/>
<circle cx="15.66" cy="18.75" r="0.6" fill="#f0c040"/>
<circle cx="28.76" cy="40.02" r="0.6" fill="#f0b828"/>
<circle cx="18.11" cy="22.21" r="0.6" fill="#f0c040"/>
<circle cx="18.10" cy="32.14" r="0.6" fill="#f0c040"/>
<circle cx="22.25" cy="32.54" r="0.6" fill="#f0b828"/>
<circle cx="19.03" cy="33.20" r="0.6" fill="#f0a030"/>
<circle cx="18.72" cy="35.00" r="0.6" fill="#f0a030"/>
<circle cx="25.52" cy="31.40" r="0.6" fill="#f0b828"/>
<circle cx="29.20" cy="36.03" r="0.6" fill="#f0b828"/>
<circle cx="19.31" cy="32.10" r="0.6" fill="#f0b828"/>
<circle cx="30.21" cy="39.91" r="0.6" fill="#f0c040"/>
<circle cx="28.68" cy="39.49" r="0.6" fill="#f0c040"/>
<circle cx="23.95" cy="37.37" r="0.6" fill="#f0b828"/>
<circle cx="21.46" cy="28.91" r="0.6" fill="#f0c040"/>
<circle cx="21.63" cy="25.17" r="0.6" fill="#f0b828"/>
<circle cx="17.60" cy="29.45" r="0.6" fill="#f0b828"/>
<circle cx="15.73" cy="30.77" r="0.6" fill="#f0b828"/>
<circle cx="22.31" cy="37.86" r="0.6" fill="#f0b828"/>
<circle cx="24.98" cy="41.82" r="0.6" fill="#f0c040"/>
<circle cx="26.80" cy="29.24" r="0.6" fill="#f0c040"/>
<circle cx="27.31" cy="35.71" r="0.6" fill="#f0a030"/>
<circle cx="15.87" cy="24.25" r="0.6" fill="#f0b828"/>
<circle cx="22.80" cy="23.13" r="0.6" fill="#f0c040"/>
<circle cx="18.51" cy="24.36" r="0.6" fill="#f0b828"/>
<circle cx="20.07" cy="29.94" r="0.6" fill="#f0c040"/>
<circle cx="26.46" cy="32.64" r="0.6" fill="#f0a030"/>
<circle cx="24.22" cy="24.20" r="0.6" fill="#f0c040"/>
<circle cx="16.90" cy="23.57" r="0.6" fill="#f0c040"/>
<circle cx="24.25" cy="25.53" r="0.6" fill="#f0b828"/>
<circle cx="20.59" cy="24.21" r="0.6" fill="#f0a030"/>
<circle cx="26.52" cy="42.58" r="0.6" fill="#f0a030"/>
<circle cx="28.68" cy="35.11" r="0.6" fill="#f0a030"/>
<circle cx="27.49" cy="29.80" r="0.6" fill="#f0b828"/>
<circle cx="21.81" cy="27.68" r="0.6" fill="#f0b828"/>
<circle cx="28.71" cy="41.16" r="0.6" fill="#f0b828"/>
<circle cx="20.01" cy="30.81" r="0.6" fill="#f0a030"/>
<circle cx="14.87" cy="29.02" r="0.6" fill="#f0b828"/>
<circle cx="25.86" cy="25.66" r="0.6" fill="#f0a030"/>
<circle cx="28.73" cy="37.33" r="0.6" fill="#f0a030"/>
<circle cx="14.23" cy="18.00" r="0.6" fill="#f0c040"/>
<circle cx="27.93" cy="41.61" r="0.6" fill="#f0b828"/>
<circle cx="20.44" cy="28.35" r="0.6" fill="#f0c040"/>
<circle cx="27.97" cy="33.89" r="0.6" fill="#f0b828"/>
<circle cx="18.66" cy="24.13" r="0.6" fill="#f0b828"/>
<circle cx="23.59" cy="35.16" r="0.6" fill="#f0a030"/>
<circle cx="18.76" cy="35.67" r="0.6" fill="#f0c040"/>
<circle cx="18.51" cy="29.56" r="0.6" fill="#f0a030"/>
<circle cx="27.80" cy="30.36" r="0.6" fill="#f0b828"/>
<circle cx="22.09" cy="22.86" r="0.6" fill="#f0a030"/>
<circle cx="17.09" cy="26.45" r="0.6" fill="#f0c040"/>
<circle cx="26.91" cy="40.73" r="0.6" fill="#f0a030"/>
<circle cx="20.66" cy="34.08" r="0.6" fill="#f0b828"/>
<circle cx="23.61" cy="36.06" r="0.6" fill="#f0c040"/>
<circle cx="24.07" cy="23.53" r="0.6" fill="#f0b828"/>
<circle cx="27.21" cy="35.64" r="0.6" fill="#f0b828"/>
<circle cx="18.33" cy="33.08" r="0.6" fill="#f0a030"/>
<circle cx="24.54" cy="39.75" r="0.6" fill="#f0a030"/>
<circle cx="27.79" cy="37.66" r="0.6" fill="#f0b828"/>
<circle cx="24.24" cy="35.88" r="0.6" fill="#f0b828"/>
<circle cx="26.03" cy="36.88" r="0.6" fill="#f0a030"/>
<circle cx="22.46" cy="31.92" r="0.6" fill="#f0a030"/>
<circle cx="22.89" cy="25.77" r="0.6" fill="#f0a030"/>
<circle cx="28.40" cy="40.99" r="0.6" fill="#f0c040"/>
<circle cx="21.07" cy="27.75" r="0.6" fill="#f0c040"/>
<circle cx="24.08" cy="29.03" r="0.6" fill="#f0c040"/>
<circle cx="22.90" cy="38.74" r="0.6" fill="#f0c040"/>
<circle cx="22.69" cy="26.75" r="0.6" fill="#f0b828"/>
<circle cx="25.11" cy="37.85" r="0.6" fill="#f0c040"/>
<circle cx="23.00" cy="24.99" r="0.6" fill="#f0b828"/>
<circle cx="23.45" cy="39.87" r="0.6" fill="#f0a030"/>
<circle cx="14.54" cy="25.10" r="0.6" fill="#f0b828"/>
<circle cx="23.79" cy="25.83" r="0.6" fill="#f0a030"/>
<circle cx="19.63" cy="21.34" r="0.6" fill="#f0a030"/>
<circle cx="24.89" cy="37.67" r="0.6" fill="#f0c040"/>
<circle cx="26.39" cy="42.49" r="0.6" fill="#f0a030"/>
<circle cx="20.90" cy="31.98" r="0.6" fill="#f0a030"/>
<circle cx="23.17" cy="35.01" r="0.6" fill="#f0b828"/>
<circle cx="28.49" cy="36.09" r="0.6" fill="#f0a030"/>
<circle cx="16.91" cy="23.77" r="0.6" fill="#f0a030"/>
<circle cx="27.47" cy="29.49" r="0.6" fill="#f0a030"/>
<circle cx="29.24" cy="37.88" r="0.6" fill="#f0c040"/>
<circle cx="20.65" cy="22.94" r="0.6" fill="#f0a030"/>
<circle cx="14.30" cy="25.43" r="0.6" fill="#f0c040"/>
<circle cx="26.84" cy="34.98" r="0.6" fill="#f0c040"/>
<circle cx="24.22" cy="32.18" r="0.6" fill="#f0b828"/>
<circle cx="19.61" cy="24.94" r="0.6" fill="#f0a030"/>
<circle cx="20.25" cy="36.51" r="0.6" fill="#f0c040"/>
<circle cx="23.81" cy="32.67" r="0.6" fill="#f0b828"/>
<circle cx="18.88" cy="22.20" r="0.6" fill="#f0c040"/>
<circle cx="23.21" cy="29.46" r="0.6" fill="#f0b828"/>
<circle cx="24.46" cy="40.13" r="0.6" fill="#f0a030"/>
<circle cx="26.92" cy="29.34" r="0.6" fill="#f0c040"/>
<circle cx="26.53" cy="41.98" r="0.6" fill="#f0b828"/>
<circle cx="25.50" cy="41.75" r="0.6" fill="#f0c040"/>
<circle cx="18.21" cy="32.66" r="0.6" fill="#f0b828"/>
<circle cx="16.10" cy="22.12" r="0.6" fill="#f0c040"/>
<circle cx="16.35" cy="22.95" r="0.6" fill="#f0b828"/>
<circle cx="25.56" cy="27.07" r="0.6" fill="#f0c040"/>
<circle cx="28.92" cy="37.54" r="0.6" fill="#f0b828"/>
<circle cx="27.85" cy="39.22" r="0.6" fill="#f0c040"/>
<circle cx="23.15" cy="38.88" r="0.6" fill="#f0c040"/>
<circle cx="14.62" cy="20.83" r="0.6" fill="#f0b828"/>
<circle cx="20.58" cy="31.48" r="0.6" fill="#f0c040"/>
<circle cx="29.59" cy="38.85" r="0.6" fill="#f0a030"/>
<circle cx="27.75" cy="27.30" r="0.6" fill="#f0c040"/>
<circle cx="28.06" cy="36.05" r="0.6" fill="#f0a030"/>
<circle cx="18.19" cy="34.99" r="0.6" fill="#f0a030"/>
<circle cx="19.68" cy="34.74" r="0.6" fill="#f0c040"/>
<circle cx="20.10" cy="32.33" r="0.6" fill="#f0c040"/>
<circle cx="20.59" cy="27.41" r="0.6" fill="#f0c040"/>
<circle cx="23.92" cy="38.59" r="0.6" fill="#f0a030"/>
<circle cx="26.80" cy="37.66" r="0.6" fill="#f0c040"/>
<circle cx="23.13" cy="30.20" r="0.6" fill="#f0a030"/>
<circle cx="22.33" cy="26.59" r="0.6" fill="#f0c040"/>
<circle cx="25.61" cy="36.53" r="0.6" fill="#f0c040"/>
<circle cx="21.96" cy="32.76" r="0.6" fill="#f0b828"/>
<circle cx="20.88" cy="31.04" r="0.6" fill="#f0c040"/>
<circle cx="15.18" cy="21.89" r="0.6" fill="#f0b828"/>
<circle cx="22.74" cy="27.01" r="0.6" fill="#f0b828"/>
<circle cx="27.54" cy="29.02" r="0.6" fill="#f0c040"/>
<circle cx="29.72" cy="34.63" r="0.6" fill="#f0b828"/>
<circle cx="19.50" cy="30.60" r="0.6" fill="#f0b828"/>
<circle cx="27.02" cy="32.58" r="0.6" fill="#f0c040"/>
<circle cx="28.21" cy="29.28" r="0.6" fill="#f0c040"/>
<circle cx="23.85" cy="34.56" r="0.6" fill="#f0b828"/>
<circle cx="17.52" cy="33.06" r="0.6" fill="#f0a030"/>
<circle cx="22.00" cy="25.82" r="0.6" fill="#f0b828"/>
<circle cx="29.20" cy="37.37" r="0.6" fill="#f0a030"/>
<circle cx="19.25" cy="30.51" r="0.6" fill="#f0c040"/>
<circle cx="17.23" cy="24.60" r="0.6" fill="#f0c040"/>
<circle cx="25.07" cy="31.40" r="0.6" fill="#f0b828"/>
<circle cx="17.49" cy="24.17" r="0.6" fill="#f0a030"/>
<circle cx="28.62" cy="31.52" r="0.6" fill="#f0c040"/>
<circle cx="30.39" cy="36.76" r="0.6" fill="#f0c040"/>
<circle cx="20.67" cy="34.08" r="0.6" fill="#f0b828"/>
<circle cx="14.91" cy="24.57" r="0.6" fill="#f0c040"/>
<circle cx="19.68" cy="34.28" r="0.6" fill="#f0a030"/>
<ellipse cx="41.85" cy="35.55" rx="10.3" ry="13.85" transform="rotate(33 41.85 35.55)" fill="none" stroke="#111" stroke-width="1.75" stroke-dasharray="3.9 2.05"/>
<line x1="0" y1="0" x2="0" y2="57.00" stroke="#707070" stroke-width="1"/>
<line x1="0" y1="57.00" x2="57.20" y2="57.00" stroke="#707070" stroke-width="1"/>
<line x1="-2" y1="57.00" x2="0" y2="57.00" stroke="#555" stroke-width="0.8"/>
<line x1="-2" y1="39.70" x2="0" y2="39.70" stroke="#555" stroke-width="0.8"/>
<line x1="-2" y1="22.40" x2="0" y2="22.40" stroke="#555" stroke-width="0.8"/>
<line x1="-2" y1="5.10" x2="0" y2="5.10" stroke="#555" stroke-width="0.8"/>
<line x1="0.30" y1="57.00" x2="0.30" y2="58.60" stroke="#555" stroke-width="0.8"/>
<line x1="13.28" y1="57.00" x2="13.28" y2="58.60" stroke="#555" stroke-width="0.8"/>
<line x1="26.25" y1="57.00" x2="26.25" y2="58.60" stroke="#555" stroke-width="0.8"/>
<line x1="39.23" y1="57.00" x2="39.23" y2="58.60" stroke="#555" stroke-width="0.8"/>
<line x1="52.20" y1="57.00" x2="52.20" y2="58.60" stroke="#555" stroke-width="0.8"/>
<path d="M-1,57.0h1M-1,53.5h1M-1,50.1h1M-1,46.6h1M-1,43.2h1M-1,39.7h1M-1,36.2h1M-1,32.8h1M-1,29.3h1M-1,25.9h1M-1,22.4h1M-1,18.9h1M-1,15.5h1M-1,12.0h1M-1,8.6h1M-1,5.1h1M-1,1.6h1M0.3,57.0v1M2.9,57.0v1M5.5,57.0v1M8.1,57.0v1M10.7,57.0v1M13.3,57.0v1M15.9,57.0v1M18.5,57.0v1M21.1,57.0v1M23.7,57.0v1M26.3,57.0v1M28.8,57.0v1M31.4,57.0v1M34.0,57.0v1M36.6,57.0v1M39.2,57.0v1M41.8,57.0v1M44.4,57.0v1M47.0,57.0v1M49.6,57.0v1M52.2,57.0v1M54.8,57.0v1" stroke="#777" stroke-width="0.6"/>
</g>
<text x="147.08" y="290.15" font-size="6.4" text-anchor="start" font-weight="normal" fill="#333" stroke="#333" stroke-width="0.12" textLength="3.22" lengthAdjust="spacingAndGlyphs" >0</text>
<text x="142.24" y="272.85" font-size="6.4" text-anchor="start" font-weight="normal" fill="#333" stroke="#333" stroke-width="0.12" textLength="8.06" lengthAdjust="spacingAndGlyphs" >5.0</text>
<text x="143.85" y="255.55" font-size="6.4" text-anchor="start" font-weight="normal" fill="#333" stroke="#333" stroke-width="0.12" textLength="6.45" lengthAdjust="spacingAndGlyphs" >10</text>
<text x="143.85" y="238.25" font-size="6.4" text-anchor="start" font-weight="normal" fill="#333" stroke="#333" stroke-width="0.12" textLength="6.45" lengthAdjust="spacingAndGlyphs" >15</text>
<text x="153.19" y="297.30" font-size="6.4" text-anchor="start" font-weight="normal" fill="#333" stroke="#333" stroke-width="0.12" textLength="3.22" lengthAdjust="spacingAndGlyphs" >0</text>
<text x="163.74" y="297.30" font-size="6.4" text-anchor="start" font-weight="normal" fill="#333" stroke="#333" stroke-width="0.12" textLength="8.06" lengthAdjust="spacingAndGlyphs" >5.0</text>
<text x="177.53" y="297.30" font-size="6.4" text-anchor="start" font-weight="normal" fill="#333" stroke="#333" stroke-width="0.12" textLength="6.45" lengthAdjust="spacingAndGlyphs" >10</text>
<text x="190.50" y="297.30" font-size="6.4" text-anchor="start" font-weight="normal" fill="#333" stroke="#333" stroke-width="0.12" textLength="6.45" lengthAdjust="spacingAndGlyphs" >15</text>
<text x="203.48" y="297.30" font-size="6.4" text-anchor="start" font-weight="normal" fill="#333" stroke="#333" stroke-width="0.12" textLength="6.45" lengthAdjust="spacingAndGlyphs" >20</text>
<g transform="translate(230.30,231.20)">
<line x1="13.28" y1="0.5" x2="13.28" y2="57.00" stroke="#ececf8" stroke-width="0.6"/>
<line x1="26.25" y1="0.5" x2="26.25" y2="57.00" stroke="#ececf8" stroke-width="0.6"/>
<line x1="39.23" y1="0.5" x2="39.23" y2="57.00" stroke="#ececf8" stroke-width="0.6"/>
<line x1="52.20" y1="0.5" x2="52.20" y2="57.00" stroke="#ececf8" stroke-width="0.6"/>
<line x1="0" y1="39.70" x2="57.90" y2="39.70" stroke="#f0eef4" stroke-width="0.6"/>
<line x1="0" y1="22.40" x2="57.90" y2="22.40" stroke="#f0eef4" stroke-width="0.6"/>
<line x1="0" y1="5.10" x2="57.90" y2="5.10" stroke="#f0eef4" stroke-width="0.6"/>
<path d="M0,-0.2 H57.90" fill="none" stroke="#b0b0b0" stroke-width="1"/>
<path d="M57.90,-0.7 V57.00" fill="none" stroke="#939393" stroke-width="1"/>
<g filter="url(#tex)" opacity="0.85">
<path d="M4.05,12.90 C4.77,11.97 6.34,11.98 7.80,12.30 C9.26,12.62 11.23,13.87 12.80,14.80 C14.37,15.73 15.88,16.90 17.20,17.90 C18.52,18.90 20.38,19.86 20.70,20.80 C21.02,21.74 20.10,22.78 19.10,23.55 C18.10,24.32 15.85,24.36 14.70,25.40 C13.55,26.44 12.93,28.33 12.20,29.80 C11.47,31.27 11.03,33.27 10.30,34.20 C9.57,35.13 8.53,35.82 7.80,35.40 C7.07,34.98 6.51,33.47 5.95,31.70 C5.39,29.93 4.87,27.10 4.45,24.80 C4.03,22.50 3.52,19.88 3.45,17.90 C3.38,15.92 3.32,13.83 4.05,12.90Z" fill="url(#lg22)" stroke="url(#lg22)" stroke-width="1.3" stroke-opacity="0.35"/>
<path d="M31.80,42.40 C31.80,43.61 31.54,45.06 31.15,46.04 C30.76,47.03 30.08,47.92 29.45,48.30 C28.82,48.67 27.98,48.67 27.35,48.30 C26.72,47.92 26.04,47.03 25.65,46.04 C25.26,45.06 25.00,43.61 25.00,42.40 C25.00,41.19 25.26,39.74 25.65,38.76 C26.04,37.77 26.72,36.88 27.35,36.50 C27.98,36.13 28.82,36.13 29.45,36.50 C30.08,36.88 30.76,37.77 31.15,38.76 C31.54,39.74 31.80,41.19 31.80,42.40Z" fill="#e87818" stroke="#e87818" stroke-width="1.3" stroke-opacity="0.35"/>
<path d="M41.00,9.00 C41.42,8.67 42.42,9.67 42.50,10.50 C42.58,11.33 42.25,12.58 41.50,14.00 C40.75,15.42 39.42,17.42 38.00,19.00 C36.58,20.58 34.33,22.42 33.00,23.50 C31.67,24.58 30.67,25.33 30.00,25.50 C29.33,25.67 28.58,25.25 29.00,24.50 C29.42,23.75 31.17,22.25 32.50,21.00 C33.83,19.75 35.75,18.42 37.00,17.00 C38.25,15.58 39.33,13.83 40.00,12.50 C40.67,11.17 40.58,9.33 41.00,9.00Z" fill="url(#lg23)" stroke="url(#lg23)" stroke-width="1.3" stroke-opacity="0.35"/>
<path d="M39.00,23.50 C40.42,22.83 43.25,22.42 45.00,22.50 C46.75,22.58 48.42,22.92 49.50,24.00 C50.58,25.08 51.28,26.92 51.50,29.00 C51.72,31.08 51.30,34.28 50.80,36.50 C50.30,38.72 49.47,40.88 48.50,42.30 C47.53,43.72 46.25,44.58 45.00,45.00 C43.75,45.42 42.08,45.30 41.00,44.80 C39.92,44.30 39.42,42.88 38.50,42.00 C37.58,41.12 36.33,40.50 35.50,39.50 C34.67,38.50 33.67,37.42 33.50,36.00 C33.33,34.58 34.00,32.58 34.50,31.00 C35.00,29.42 35.75,27.75 36.50,26.50 C37.25,25.25 37.58,24.17 39.00,23.50Z" fill="#e2d810" stroke="#e2d810" stroke-width="1.3" stroke-opacity="0.35"/>
</g>
<path d="M15.00,21.00 C15.92,20.33 19.00,21.17 21.00,22.00 C23.00,22.83 25.33,24.50 27.00,26.00 C28.67,27.50 30.00,29.00 31.00,31.00 C32.00,33.00 32.83,35.50 33.00,38.00 C33.17,40.50 32.83,44.00 32.00,46.00 C31.17,48.00 29.33,49.83 28.00,50.00 C26.67,50.17 25.17,48.67 24.00,47.00 C22.83,45.33 22.00,42.50 21.00,40.00 C20.00,37.50 18.92,34.33 18.00,32.00 C17.08,29.67 16.00,27.83 15.50,26.00 C15.00,24.17 14.08,21.67 15.00,21.00Z" fill="#f0a030" opacity="0.16" filter="url(#soft)"/>
<circle cx="23.66" cy="40.32" r="0.55" fill="#f0b828"/>
<circle cx="20.38" cy="34.48" r="0.55" fill="#f0c040"/>
<circle cx="18.98" cy="34.19" r="0.55" fill="#f0c040"/>
<circle cx="25.72" cy="27.85" r="0.55" fill="#f0c040"/>
<circle cx="23.43" cy="31.19" r="0.55" fill="#f0a030"/>
<circle cx="28.21" cy="40.53" r="0.55" fill="#f0b828"/>
<circle cx="21.20" cy="38.68" r="0.55" fill="#f0c040"/>
<circle cx="15.38" cy="22.99" r="0.55" fill="#f0a030"/>
<circle cx="31.33" cy="37.87" r="0.55" fill="#f0a030"/>
<circle cx="26.92" cy="34.87" r="0.55" fill="#f0a030"/>
<circle cx="29.40" cy="45.17" r="0.55" fill="#f0a030"/>
<circle cx="20.21" cy="33.64" r="0.55" fill="#f0b828"/>
<circle cx="26.95" cy="48.31" r="0.55" fill="#f0a030"/>
<circle cx="26.23" cy="27.81" r="0.55" fill="#f0b828"/>
<circle cx="22.04" cy="38.55" r="0.55" fill="#f0a030"/>
<circle cx="28.39" cy="30.13" r="0.55" fill="#f0b828"/>
<circle cx="26.20" cy="37.83" r="0.55" fill="#f0b828"/>
<circle cx="24.09" cy="28.63" r="0.55" fill="#f0a030"/>
<circle cx="24.29" cy="41.18" r="0.55" fill="#f0b828"/>
<circle cx="19.99" cy="34.62" r="0.55" fill="#f0b828"/>
<circle cx="18.69" cy="30.00" r="0.55" fill="#f0a030"/>
<circle cx="28.81" cy="42.74" r="0.55" fill="#f0c040"/>
<circle cx="22.28" cy="37.01" r="0.55" fill="#f0a030"/>
<circle cx="22.41" cy="32.41" r="0.55" fill="#f0a030"/>
<circle cx="21.34" cy="33.80" r="0.55" fill="#f0b828"/>
<circle cx="29.07" cy="28.97" r="0.55" fill="#f0a030"/>
<circle cx="25.17" cy="33.82" r="0.55" fill="#f0c040"/>
<circle cx="27.07" cy="30.30" r="0.55" fill="#f0a030"/>
<circle cx="26.86" cy="47.98" r="0.55" fill="#f0b828"/>
<circle cx="23.22" cy="33.03" r="0.55" fill="#f0c040"/>
<circle cx="22.91" cy="24.75" r="0.55" fill="#f0a030"/>
<circle cx="24.66" cy="34.22" r="0.55" fill="#f0b828"/>
<circle cx="29.74" cy="41.21" r="0.55" fill="#f0a030"/>
<circle cx="26.32" cy="35.17" r="0.55" fill="#f0c040"/>
<circle cx="21.44" cy="37.49" r="0.55" fill="#f0a030"/>
<circle cx="22.45" cy="36.92" r="0.55" fill="#f0b828"/>
<circle cx="20.90" cy="38.82" r="0.55" fill="#f0b828"/>
<circle cx="22.35" cy="33.20" r="0.55" fill="#f0c040"/>
<circle cx="26.81" cy="37.24" r="0.55" fill="#f0b828"/>
<circle cx="16.54" cy="22.53" r="0.55" fill="#f0c040"/>
<circle cx="26.88" cy="48.44" r="0.55" fill="#f0a030"/>
<circle cx="21.53" cy="33.42" r="0.55" fill="#f0b828"/>
<circle cx="24.07" cy="30.34" r="0.55" fill="#f0b828"/>
<circle cx="20.67" cy="27.20" r="0.55" fill="#f0c040"/>
<circle cx="17.00" cy="27.41" r="0.55" fill="#f0a030"/>
<circle cx="20.76" cy="36.97" r="0.55" fill="#f0a030"/>
<circle cx="21.79" cy="27.47" r="0.55" fill="#f0a030"/>
<circle cx="27.64" cy="39.38" r="0.55" fill="#f0a030"/>
<circle cx="18.24" cy="23.19" r="0.55" fill="#f0b828"/>
<circle cx="28.00" cy="46.59" r="0.55" fill="#f0c040"/>
<circle cx="30.68" cy="37.49" r="0.55" fill="#f0c040"/>
<circle cx="18.55" cy="32.39" r="0.55" fill="#f0a030"/>
<circle cx="27.68" cy="39.70" r="0.55" fill="#f0c040"/>
<circle cx="16.12" cy="23.02" r="0.55" fill="#f0a030"/>
<circle cx="26.91" cy="37.21" r="0.55" fill="#f0b828"/>
<circle cx="25.92" cy="39.95" r="0.55" fill="#f0a030"/>
<circle cx="18.57" cy="26.14" r="0.55" fill="#f0c040"/>
<circle cx="20.78" cy="34.65" r="0.55" fill="#f0b828"/>
<circle cx="28.89" cy="42.03" r="0.55" fill="#f0c040"/>
<circle cx="18.81" cy="23.29" r="0.55" fill="#f0b828"/>
<circle cx="25.18" cy="38.65" r="0.55" fill="#f0b828"/>
<circle cx="20.81" cy="28.19" r="0.55" fill="#f0b828"/>
<circle cx="31.73" cy="36.79" r="0.55" fill="#f0c040"/>
<circle cx="21.36" cy="27.85" r="0.55" fill="#f0b828"/>
<circle cx="28.05" cy="40.81" r="0.55" fill="#f0a030"/>
<circle cx="22.91" cy="36.96" r="0.55" fill="#f0b828"/>
<circle cx="24.84" cy="33.98" r="0.55" fill="#f0c040"/>
<circle cx="26.11" cy="32.56" r="0.55" fill="#f0c040"/>
<circle cx="23.17" cy="41.12" r="0.55" fill="#f0a030"/>
<circle cx="21.48" cy="32.64" r="0.55" fill="#f0b828"/>
<circle cx="23.52" cy="43.34" r="0.55" fill="#f0b828"/>
<circle cx="23.38" cy="30.33" r="0.55" fill="#f0c040"/>
<circle cx="26.70" cy="31.76" r="0.55" fill="#f0c040"/>
<circle cx="15.59" cy="21.63" r="0.55" fill="#f0b828"/>
<circle cx="24.07" cy="24.72" r="0.55" fill="#f0c040"/>
<circle cx="27.43" cy="37.77" r="0.55" fill="#f0b828"/>
<circle cx="26.95" cy="30.55" r="0.55" fill="#f0b828"/>
<circle cx="23.51" cy="41.84" r="0.55" fill="#f0c040"/>
<circle cx="22.34" cy="40.84" r="0.55" fill="#f0a030"/>
<circle cx="26.20" cy="41.88" r="0.55" fill="#f0a030"/>
<circle cx="18.39" cy="30.13" r="0.55" fill="#f0a030"/>
<circle cx="28.93" cy="30.43" r="0.55" fill="#f0c040"/>
<circle cx="24.46" cy="26.54" r="0.55" fill="#f0c040"/>
<circle cx="22.93" cy="25.53" r="0.55" fill="#f0c040"/>
<circle cx="29.62" cy="36.16" r="0.55" fill="#f0b828"/>
<circle cx="18.32" cy="24.67" r="0.55" fill="#f0a030"/>
<circle cx="23.89" cy="30.95" r="0.55" fill="#f0a030"/>
<circle cx="23.98" cy="45.82" r="0.55" fill="#f0c040"/>
<circle cx="20.78" cy="23.69" r="0.55" fill="#f0b828"/>
<circle cx="15.27" cy="23.05" r="0.55" fill="#f0a030"/>
<circle cx="25.17" cy="27.09" r="0.55" fill="#f0c040"/>
<circle cx="27.63" cy="31.03" r="0.55" fill="#f0b828"/>
<circle cx="25.38" cy="43.41" r="0.55" fill="#f0c040"/>
<circle cx="22.79" cy="25.94" r="0.55" fill="#f0c040"/>
<circle cx="30.43" cy="32.62" r="0.55" fill="#f0b828"/>
<circle cx="26.28" cy="39.21" r="0.55" fill="#f0b828"/>
<circle cx="27.17" cy="34.04" r="0.55" fill="#f0a030"/>
<circle cx="19.50" cy="29.23" r="0.55" fill="#f0b828"/>
<circle cx="21.22" cy="40.35" r="0.55" fill="#f0a030"/>
<circle cx="24.86" cy="47.22" r="0.55" fill="#f0c040"/>
<circle cx="19.14" cy="26.40" r="0.55" fill="#f0c040"/>
<circle cx="26.22" cy="40.76" r="0.55" fill="#f0a030"/>
<circle cx="19.22" cy="30.33" r="0.55" fill="#f0b828"/>
<circle cx="24.13" cy="46.59" r="0.55" fill="#f0b828"/>
<circle cx="23.74" cy="32.49" r="0.55" fill="#f0c040"/>
<circle cx="24.55" cy="27.05" r="0.55" fill="#f0c040"/>
<circle cx="16.40" cy="26.62" r="0.55" fill="#f0c040"/>
<circle cx="19.98" cy="31.46" r="0.55" fill="#f0b828"/>
<circle cx="27.69" cy="38.01" r="0.55" fill="#f0b828"/>
<circle cx="21.29" cy="26.61" r="0.55" fill="#f0b828"/>
<circle cx="22.87" cy="32.64" r="0.55" fill="#f0a030"/>
<circle cx="21.91" cy="27.88" r="0.55" fill="#f0b828"/>
<circle cx="18.02" cy="25.24" r="0.55" fill="#f0b828"/>
<circle cx="15.55" cy="21.62" r="0.55" fill="#f0b828"/>
<circle cx="16.65" cy="24.89" r="0.55" fill="#f0c040"/>
<circle cx="28.84" cy="30.05" r="0.55" fill="#f0a030"/>
<circle cx="29.95" cy="31.61" r="0.55" fill="#f0b828"/>
<circle cx="16.67" cy="27.80" r="0.55" fill="#f0c040"/>
<circle cx="20.68" cy="34.31" r="0.55" fill="#f0c040"/>
<circle cx="21.30" cy="26.65" r="0.55" fill="#f0a030"/>
<path d="M32.50,31.00 C33.33,29.83 36.08,29.17 37.00,30.00 C37.92,30.83 37.92,33.92 38.00,36.00 C38.08,38.08 38.17,41.50 37.50,42.50 C36.83,43.50 34.92,42.92 34.00,42.00 C33.08,41.08 32.25,38.83 32.00,37.00 C31.75,35.17 31.67,32.17 32.50,31.00Z" fill="#e0d040" opacity="0.16" filter="url(#soft)"/>
<circle cx="32.36" cy="37.80" r="0.55" fill="#c8d040"/>
<circle cx="32.40" cy="33.27" r="0.55" fill="#e0d040"/>
<circle cx="35.13" cy="41.03" r="0.55" fill="#e0d040"/>
<circle cx="35.85" cy="36.83" r="0.55" fill="#c8d040"/>
<circle cx="36.43" cy="36.65" r="0.55" fill="#e0d040"/>
<circle cx="35.45" cy="31.87" r="0.55" fill="#c8d040"/>
<circle cx="37.78" cy="36.87" r="0.55" fill="#e0d040"/>
<circle cx="37.48" cy="41.69" r="0.55" fill="#c8d040"/>
<circle cx="34.02" cy="35.09" r="0.55" fill="#c8d040"/>
<circle cx="33.15" cy="35.80" r="0.55" fill="#c8d040"/>
<circle cx="36.87" cy="33.85" r="0.55" fill="#e0d040"/>
<circle cx="35.74" cy="38.14" r="0.55" fill="#c8d040"/>
<circle cx="34.02" cy="37.29" r="0.55" fill="#e0d040"/>
<circle cx="33.67" cy="37.67" r="0.55" fill="#e0d040"/>
<circle cx="36.49" cy="41.95" r="0.55" fill="#e0d040"/>
<circle cx="37.16" cy="37.12" r="0.55" fill="#c8d040"/>
<circle cx="32.52" cy="33.12" r="0.55" fill="#c8d040"/>
<circle cx="35.63" cy="34.19" r="0.55" fill="#c8d040"/>
<circle cx="35.86" cy="31.16" r="0.55" fill="#c8d040"/>
<circle cx="35.36" cy="32.55" r="0.55" fill="#e0d040"/>
<circle cx="37.51" cy="39.98" r="0.55" fill="#c8d040"/>
<circle cx="34.61" cy="32.21" r="0.55" fill="#e0d040"/>
<circle cx="35.71" cy="41.69" r="0.55" fill="#c8d040"/>
<circle cx="35.88" cy="37.91" r="0.55" fill="#e0d040"/>
<circle cx="36.99" cy="30.81" r="0.55" fill="#e0d040"/>
<circle cx="35.99" cy="35.24" r="0.55" fill="#c8d040"/>
<circle cx="36.26" cy="35.68" r="0.55" fill="#c8d040"/>
<circle cx="35.81" cy="36.60" r="0.55" fill="#c8d040"/>
<circle cx="33.65" cy="36.31" r="0.55" fill="#c8d040"/>
<circle cx="34.23" cy="36.41" r="0.55" fill="#e0d040"/>
<ellipse cx="41.8" cy="35.15" rx="10.3" ry="13.85" transform="rotate(33 41.8 35.15)" fill="none" stroke="#111" stroke-width="1.75" stroke-dasharray="3.9 2.05"/>
<line x1="0" y1="0" x2="0" y2="57.00" stroke="#707070" stroke-width="1"/>
<line x1="0" y1="57.00" x2="57.90" y2="57.00" stroke="#707070" stroke-width="1"/>
<line x1="-2" y1="57.00" x2="0" y2="57.00" stroke="#555" stroke-width="0.8"/>
<line x1="-2" y1="39.70" x2="0" y2="39.70" stroke="#555" stroke-width="0.8"/>
<line x1="-2" y1="22.40" x2="0" y2="22.40" stroke="#555" stroke-width="0.8"/>
<line x1="-2" y1="5.10" x2="0" y2="5.10" stroke="#555" stroke-width="0.8"/>
<line x1="0.30" y1="57.00" x2="0.30" y2="58.60" stroke="#555" stroke-width="0.8"/>
<line x1="13.28" y1="57.00" x2="13.28" y2="58.60" stroke="#555" stroke-width="0.8"/>
<line x1="26.25" y1="57.00" x2="26.25" y2="58.60" stroke="#555" stroke-width="0.8"/>
<line x1="39.23" y1="57.00" x2="39.23" y2="58.60" stroke="#555" stroke-width="0.8"/>
<line x1="52.20" y1="57.00" x2="52.20" y2="58.60" stroke="#555" stroke-width="0.8"/>
<path d="M-1,57.0h1M-1,53.5h1M-1,50.1h1M-1,46.6h1M-1,43.2h1M-1,39.7h1M-1,36.2h1M-1,32.8h1M-1,29.3h1M-1,25.9h1M-1,22.4h1M-1,18.9h1M-1,15.5h1M-1,12.0h1M-1,8.6h1M-1,5.1h1M-1,1.6h1M0.3,57.0v1M2.9,57.0v1M5.5,57.0v1M8.1,57.0v1M10.7,57.0v1M13.3,57.0v1M15.9,57.0v1M18.5,57.0v1M21.1,57.0v1M23.7,57.0v1M26.3,57.0v1M28.8,57.0v1M31.4,57.0v1M34.0,57.0v1M36.6,57.0v1M39.2,57.0v1M41.8,57.0v1M44.4,57.0v1M47.0,57.0v1M49.6,57.0v1M52.2,57.0v1M54.8,57.0v1" stroke="#777" stroke-width="0.6"/>
</g>
<text x="222.88" y="290.05" font-size="6.4" text-anchor="start" font-weight="normal" fill="#333" stroke="#333" stroke-width="0.12" textLength="3.22" lengthAdjust="spacingAndGlyphs" >0</text>
<text x="218.04" y="272.75" font-size="6.4" text-anchor="start" font-weight="normal" fill="#333" stroke="#333" stroke-width="0.12" textLength="8.06" lengthAdjust="spacingAndGlyphs" >5.0</text>
<text x="219.65" y="255.45" font-size="6.4" text-anchor="start" font-weight="normal" fill="#333" stroke="#333" stroke-width="0.12" textLength="6.45" lengthAdjust="spacingAndGlyphs" >10</text>
<text x="219.65" y="238.15" font-size="6.4" text-anchor="start" font-weight="normal" fill="#333" stroke="#333" stroke-width="0.12" textLength="6.45" lengthAdjust="spacingAndGlyphs" >15</text>
<text x="228.99" y="297.20" font-size="6.4" text-anchor="start" font-weight="normal" fill="#333" stroke="#333" stroke-width="0.12" textLength="3.22" lengthAdjust="spacingAndGlyphs" >0</text>
<text x="239.54" y="297.20" font-size="6.4" text-anchor="start" font-weight="normal" fill="#333" stroke="#333" stroke-width="0.12" textLength="8.06" lengthAdjust="spacingAndGlyphs" >5.0</text>
<text x="253.33" y="297.20" font-size="6.4" text-anchor="start" font-weight="normal" fill="#333" stroke="#333" stroke-width="0.12" textLength="6.45" lengthAdjust="spacingAndGlyphs" >10</text>
<text x="266.30" y="297.20" font-size="6.4" text-anchor="start" font-weight="normal" fill="#333" stroke="#333" stroke-width="0.12" textLength="6.45" lengthAdjust="spacingAndGlyphs" >15</text>
<text x="279.28" y="297.20" font-size="6.4" text-anchor="start" font-weight="normal" fill="#333" stroke="#333" stroke-width="0.12" textLength="6.45" lengthAdjust="spacingAndGlyphs" >20</text>
<g transform="translate(80.10,304.40)">
<line x1="13.28" y1="0.5" x2="13.28" y2="57.00" stroke="#ececf8" stroke-width="0.6"/>
<line x1="26.25" y1="0.5" x2="26.25" y2="57.00" stroke="#ececf8" stroke-width="0.6"/>
<line x1="39.23" y1="0.5" x2="39.23" y2="57.00" stroke="#ececf8" stroke-width="0.6"/>
<line x1="52.20" y1="0.5" x2="52.20" y2="57.00" stroke="#ececf8" stroke-width="0.6"/>
<line x1="0" y1="39.70" x2="57.20" y2="39.70" stroke="#f0eef4" stroke-width="0.6"/>
<line x1="0" y1="22.40" x2="57.20" y2="22.40" stroke="#f0eef4" stroke-width="0.6"/>
<line x1="0" y1="5.10" x2="57.20" y2="5.10" stroke="#f0eef4" stroke-width="0.6"/>
<path d="M0,-0.2 H57.20" fill="none" stroke="#b0b0b0" stroke-width="1"/>
<path d="M57.20,-0.7 V57.00" fill="none" stroke="#939393" stroke-width="1"/>
<g filter="url(#tex)" opacity="0.85">
<path d="M3.00,18.80 C3.25,17.47 3.96,16.87 4.90,16.30 C5.84,15.73 7.30,15.40 8.65,15.40 C10.00,15.40 11.64,15.73 13.00,16.30 C14.36,16.87 15.55,17.87 16.80,18.80 C18.05,19.73 19.25,20.87 20.50,21.90 C21.75,22.93 23.05,23.95 24.30,25.00 C25.55,26.05 26.97,27.05 28.00,28.20 C29.03,29.35 29.97,30.77 30.50,31.90 C31.03,33.03 31.37,33.90 31.20,35.00 C31.03,36.10 30.23,37.77 29.50,38.50 C28.77,39.23 27.57,39.22 26.80,39.40 C26.03,39.58 25.73,39.83 24.90,39.60 C24.07,39.37 22.84,38.55 21.80,38.00 C20.76,37.45 19.78,36.80 18.65,36.30 C17.52,35.80 16.11,35.38 15.00,35.00 C13.89,34.62 13.12,34.45 12.00,34.00 C10.88,33.55 9.40,33.20 8.30,32.30 C7.20,31.40 6.22,29.93 5.40,28.60 C4.58,27.27 3.80,25.93 3.40,24.30 C3.00,22.67 2.75,20.13 3.00,18.80Z" fill="url(#lg24)" stroke="url(#lg24)" stroke-width="1.3" stroke-opacity="0.35"/>
<path d="M11.50,29.00 C12.10,28.83 12.40,29.42 12.40,30.00 C12.40,30.58 11.98,31.67 11.50,32.50 C11.02,33.33 10.08,34.72 9.50,35.00 C8.92,35.28 8.12,34.87 8.00,34.20 C7.88,33.53 8.22,31.87 8.80,31.00 C9.38,30.13 10.90,29.17 11.50,29.00Z" fill="#90c038" stroke="#90c038" stroke-width="1.3" stroke-opacity="0.35"/>
<path d="M30.50,28.20 C30.98,28.52 31.68,30.45 31.80,31.90 C31.92,33.35 31.27,35.23 31.20,36.90 C31.13,38.57 31.52,40.13 31.40,41.90 C31.28,43.67 31.07,46.35 30.50,47.50 C29.93,48.65 28.68,49.11 28.00,48.80 C27.32,48.49 26.72,47.22 26.40,45.65 C26.08,44.08 25.83,41.27 26.10,39.40 C26.37,37.52 27.53,35.97 28.00,34.40 C28.47,32.83 28.48,31.03 28.90,30.00 C29.32,28.97 30.02,27.88 30.50,28.20Z" fill="#b0cc20" stroke="#b0cc20" stroke-width="1.3" stroke-opacity="0.35"/>
<path d="M22.30,45.80 C22.30,46.35 21.93,47.17 21.55,47.45 C21.18,47.72 20.43,47.72 20.05,47.45 C19.68,47.17 19.30,46.35 19.30,45.80 C19.30,45.25 19.68,44.43 20.05,44.15 C20.43,43.88 21.18,43.88 21.55,44.15 C21.93,44.43 22.30,45.25 22.30,45.80Z" fill="#a8c830" stroke="#a8c830" stroke-width="1.3" stroke-opacity="0.35"/>
<path d="M22.40,50.80 C22.40,51.44 21.95,52.39 21.50,52.71 C21.05,53.02 20.15,53.02 19.70,52.71 C19.25,52.39 18.80,51.44 18.80,50.80 C18.80,50.16 19.25,49.21 19.70,48.89 C20.15,48.58 21.05,48.58 21.50,48.89 C21.95,49.21 22.40,50.16 22.40,50.80Z" fill="#a8c830" stroke="#a8c830" stroke-width="1.3" stroke-opacity="0.35"/>
<path d="M30.90,5.00 C30.60,3.40 31.43,3.50 32.10,5.00 C32.77,6.50 34.60,12.40 34.90,14.00 C35.20,15.60 34.57,16.10 33.90,14.60 C33.23,13.10 31.20,6.60 30.90,5.00Z" fill="#a8c840" stroke="#a8c840" stroke-width="1.3" stroke-opacity="0.35"/>
<path d="M36.00,16.90 C36.80,16.40 37.80,16.90 38.00,17.50 C38.20,18.10 37.62,19.45 37.20,20.50 C36.78,21.55 36.13,23.28 35.50,23.80 C34.87,24.32 33.78,24.15 33.40,23.60 C33.02,23.05 32.77,21.62 33.20,20.50 C33.63,19.38 35.20,17.40 36.00,16.90Z" fill="#c0d040" stroke="#c0d040" stroke-width="1.3" stroke-opacity="0.35"/>
<path d="M30.00,21.80 C30.00,22.26 29.70,22.95 29.40,23.19 C29.10,23.42 28.50,23.42 28.20,23.19 C27.90,22.95 27.60,22.26 27.60,21.80 C27.60,21.34 27.90,20.65 28.20,20.41 C28.50,20.18 29.10,20.18 29.40,20.41 C29.70,20.65 30.00,21.34 30.00,21.80Z" fill="#3050a0" stroke="#3050a0" stroke-width="1.3" stroke-opacity="0.35"/>
</g>
<path d="M34.00,28.50 C35.17,27.17 38.83,27.75 41.00,28.00 C43.17,28.25 45.75,28.83 47.00,30.00 C48.25,31.17 48.50,33.08 48.50,35.00 C48.50,36.92 48.08,40.00 47.00,41.50 C45.92,43.00 43.58,43.92 42.00,44.00 C40.42,44.08 38.83,43.33 37.50,42.00 C36.17,40.67 34.58,38.25 34.00,36.00 C33.42,33.75 32.83,29.83 34.00,28.50Z" fill="#c8d840" opacity="0.16" filter="url(#soft)"/>
<circle cx="41.47" cy="31.02" r="0.55" fill="#d0e060"/>
<circle cx="44.64" cy="38.74" r="0.55" fill="#b8d040"/>
<circle cx="37.24" cy="32.02" r="0.55" fill="#b8d040"/>
<circle cx="39.43" cy="30.58" r="0.55" fill="#c8d840"/>
<circle cx="44.24" cy="33.07" r="0.55" fill="#c8d840"/>
<circle cx="38.09" cy="32.67" r="0.55" fill="#c8d840"/>
<circle cx="41.28" cy="36.14" r="0.55" fill="#c8d840"/>
<circle cx="36.90" cy="28.47" r="0.55" fill="#c8d840"/>
<circle cx="46.57" cy="35.18" r="0.55" fill="#b8d040"/>
<circle cx="39.73" cy="42.36" r="0.55" fill="#d0e060"/>
<circle cx="40.33" cy="34.14" r="0.55" fill="#d0e060"/>
<circle cx="39.70" cy="39.74" r="0.55" fill="#d0e060"/>
<circle cx="45.29" cy="37.72" r="0.55" fill="#c8d840"/>
<circle cx="39.56" cy="42.51" r="0.55" fill="#b8d040"/>
<circle cx="40.97" cy="32.13" r="0.55" fill="#d0e060"/>
<circle cx="40.17" cy="32.50" r="0.55" fill="#d0e060"/>
<circle cx="39.49" cy="36.03" r="0.55" fill="#d0e060"/>
<circle cx="39.10" cy="42.42" r="0.55" fill="#d0e060"/>
<circle cx="45.26" cy="32.73" r="0.55" fill="#d0e060"/>
<circle cx="37.43" cy="29.59" r="0.55" fill="#c8d840"/>
<circle cx="35.93" cy="38.31" r="0.55" fill="#c8d840"/>
<circle cx="42.83" cy="42.42" r="0.55" fill="#c8d840"/>
<circle cx="40.77" cy="29.72" r="0.55" fill="#c8d840"/>
<circle cx="36.19" cy="33.82" r="0.55" fill="#c8d840"/>
<circle cx="41.00" cy="40.29" r="0.55" fill="#d0e060"/>
<circle cx="41.99" cy="37.76" r="0.55" fill="#d0e060"/>
<circle cx="47.15" cy="34.33" r="0.55" fill="#c8d840"/>
<circle cx="40.06" cy="30.96" r="0.55" fill="#c8d840"/>
<circle cx="38.70" cy="41.44" r="0.55" fill="#d0e060"/>
<circle cx="38.36" cy="28.24" r="0.55" fill="#b8d040"/>
<circle cx="39.75" cy="33.42" r="0.55" fill="#c8d840"/>
<circle cx="44.20" cy="36.04" r="0.55" fill="#c8d840"/>
<circle cx="39.53" cy="32.83" r="0.55" fill="#d0e060"/>
<circle cx="45.07" cy="40.70" r="0.55" fill="#c8d840"/>
<circle cx="41.44" cy="38.20" r="0.55" fill="#c8d840"/>
<circle cx="35.49" cy="30.67" r="0.55" fill="#d0e060"/>
<circle cx="41.27" cy="33.47" r="0.55" fill="#c8d840"/>
<circle cx="45.86" cy="33.73" r="0.55" fill="#b8d040"/>
<circle cx="35.28" cy="30.44" r="0.55" fill="#d0e060"/>
<circle cx="39.52" cy="41.03" r="0.55" fill="#b8d040"/>
<circle cx="41.36" cy="32.59" r="0.55" fill="#b8d040"/>
<circle cx="38.37" cy="41.02" r="0.55" fill="#b8d040"/>
<circle cx="37.52" cy="29.82" r="0.55" fill="#b8d040"/>
<circle cx="42.45" cy="38.32" r="0.55" fill="#b8d040"/>
<circle cx="45.33" cy="41.56" r="0.55" fill="#d0e060"/>
<circle cx="47.07" cy="36.40" r="0.55" fill="#c8d840"/>
<circle cx="45.70" cy="40.38" r="0.55" fill="#c8d840"/>
<circle cx="41.44" cy="40.62" r="0.55" fill="#d0e060"/>
<circle cx="34.53" cy="29.37" r="0.55" fill="#d0e060"/>
<circle cx="40.14" cy="31.88" r="0.55" fill="#b8d040"/>
<ellipse cx="42.9" cy="35.6" rx="10.3" ry="13.85" transform="rotate(33 42.9 35.6)" fill="none" stroke="#111" stroke-width="1.75" stroke-dasharray="3.9 2.05"/>
<line x1="0" y1="0" x2="0" y2="57.00" stroke="#707070" stroke-width="1"/>
<line x1="0" y1="57.00" x2="57.20" y2="57.00" stroke="#707070" stroke-width="1"/>
<line x1="-2" y1="57.00" x2="0" y2="57.00" stroke="#555" stroke-width="0.8"/>
<line x1="-2" y1="39.70" x2="0" y2="39.70" stroke="#555" stroke-width="0.8"/>
<line x1="-2" y1="22.40" x2="0" y2="22.40" stroke="#555" stroke-width="0.8"/>
<line x1="-2" y1="5.10" x2="0" y2="5.10" stroke="#555" stroke-width="0.8"/>
<line x1="0.30" y1="57.00" x2="0.30" y2="58.60" stroke="#555" stroke-width="0.8"/>
<line x1="13.28" y1="57.00" x2="13.28" y2="58.60" stroke="#555" stroke-width="0.8"/>
<line x1="26.25" y1="57.00" x2="26.25" y2="58.60" stroke="#555" stroke-width="0.8"/>
<line x1="39.23" y1="57.00" x2="39.23" y2="58.60" stroke="#555" stroke-width="0.8"/>
<line x1="52.20" y1="57.00" x2="52.20" y2="58.60" stroke="#555" stroke-width="0.8"/>
<path d="M-1,57.0h1M-1,53.5h1M-1,50.1h1M-1,46.6h1M-1,43.2h1M-1,39.7h1M-1,36.2h1M-1,32.8h1M-1,29.3h1M-1,25.9h1M-1,22.4h1M-1,18.9h1M-1,15.5h1M-1,12.0h1M-1,8.6h1M-1,5.1h1M-1,1.6h1M0.3,57.0v1M2.9,57.0v1M5.5,57.0v1M8.1,57.0v1M10.7,57.0v1M13.3,57.0v1M15.9,57.0v1M18.5,57.0v1M21.1,57.0v1M23.7,57.0v1M26.3,57.0v1M28.8,57.0v1M31.4,57.0v1M34.0,57.0v1M36.6,57.0v1M39.2,57.0v1M41.8,57.0v1M44.4,57.0v1M47.0,57.0v1M49.6,57.0v1M52.2,57.0v1M54.8,57.0v1" stroke="#777" stroke-width="0.6"/>
</g>
<text x="72.68" y="363.25" font-size="6.4" text-anchor="start" font-weight="normal" fill="#333" stroke="#333" stroke-width="0.12" textLength="3.22" lengthAdjust="spacingAndGlyphs" >0</text>
<text x="67.84" y="345.95" font-size="6.4" text-anchor="start" font-weight="normal" fill="#333" stroke="#333" stroke-width="0.12" textLength="8.06" lengthAdjust="spacingAndGlyphs" >5.0</text>
<text x="69.45" y="328.65" font-size="6.4" text-anchor="start" font-weight="normal" fill="#333" stroke="#333" stroke-width="0.12" textLength="6.45" lengthAdjust="spacingAndGlyphs" >10</text>
<text x="69.45" y="311.35" font-size="6.4" text-anchor="start" font-weight="normal" fill="#333" stroke="#333" stroke-width="0.12" textLength="6.45" lengthAdjust="spacingAndGlyphs" >15</text>
<text x="78.79" y="370.40" font-size="6.4" text-anchor="start" font-weight="normal" fill="#333" stroke="#333" stroke-width="0.12" textLength="3.22" lengthAdjust="spacingAndGlyphs" >0</text>
<text x="89.34" y="370.40" font-size="6.4" text-anchor="start" font-weight="normal" fill="#333" stroke="#333" stroke-width="0.12" textLength="8.06" lengthAdjust="spacingAndGlyphs" >5.0</text>
<text x="103.13" y="370.40" font-size="6.4" text-anchor="start" font-weight="normal" fill="#333" stroke="#333" stroke-width="0.12" textLength="6.45" lengthAdjust="spacingAndGlyphs" >10</text>
<text x="116.10" y="370.40" font-size="6.4" text-anchor="start" font-weight="normal" fill="#333" stroke="#333" stroke-width="0.12" textLength="6.45" lengthAdjust="spacingAndGlyphs" >15</text>
<text x="129.08" y="370.40" font-size="6.4" text-anchor="start" font-weight="normal" fill="#333" stroke="#333" stroke-width="0.12" textLength="6.45" lengthAdjust="spacingAndGlyphs" >20</text>
<g transform="translate(154.20,304.20)">
<line x1="13.28" y1="0.5" x2="13.28" y2="57.00" stroke="#ececf8" stroke-width="0.6"/>
<line x1="26.25" y1="0.5" x2="26.25" y2="57.00" stroke="#ececf8" stroke-width="0.6"/>
<line x1="39.23" y1="0.5" x2="39.23" y2="57.00" stroke="#ececf8" stroke-width="0.6"/>
<line x1="52.20" y1="0.5" x2="52.20" y2="57.00" stroke="#ececf8" stroke-width="0.6"/>
<line x1="0" y1="39.70" x2="57.20" y2="39.70" stroke="#f0eef4" stroke-width="0.6"/>
<line x1="0" y1="22.40" x2="57.20" y2="22.40" stroke="#f0eef4" stroke-width="0.6"/>
<line x1="0" y1="5.10" x2="57.20" y2="5.10" stroke="#f0eef4" stroke-width="0.6"/>
<path d="M0,-0.2 H57.20" fill="none" stroke="#b0b0b0" stroke-width="1"/>
<path d="M57.20,-0.7 V57.00" fill="none" stroke="#939393" stroke-width="1"/>
<g filter="url(#tex)" opacity="0.85">
<path d="M3.25,15.95 C3.71,14.74 4.61,14.01 5.75,13.70 C6.89,13.39 8.85,13.62 10.10,14.10 C11.35,14.58 12.10,15.67 13.25,16.60 C14.40,17.53 16.17,18.56 17.00,19.70 C17.83,20.84 18.46,22.30 18.25,23.45 C18.04,24.60 16.58,25.35 15.75,26.60 C14.92,27.85 13.97,29.60 13.25,30.95 C12.53,32.30 12.23,33.98 11.40,34.70 C10.57,35.43 9.19,35.82 8.25,35.30 C7.31,34.78 6.47,33.05 5.75,31.60 C5.03,30.15 4.36,28.38 3.90,26.60 C3.44,24.83 3.11,22.73 3.00,20.95 C2.89,19.17 2.79,17.16 3.25,15.95Z" fill="url(#lg25)" stroke="url(#lg25)" stroke-width="1.3" stroke-opacity="0.35"/>
<path d="M10.50,30.00 C11.38,29.92 12.62,30.33 12.90,31.00 C13.18,31.67 12.68,33.23 12.20,34.00 C11.72,34.77 10.73,35.57 10.00,35.65 C9.27,35.73 8.20,35.19 7.80,34.50 C7.40,33.81 7.15,32.25 7.60,31.50 C8.05,30.75 9.62,30.08 10.50,30.00Z" fill="#80b840" stroke="#80b840" stroke-width="1.3" stroke-opacity="0.35"/>
<path d="M32.20,43.00 C32.20,43.98 31.94,45.15 31.55,45.94 C31.16,46.73 30.48,47.45 29.85,47.76 C29.22,48.06 28.38,48.06 27.75,47.76 C27.12,47.45 26.44,46.73 26.05,45.94 C25.66,45.15 25.40,43.98 25.40,43.00 C25.40,42.02 25.66,40.85 26.05,40.06 C26.44,39.27 27.12,38.55 27.75,38.24 C28.38,37.94 29.22,37.94 29.85,38.24 C30.48,38.55 31.16,39.27 31.55,40.06 C31.94,40.85 32.20,42.02 32.20,43.00Z" fill="#c8d820" stroke="#c8d820" stroke-width="1.3" stroke-opacity="0.35"/>
<path d="M20.60,48.80 C20.73,48.28 21.23,48.28 21.40,48.80 C21.57,49.32 21.73,51.38 21.60,51.90 C21.47,52.42 20.77,52.42 20.60,51.90 C20.43,51.38 20.47,49.32 20.60,48.80Z" fill="#c0d040" stroke="#c0d040" stroke-width="1.3" stroke-opacity="0.35"/>
<path d="M30.40,5.00 C30.07,3.30 30.75,3.20 31.40,4.80 C32.05,6.40 33.97,12.90 34.30,14.60 C34.63,16.30 34.05,16.60 33.40,15.00 C32.75,13.40 30.73,6.70 30.40,5.00Z" fill="#c8d840" stroke="#c8d840" stroke-width="1.3" stroke-opacity="0.35"/>
<path d="M36.00,17.30 C36.87,17.05 37.70,17.88 37.20,19.00 C36.70,20.12 34.20,22.70 33.00,24.00 C31.80,25.30 30.73,26.63 30.00,26.80 C29.27,26.97 28.27,26.05 28.60,25.00 C28.93,23.95 30.77,21.78 32.00,20.50 C33.23,19.22 35.13,17.55 36.00,17.30Z" fill="#3a8a60" stroke="#3a8a60" stroke-width="1.3" stroke-opacity="0.35"/>
<path d="M40.50,9.80 C40.97,9.72 42.22,10.30 42.30,11.50 C42.38,12.70 41.80,15.25 41.00,17.00 C40.20,18.75 38.50,20.90 37.50,22.00 C36.50,23.10 35.45,23.77 35.00,23.60 C34.55,23.43 34.38,22.27 34.80,21.00 C35.22,19.73 36.72,17.50 37.50,16.00 C38.28,14.50 39.00,13.03 39.50,12.00 C40.00,10.97 40.03,9.88 40.50,9.80Z" fill="#e8e030" stroke="#e8e030" stroke-width="1.3" stroke-opacity="0.35"/>
<path d="M38.00,24.50 C39.33,24.00 42.17,23.83 44.00,24.00 C45.83,24.17 47.88,24.50 49.00,25.50 C50.12,26.50 50.58,28.08 50.75,30.00 C50.92,31.92 50.54,34.92 50.00,37.00 C49.46,39.08 48.50,41.12 47.50,42.50 C46.50,43.88 45.17,44.88 44.00,45.30 C42.83,45.72 41.50,45.55 40.50,45.00 C39.50,44.45 38.92,42.92 38.00,42.00 C37.08,41.08 35.75,40.50 35.00,39.50 C34.25,38.50 33.58,37.42 33.50,36.00 C33.42,34.58 34.08,32.50 34.50,31.00 C34.92,29.50 35.42,28.08 36.00,27.00 C36.58,25.92 36.67,25.00 38.00,24.50Z" fill="#a8c828" stroke="#a8c828" stroke-width="1.3" stroke-opacity="0.35"/>
</g>
<path d="M13.55,17.50 C14.18,15.52 16.68,18.95 18.55,20.00 C20.43,21.05 23.13,22.44 24.80,23.80 C26.47,25.16 27.60,26.45 28.55,28.15 C29.50,29.85 30.18,32.02 30.50,34.00 C30.82,35.98 30.92,38.33 30.50,40.00 C30.08,41.67 28.92,43.67 28.00,44.00 C27.08,44.33 26.00,43.00 25.00,42.00 C24.00,41.00 23.07,39.06 22.00,38.00 C20.93,36.94 19.75,36.67 18.55,35.65 C17.35,34.63 15.63,34.92 14.80,31.90 C13.97,28.88 12.93,19.48 13.55,17.50Z" fill="#d8e040" opacity="0.16" filter="url(#soft)"/>
<circle cx="23.97" cy="31.35" r="0.6" fill="#c8d840"/>
<circle cx="20.71" cy="35.41" r="0.6" fill="#e0e060"/>
<circle cx="18.98" cy="23.75" r="0.6" fill="#c8d840"/>
<circle cx="19.02" cy="28.43" r="0.6" fill="#d8e040"/>
<circle cx="28.52" cy="29.71" r="0.6" fill="#c8d840"/>
<circle cx="26.03" cy="41.54" r="0.6" fill="#d8e040"/>
<circle cx="27.35" cy="35.92" r="0.6" fill="#c8d840"/>
<circle cx="23.10" cy="31.61" r="0.6" fill="#d8e040"/>
<circle cx="30.39" cy="38.60" r="0.6" fill="#d8e040"/>
<circle cx="19.94" cy="30.55" r="0.6" fill="#e0e060"/>
<circle cx="23.47" cy="34.28" r="0.6" fill="#d8e040"/>
<circle cx="26.92" cy="40.27" r="0.6" fill="#c8d840"/>
<circle cx="19.92" cy="28.00" r="0.6" fill="#d8e040"/>
<circle cx="28.15" cy="37.91" r="0.6" fill="#e0e060"/>
<circle cx="21.22" cy="27.74" r="0.6" fill="#c8d840"/>
<circle cx="23.62" cy="24.68" r="0.6" fill="#c8d840"/>
<circle cx="26.69" cy="27.11" r="0.6" fill="#e0e060"/>
<circle cx="19.81" cy="25.69" r="0.6" fill="#d8e040"/>
<circle cx="26.17" cy="28.43" r="0.6" fill="#e0e060"/>
<circle cx="26.91" cy="31.26" r="0.6" fill="#d8e040"/>
<circle cx="24.16" cy="34.09" r="0.6" fill="#e0e060"/>
<circle cx="17.60" cy="25.05" r="0.6" fill="#e0e060"/>
<circle cx="24.76" cy="32.72" r="0.6" fill="#c8d840"/>
<circle cx="17.92" cy="21.29" r="0.6" fill="#d8e040"/>
<circle cx="26.22" cy="31.53" r="0.6" fill="#d8e040"/>
<circle cx="26.63" cy="32.96" r="0.6" fill="#c8d840"/>
<circle cx="17.11" cy="32.83" r="0.6" fill="#c8d840"/>
<circle cx="16.43" cy="31.71" r="0.6" fill="#e0e060"/>
<circle cx="28.61" cy="35.91" r="0.6" fill="#e0e060"/>
<circle cx="20.23" cy="21.07" r="0.6" fill="#d8e040"/>
<circle cx="18.37" cy="24.27" r="0.6" fill="#e0e060"/>
<circle cx="20.38" cy="36.43" r="0.6" fill="#d8e040"/>
<circle cx="17.89" cy="32.03" r="0.6" fill="#d8e040"/>
<circle cx="20.61" cy="31.49" r="0.6" fill="#d8e040"/>
<circle cx="18.65" cy="29.16" r="0.6" fill="#e0e060"/>
<circle cx="25.24" cy="25.99" r="0.6" fill="#c8d840"/>
<circle cx="17.68" cy="22.36" r="0.6" fill="#c8d840"/>
<circle cx="14.90" cy="18.66" r="0.6" fill="#c8d840"/>
<circle cx="25.66" cy="39.37" r="0.6" fill="#c8d840"/>
<circle cx="15.02" cy="30.55" r="0.6" fill="#d8e040"/>
<circle cx="22.87" cy="33.31" r="0.6" fill="#d8e040"/>
<circle cx="28.14" cy="43.04" r="0.6" fill="#e0e060"/>
<circle cx="27.95" cy="34.45" r="0.6" fill="#d8e040"/>
<circle cx="27.41" cy="26.91" r="0.6" fill="#d8e040"/>
<circle cx="24.47" cy="29.29" r="0.6" fill="#d8e040"/>
<circle cx="25.09" cy="26.87" r="0.6" fill="#c8d840"/>
<circle cx="17.02" cy="27.13" r="0.6" fill="#d8e040"/>
<circle cx="21.99" cy="28.10" r="0.6" fill="#c8d840"/>
<circle cx="22.90" cy="26.94" r="0.6" fill="#c8d840"/>
<circle cx="15.91" cy="28.69" r="0.6" fill="#c8d840"/>
<circle cx="15.17" cy="20.78" r="0.6" fill="#e0e060"/>
<circle cx="29.47" cy="31.89" r="0.6" fill="#e0e060"/>
<circle cx="29.19" cy="35.12" r="0.6" fill="#d8e040"/>
<circle cx="21.15" cy="25.83" r="0.6" fill="#d8e040"/>
<circle cx="23.59" cy="34.36" r="0.6" fill="#d8e040"/>
<circle cx="28.48" cy="40.48" r="0.6" fill="#d8e040"/>
<circle cx="19.82" cy="27.53" r="0.6" fill="#e0e060"/>
<circle cx="18.05" cy="23.26" r="0.6" fill="#d8e040"/>
<circle cx="20.94" cy="37.15" r="0.6" fill="#c8d840"/>
<circle cx="18.66" cy="21.17" r="0.6" fill="#e0e060"/>
<circle cx="23.69" cy="30.05" r="0.6" fill="#c8d840"/>
<circle cx="20.40" cy="27.30" r="0.6" fill="#c8d840"/>
<circle cx="26.87" cy="37.90" r="0.6" fill="#e0e060"/>
<circle cx="17.19" cy="29.94" r="0.6" fill="#e0e060"/>
<circle cx="29.27" cy="32.69" r="0.6" fill="#c8d840"/>
<circle cx="18.53" cy="23.77" r="0.6" fill="#e0e060"/>
<circle cx="23.45" cy="26.24" r="0.6" fill="#d8e040"/>
<circle cx="16.19" cy="31.93" r="0.6" fill="#e0e060"/>
<circle cx="20.68" cy="28.44" r="0.6" fill="#e0e060"/>
<circle cx="16.15" cy="25.25" r="0.6" fill="#e0e060"/>
<circle cx="28.05" cy="39.93" r="0.6" fill="#e0e060"/>
<circle cx="14.68" cy="26.62" r="0.6" fill="#e0e060"/>
<circle cx="19.09" cy="31.90" r="0.6" fill="#c8d840"/>
<circle cx="16.33" cy="31.52" r="0.6" fill="#c8d840"/>
<circle cx="25.75" cy="28.47" r="0.6" fill="#c8d840"/>
<circle cx="27.22" cy="42.13" r="0.6" fill="#d8e040"/>
<circle cx="15.56" cy="21.83" r="0.6" fill="#c8d840"/>
<circle cx="17.78" cy="33.69" r="0.6" fill="#e0e060"/>
<circle cx="17.47" cy="27.69" r="0.6" fill="#c8d840"/>
<circle cx="18.21" cy="22.82" r="0.6" fill="#d8e040"/>
<circle cx="26.11" cy="35.27" r="0.6" fill="#d8e040"/>
<circle cx="15.66" cy="31.61" r="0.6" fill="#c8d840"/>
<circle cx="23.62" cy="27.95" r="0.6" fill="#d8e040"/>
<circle cx="16.31" cy="22.24" r="0.6" fill="#d8e040"/>
<circle cx="22.72" cy="36.29" r="0.6" fill="#d8e040"/>
<circle cx="26.50" cy="33.56" r="0.6" fill="#c8d840"/>
<circle cx="15.77" cy="27.84" r="0.6" fill="#e0e060"/>
<circle cx="15.67" cy="30.45" r="0.6" fill="#e0e060"/>
<circle cx="19.18" cy="28.72" r="0.6" fill="#d8e040"/>
<circle cx="24.01" cy="30.84" r="0.6" fill="#e0e060"/>
<circle cx="22.35" cy="25.79" r="0.6" fill="#e0e060"/>
<circle cx="22.84" cy="29.59" r="0.6" fill="#e0e060"/>
<circle cx="23.32" cy="29.84" r="0.6" fill="#e0e060"/>
<circle cx="23.30" cy="25.23" r="0.6" fill="#c8d840"/>
<circle cx="23.26" cy="39.12" r="0.6" fill="#d8e040"/>
<circle cx="24.08" cy="27.27" r="0.6" fill="#d8e040"/>
<circle cx="20.12" cy="31.99" r="0.6" fill="#c8d840"/>
<circle cx="24.88" cy="25.03" r="0.6" fill="#c8d840"/>
<circle cx="21.43" cy="30.52" r="0.6" fill="#c8d840"/>
<circle cx="23.45" cy="29.68" r="0.6" fill="#c8d840"/>
<circle cx="27.50" cy="35.05" r="0.6" fill="#e0e060"/>
<circle cx="16.63" cy="28.01" r="0.6" fill="#d8e040"/>
<circle cx="15.04" cy="21.67" r="0.6" fill="#c8d840"/>
<circle cx="19.48" cy="35.16" r="0.6" fill="#c8d840"/>
<circle cx="20.45" cy="27.77" r="0.6" fill="#c8d840"/>
<circle cx="30.36" cy="39.01" r="0.6" fill="#e0e060"/>
<circle cx="20.68" cy="27.73" r="0.6" fill="#e0e060"/>
<circle cx="27.73" cy="40.59" r="0.6" fill="#d8e040"/>
<circle cx="21.54" cy="29.79" r="0.6" fill="#d8e040"/>
<circle cx="16.45" cy="30.07" r="0.6" fill="#c8d840"/>
<circle cx="26.54" cy="30.53" r="0.6" fill="#e0e060"/>
<circle cx="15.21" cy="21.87" r="0.6" fill="#d8e040"/>
<circle cx="26.05" cy="25.94" r="0.6" fill="#e0e060"/>
<circle cx="29.76" cy="40.82" r="0.6" fill="#d8e040"/>
<circle cx="17.05" cy="32.87" r="0.6" fill="#d8e040"/>
<circle cx="22.17" cy="33.59" r="0.6" fill="#e0e060"/>
<circle cx="16.11" cy="28.03" r="0.6" fill="#e0e060"/>
<circle cx="22.26" cy="31.97" r="0.6" fill="#d8e040"/>
<circle cx="27.41" cy="30.00" r="0.6" fill="#c8d840"/>
<circle cx="16.24" cy="25.17" r="0.6" fill="#d8e040"/>
<circle cx="22.39" cy="36.57" r="0.6" fill="#d8e040"/>
<circle cx="24.55" cy="36.67" r="0.6" fill="#c8d840"/>
<circle cx="22.19" cy="22.29" r="0.6" fill="#d8e040"/>
<circle cx="16.62" cy="24.53" r="0.6" fill="#e0e060"/>
<circle cx="23.18" cy="34.20" r="0.6" fill="#e0e060"/>
<circle cx="14.29" cy="25.24" r="0.6" fill="#d8e040"/>
<circle cx="20.97" cy="27.34" r="0.6" fill="#c8d840"/>
<circle cx="14.36" cy="20.94" r="0.6" fill="#d8e040"/>
<circle cx="30.09" cy="35.28" r="0.6" fill="#e0e060"/>
<circle cx="26.44" cy="26.43" r="0.6" fill="#d8e040"/>
<circle cx="21.20" cy="22.82" r="0.6" fill="#e0e060"/>
<circle cx="27.72" cy="35.31" r="0.6" fill="#d8e040"/>
<circle cx="14.48" cy="24.55" r="0.6" fill="#d8e040"/>
<circle cx="18.29" cy="21.62" r="0.6" fill="#c8d840"/>
<circle cx="24.14" cy="34.90" r="0.6" fill="#c8d840"/>
<circle cx="29.31" cy="34.07" r="0.6" fill="#e0e060"/>
<circle cx="20.25" cy="28.98" r="0.6" fill="#e0e060"/>
<circle cx="22.79" cy="30.64" r="0.6" fill="#e0e060"/>
<circle cx="28.71" cy="40.35" r="0.6" fill="#d8e040"/>
<circle cx="27.29" cy="38.30" r="0.6" fill="#c8d840"/>
<circle cx="17.10" cy="19.91" r="0.6" fill="#d8e040"/>
<circle cx="16.67" cy="32.55" r="0.6" fill="#c8d840"/>
<circle cx="23.03" cy="34.45" r="0.6" fill="#e0e060"/>
<circle cx="16.64" cy="21.01" r="0.6" fill="#e0e060"/>
<circle cx="25.41" cy="40.06" r="0.6" fill="#c8d840"/>
<circle cx="17.49" cy="22.81" r="0.6" fill="#e0e060"/>
<circle cx="25.44" cy="36.08" r="0.6" fill="#d8e040"/>
<circle cx="27.01" cy="40.14" r="0.6" fill="#d8e040"/>
<circle cx="19.92" cy="33.43" r="0.6" fill="#e0e060"/>
<circle cx="19.61" cy="31.93" r="0.6" fill="#d8e040"/>
<circle cx="17.91" cy="31.88" r="0.6" fill="#e0e060"/>
<circle cx="15.33" cy="23.35" r="0.6" fill="#c8d840"/>
<circle cx="16.92" cy="29.09" r="0.6" fill="#c8d840"/>
<circle cx="28.38" cy="36.41" r="0.6" fill="#d8e040"/>
<circle cx="28.87" cy="41.29" r="0.6" fill="#d8e040"/>
<circle cx="18.04" cy="30.88" r="0.6" fill="#c8d840"/>
<circle cx="23.92" cy="36.19" r="0.6" fill="#c8d840"/>
<circle cx="17.99" cy="21.50" r="0.6" fill="#d8e040"/>
<circle cx="15.61" cy="19.28" r="0.6" fill="#d8e040"/>
<circle cx="22.90" cy="30.28" r="0.6" fill="#c8d840"/>
<ellipse cx="42.7" cy="36.0" rx="10.3" ry="13.85" transform="rotate(33 42.7 36.0)" fill="none" stroke="#111" stroke-width="1.75" stroke-dasharray="3.9 2.05"/>
<line x1="0" y1="0" x2="0" y2="57.00" stroke="#707070" stroke-width="1"/>
<line x1="0" y1="57.00" x2="57.20" y2="57.00" stroke="#707070" stroke-width="1"/>
<line x1="-2" y1="57.00" x2="0" y2="57.00" stroke="#555" stroke-width="0.8"/>
<line x1="-2" y1="39.70" x2="0" y2="39.70" stroke="#555" stroke-width="0.8"/>
<line x1="-2" y1="22.40" x2="0" y2="22.40" stroke="#555" stroke-width="0.8"/>
<line x1="-2" y1="5.10" x2="0" y2="5.10" stroke="#555" stroke-width="0.8"/>
<line x1="0.30" y1="57.00" x2="0.30" y2="58.60" stroke="#555" stroke-width="0.8"/>
<line x1="13.28" y1="57.00" x2="13.28" y2="58.60" stroke="#555" stroke-width="0.8"/>
<line x1="26.25" y1="57.00" x2="26.25" y2="58.60" stroke="#555" stroke-width="0.8"/>
<line x1="39.23" y1="57.00" x2="39.23" y2="58.60" stroke="#555" stroke-width="0.8"/>
<line x1="52.20" y1="57.00" x2="52.20" y2="58.60" stroke="#555" stroke-width="0.8"/>
<path d="M-1,57.0h1M-1,53.5h1M-1,50.1h1M-1,46.6h1M-1,43.2h1M-1,39.7h1M-1,36.2h1M-1,32.8h1M-1,29.3h1M-1,25.9h1M-1,22.4h1M-1,18.9h1M-1,15.5h1M-1,12.0h1M-1,8.6h1M-1,5.1h1M-1,1.6h1M0.3,57.0v1M2.9,57.0v1M5.5,57.0v1M8.1,57.0v1M10.7,57.0v1M13.3,57.0v1M15.9,57.0v1M18.5,57.0v1M21.1,57.0v1M23.7,57.0v1M26.3,57.0v1M28.8,57.0v1M31.4,57.0v1M34.0,57.0v1M36.6,57.0v1M39.2,57.0v1M41.8,57.0v1M44.4,57.0v1M47.0,57.0v1M49.6,57.0v1M52.2,57.0v1M54.8,57.0v1" stroke="#777" stroke-width="0.6"/>
</g>
<text x="146.78" y="363.05" font-size="6.4" text-anchor="start" font-weight="normal" fill="#333" stroke="#333" stroke-width="0.12" textLength="3.22" lengthAdjust="spacingAndGlyphs" >0</text>
<text x="141.94" y="345.75" font-size="6.4" text-anchor="start" font-weight="normal" fill="#333" stroke="#333" stroke-width="0.12" textLength="8.06" lengthAdjust="spacingAndGlyphs" >5.0</text>
<text x="143.55" y="328.45" font-size="6.4" text-anchor="start" font-weight="normal" fill="#333" stroke="#333" stroke-width="0.12" textLength="6.45" lengthAdjust="spacingAndGlyphs" >10</text>
<text x="143.55" y="311.15" font-size="6.4" text-anchor="start" font-weight="normal" fill="#333" stroke="#333" stroke-width="0.12" textLength="6.45" lengthAdjust="spacingAndGlyphs" >15</text>
<text x="152.89" y="370.20" font-size="6.4" text-anchor="start" font-weight="normal" fill="#333" stroke="#333" stroke-width="0.12" textLength="3.22" lengthAdjust="spacingAndGlyphs" >0</text>
<text x="163.44" y="370.20" font-size="6.4" text-anchor="start" font-weight="normal" fill="#333" stroke="#333" stroke-width="0.12" textLength="8.06" lengthAdjust="spacingAndGlyphs" >5.0</text>
<text x="177.23" y="370.20" font-size="6.4" text-anchor="start" font-weight="normal" fill="#333" stroke="#333" stroke-width="0.12" textLength="6.45" lengthAdjust="spacingAndGlyphs" >10</text>
<text x="190.20" y="370.20" font-size="6.4" text-anchor="start" font-weight="normal" fill="#333" stroke="#333" stroke-width="0.12" textLength="6.45" lengthAdjust="spacingAndGlyphs" >15</text>
<text x="203.18" y="370.20" font-size="6.4" text-anchor="start" font-weight="normal" fill="#333" stroke="#333" stroke-width="0.12" textLength="6.45" lengthAdjust="spacingAndGlyphs" >20</text>
<g transform="translate(230.90,304.20)">
<line x1="13.28" y1="0.5" x2="13.28" y2="57.00" stroke="#ececf8" stroke-width="0.6"/>
<line x1="26.25" y1="0.5" x2="26.25" y2="57.00" stroke="#ececf8" stroke-width="0.6"/>
<line x1="39.23" y1="0.5" x2="39.23" y2="57.00" stroke="#ececf8" stroke-width="0.6"/>
<line x1="52.20" y1="0.5" x2="52.20" y2="57.00" stroke="#ececf8" stroke-width="0.6"/>
<line x1="0" y1="39.70" x2="57.30" y2="39.70" stroke="#f0eef4" stroke-width="0.6"/>
<line x1="0" y1="22.40" x2="57.30" y2="22.40" stroke="#f0eef4" stroke-width="0.6"/>
<line x1="0" y1="5.10" x2="57.30" y2="5.10" stroke="#f0eef4" stroke-width="0.6"/>
<path d="M0,-0.2 H57.30" fill="none" stroke="#b0b0b0" stroke-width="1"/>
<path d="M57.30,-0.7 V57.00" fill="none" stroke="#939393" stroke-width="1"/>
<g filter="url(#tex)" opacity="0.85">
<path d="M4.05,12.90 C4.77,11.97 6.34,11.98 7.80,12.30 C9.26,12.62 11.23,13.87 12.80,14.80 C14.37,15.73 15.88,16.90 17.20,17.90 C18.52,18.90 20.38,19.86 20.70,20.80 C21.02,21.74 20.10,22.78 19.10,23.55 C18.10,24.32 15.85,24.36 14.70,25.40 C13.55,26.44 12.93,28.33 12.20,29.80 C11.47,31.27 11.03,33.27 10.30,34.20 C9.57,35.13 8.53,35.82 7.80,35.40 C7.07,34.98 6.51,33.47 5.95,31.70 C5.39,29.93 4.87,27.10 4.45,24.80 C4.03,22.50 3.52,19.88 3.45,17.90 C3.38,15.92 3.32,13.83 4.05,12.90Z" fill="#8cc040" stroke="#8cc040" stroke-width="1.3" stroke-opacity="0.35"/>
<path d="M31.80,42.40 C31.80,43.61 31.54,45.06 31.15,46.04 C30.76,47.03 30.08,47.92 29.45,48.30 C28.82,48.67 27.98,48.67 27.35,48.30 C26.72,47.92 26.04,47.03 25.65,46.04 C25.26,45.06 25.00,43.61 25.00,42.40 C25.00,41.19 25.26,39.74 25.65,38.76 C26.04,37.77 26.72,36.88 27.35,36.50 C27.98,36.13 28.82,36.13 29.45,36.50 C30.08,36.88 30.76,37.77 31.15,38.76 C31.54,39.74 31.80,41.19 31.80,42.40Z" fill="#b8d020" stroke="#b8d020" stroke-width="1.3" stroke-opacity="0.35"/>
<path d="M41.00,9.00 C41.42,8.67 42.42,9.67 42.50,10.50 C42.58,11.33 42.25,12.58 41.50,14.00 C40.75,15.42 39.42,17.42 38.00,19.00 C36.58,20.58 34.33,22.42 33.00,23.50 C31.67,24.58 30.67,25.33 30.00,25.50 C29.33,25.67 28.58,25.25 29.00,24.50 C29.42,23.75 31.17,22.25 32.50,21.00 C33.83,19.75 35.75,18.42 37.00,17.00 C38.25,15.58 39.33,13.83 40.00,12.50 C40.67,11.17 40.58,9.33 41.00,9.00Z" fill="url(#lg26)" stroke="url(#lg26)" stroke-width="1.3" stroke-opacity="0.35"/>
<path d="M39.00,23.50 C40.42,22.83 43.25,22.42 45.00,22.50 C46.75,22.58 48.42,22.92 49.50,24.00 C50.58,25.08 51.28,26.92 51.50,29.00 C51.72,31.08 51.30,34.28 50.80,36.50 C50.30,38.72 49.47,40.88 48.50,42.30 C47.53,43.72 46.25,44.58 45.00,45.00 C43.75,45.42 42.08,45.30 41.00,44.80 C39.92,44.30 39.42,42.88 38.50,42.00 C37.58,41.12 36.33,40.50 35.50,39.50 C34.67,38.50 33.67,37.42 33.50,36.00 C33.33,34.58 34.00,32.58 34.50,31.00 C35.00,29.42 35.75,27.75 36.50,26.50 C37.25,25.25 37.58,24.17 39.00,23.50Z" fill="#a8c830" stroke="#a8c830" stroke-width="1.3" stroke-opacity="0.35"/>
</g>
<path d="M15.00,21.00 C15.92,20.33 19.00,21.17 21.00,22.00 C23.00,22.83 25.33,24.50 27.00,26.00 C28.67,27.50 30.00,29.00 31.00,31.00 C32.00,33.00 32.83,35.50 33.00,38.00 C33.17,40.50 32.83,44.00 32.00,46.00 C31.17,48.00 29.33,49.83 28.00,50.00 C26.67,50.17 25.17,48.67 24.00,47.00 C22.83,45.33 22.00,42.50 21.00,40.00 C20.00,37.50 18.92,34.33 18.00,32.00 C17.08,29.67 16.00,27.83 15.50,26.00 C15.00,24.17 14.08,21.67 15.00,21.00Z" fill="#c8d840" opacity="0.16" filter="url(#soft)"/>
<circle cx="24.18" cy="38.31" r="0.55" fill="#b8d040"/>
<circle cx="21.60" cy="27.39" r="0.55" fill="#c8d840"/>
<circle cx="32.47" cy="37.18" r="0.55" fill="#b8d040"/>
<circle cx="28.08" cy="48.36" r="0.55" fill="#b8d040"/>
<circle cx="26.15" cy="36.18" r="0.55" fill="#b8d040"/>
<circle cx="22.86" cy="25.28" r="0.55" fill="#b8d040"/>
<circle cx="21.89" cy="34.21" r="0.55" fill="#c8d840"/>
<circle cx="22.46" cy="29.69" r="0.55" fill="#b8d040"/>
<circle cx="19.06" cy="31.46" r="0.55" fill="#c8d840"/>
<circle cx="23.66" cy="30.68" r="0.55" fill="#c8d840"/>
<circle cx="26.35" cy="44.37" r="0.55" fill="#c8d840"/>
<circle cx="28.98" cy="48.63" r="0.55" fill="#c8d840"/>
<circle cx="28.29" cy="28.28" r="0.55" fill="#c8d840"/>
<circle cx="30.35" cy="32.62" r="0.55" fill="#c8d840"/>
<circle cx="27.68" cy="31.58" r="0.55" fill="#b8d040"/>
<circle cx="28.42" cy="32.58" r="0.55" fill="#b8d040"/>
<circle cx="30.77" cy="35.55" r="0.55" fill="#b8d040"/>
<circle cx="26.43" cy="25.96" r="0.55" fill="#c8d840"/>
<circle cx="23.75" cy="26.21" r="0.55" fill="#c8d840"/>
<circle cx="24.09" cy="31.25" r="0.55" fill="#c8d840"/>
<circle cx="29.50" cy="32.77" r="0.55" fill="#b8d040"/>
<circle cx="24.44" cy="40.32" r="0.55" fill="#c8d840"/>
<circle cx="23.10" cy="29.38" r="0.55" fill="#c8d840"/>
<circle cx="25.17" cy="47.73" r="0.55" fill="#c8d840"/>
<circle cx="28.30" cy="49.27" r="0.55" fill="#c8d840"/>
<circle cx="27.94" cy="31.72" r="0.55" fill="#c8d840"/>
<circle cx="25.96" cy="36.10" r="0.55" fill="#b8d040"/>
<circle cx="23.06" cy="44.24" r="0.55" fill="#b8d040"/>
<circle cx="27.91" cy="43.21" r="0.55" fill="#c8d840"/>
<circle cx="30.66" cy="47.18" r="0.55" fill="#b8d040"/>
<circle cx="22.20" cy="28.79" r="0.55" fill="#c8d840"/>
<circle cx="21.96" cy="31.53" r="0.55" fill="#b8d040"/>
<circle cx="26.90" cy="47.21" r="0.55" fill="#c8d840"/>
<circle cx="23.47" cy="27.63" r="0.55" fill="#b8d040"/>
<circle cx="22.97" cy="27.96" r="0.55" fill="#c8d840"/>
<circle cx="19.36" cy="32.76" r="0.55" fill="#c8d840"/>
<circle cx="32.23" cy="39.94" r="0.55" fill="#c8d840"/>
<circle cx="28.69" cy="32.28" r="0.55" fill="#b8d040"/>
<circle cx="27.57" cy="42.18" r="0.55" fill="#b8d040"/>
<circle cx="22.17" cy="28.18" r="0.55" fill="#b8d040"/>
<circle cx="29.23" cy="36.29" r="0.55" fill="#c8d840"/>
<circle cx="26.16" cy="36.90" r="0.55" fill="#b8d040"/>
<circle cx="31.97" cy="36.92" r="0.55" fill="#b8d040"/>
<circle cx="20.60" cy="26.08" r="0.55" fill="#b8d040"/>
<circle cx="28.79" cy="31.94" r="0.55" fill="#b8d040"/>
<circle cx="28.92" cy="48.27" r="0.55" fill="#b8d040"/>
<circle cx="20.52" cy="23.87" r="0.55" fill="#b8d040"/>
<circle cx="19.20" cy="30.47" r="0.55" fill="#b8d040"/>
<circle cx="30.47" cy="45.45" r="0.55" fill="#c8d840"/>
<circle cx="22.40" cy="38.75" r="0.55" fill="#b8d040"/>
<circle cx="27.28" cy="45.99" r="0.55" fill="#c8d840"/>
<circle cx="21.90" cy="40.18" r="0.55" fill="#b8d040"/>
<circle cx="26.55" cy="29.46" r="0.55" fill="#b8d040"/>
<circle cx="17.09" cy="28.95" r="0.55" fill="#b8d040"/>
<circle cx="31.55" cy="34.30" r="0.55" fill="#b8d040"/>
<circle cx="29.70" cy="42.45" r="0.55" fill="#b8d040"/>
<circle cx="29.02" cy="46.28" r="0.55" fill="#c8d840"/>
<circle cx="19.34" cy="26.42" r="0.55" fill="#c8d840"/>
<circle cx="20.23" cy="32.04" r="0.55" fill="#c8d840"/>
<circle cx="25.81" cy="45.56" r="0.55" fill="#b8d040"/>
<circle cx="17.16" cy="23.18" r="0.55" fill="#b8d040"/>
<circle cx="26.84" cy="27.51" r="0.55" fill="#c8d840"/>
<circle cx="28.53" cy="37.62" r="0.55" fill="#c8d840"/>
<circle cx="26.17" cy="35.03" r="0.55" fill="#c8d840"/>
<circle cx="20.80" cy="28.89" r="0.55" fill="#b8d040"/>
<circle cx="16.78" cy="24.43" r="0.55" fill="#c8d840"/>
<circle cx="29.07" cy="35.21" r="0.55" fill="#b8d040"/>
<circle cx="25.93" cy="42.80" r="0.55" fill="#b8d040"/>
<circle cx="30.35" cy="31.51" r="0.55" fill="#b8d040"/>
<circle cx="20.81" cy="35.09" r="0.55" fill="#c8d840"/>
<circle cx="26.25" cy="44.60" r="0.55" fill="#c8d840"/>
<circle cx="23.84" cy="33.71" r="0.55" fill="#b8d040"/>
<circle cx="22.17" cy="24.33" r="0.55" fill="#c8d840"/>
<circle cx="24.07" cy="29.54" r="0.55" fill="#c8d840"/>
<circle cx="24.53" cy="36.63" r="0.55" fill="#c8d840"/>
<circle cx="20.15" cy="22.48" r="0.55" fill="#c8d840"/>
<circle cx="19.39" cy="23.31" r="0.55" fill="#b8d040"/>
<circle cx="25.70" cy="32.63" r="0.55" fill="#b8d040"/>
<circle cx="29.52" cy="36.68" r="0.55" fill="#b8d040"/>
<circle cx="28.22" cy="29.84" r="0.55" fill="#c8d840"/>
<circle cx="26.07" cy="28.35" r="0.55" fill="#b8d040"/>
<circle cx="25.82" cy="36.07" r="0.55" fill="#c8d840"/>
<circle cx="29.56" cy="46.74" r="0.55" fill="#b8d040"/>
<circle cx="22.21" cy="40.45" r="0.55" fill="#b8d040"/>
<circle cx="31.45" cy="45.26" r="0.55" fill="#b8d040"/>
<circle cx="23.47" cy="37.29" r="0.55" fill="#b8d040"/>
<circle cx="22.48" cy="27.92" r="0.55" fill="#b8d040"/>
<circle cx="28.04" cy="29.97" r="0.55" fill="#c8d840"/>
<circle cx="27.69" cy="40.76" r="0.55" fill="#c8d840"/>
<circle cx="24.64" cy="35.12" r="0.55" fill="#c8d840"/>
<circle cx="26.03" cy="42.72" r="0.55" fill="#c8d840"/>
<circle cx="28.57" cy="34.31" r="0.55" fill="#b8d040"/>
<circle cx="18.95" cy="29.07" r="0.55" fill="#b8d040"/>
<circle cx="22.76" cy="29.82" r="0.55" fill="#b8d040"/>
<circle cx="26.08" cy="31.71" r="0.55" fill="#c8d840"/>
<circle cx="23.02" cy="39.44" r="0.55" fill="#c8d840"/>
<circle cx="24.39" cy="30.99" r="0.55" fill="#b8d040"/>
<circle cx="28.25" cy="38.93" r="0.55" fill="#b8d040"/>
<circle cx="17.86" cy="25.29" r="0.55" fill="#c8d840"/>
<circle cx="25.78" cy="39.43" r="0.55" fill="#b8d040"/>
<circle cx="25.11" cy="40.82" r="0.55" fill="#c8d840"/>
<circle cx="24.54" cy="36.11" r="0.55" fill="#c8d840"/>
<circle cx="28.62" cy="45.95" r="0.55" fill="#b8d040"/>
<circle cx="22.52" cy="35.17" r="0.55" fill="#c8d840"/>
<circle cx="30.91" cy="42.04" r="0.55" fill="#c8d840"/>
<circle cx="22.50" cy="25.74" r="0.55" fill="#b8d040"/>
<circle cx="26.25" cy="41.17" r="0.55" fill="#c8d840"/>
<circle cx="26.12" cy="39.05" r="0.55" fill="#b8d040"/>
<circle cx="26.64" cy="36.15" r="0.55" fill="#b8d040"/>
<circle cx="26.92" cy="47.28" r="0.55" fill="#b8d040"/>
<circle cx="21.49" cy="28.11" r="0.55" fill="#c8d840"/>
<circle cx="19.14" cy="34.25" r="0.55" fill="#b8d040"/>
<circle cx="24.34" cy="41.23" r="0.55" fill="#c8d840"/>
<circle cx="31.94" cy="43.58" r="0.55" fill="#b8d040"/>
<circle cx="28.80" cy="44.18" r="0.55" fill="#b8d040"/>
<circle cx="28.28" cy="33.88" r="0.55" fill="#b8d040"/>
<circle cx="24.03" cy="42.22" r="0.55" fill="#b8d040"/>
<circle cx="26.86" cy="43.80" r="0.55" fill="#b8d040"/>
<circle cx="17.80" cy="29.77" r="0.55" fill="#c8d840"/>
<circle cx="22.47" cy="36.05" r="0.55" fill="#b8d040"/>
<path d="M32.50,31.00 C33.33,29.83 36.08,29.17 37.00,30.00 C37.92,30.83 37.92,33.92 38.00,36.00 C38.08,38.08 38.17,41.50 37.50,42.50 C36.83,43.50 34.92,42.92 34.00,42.00 C33.08,41.08 32.25,38.83 32.00,37.00 C31.75,35.17 31.67,32.17 32.50,31.00Z" fill="#b8d040" opacity="0.16" filter="url(#soft)"/>
<circle cx="34.43" cy="33.73" r="0.55" fill="#b8d040"/>
<circle cx="36.62" cy="38.84" r="0.55" fill="#a8c840"/>
<circle cx="36.08" cy="37.66" r="0.55" fill="#b8d040"/>
<circle cx="33.68" cy="35.85" r="0.55" fill="#b8d040"/>
<circle cx="36.34" cy="33.21" r="0.55" fill="#b8d040"/>
<circle cx="35.32" cy="33.29" r="0.55" fill="#b8d040"/>
<circle cx="36.35" cy="37.73" r="0.55" fill="#b8d040"/>
<circle cx="32.65" cy="32.68" r="0.55" fill="#a8c840"/>
<circle cx="37.84" cy="36.20" r="0.55" fill="#a8c840"/>
<circle cx="36.92" cy="37.13" r="0.55" fill="#b8d040"/>
<circle cx="35.18" cy="35.17" r="0.55" fill="#a8c840"/>
<circle cx="32.70" cy="32.58" r="0.55" fill="#a8c840"/>
<circle cx="34.82" cy="38.18" r="0.55" fill="#b8d040"/>
<circle cx="35.33" cy="35.06" r="0.55" fill="#a8c840"/>
<circle cx="35.97" cy="37.58" r="0.55" fill="#a8c840"/>
<circle cx="36.80" cy="38.94" r="0.55" fill="#b8d040"/>
<circle cx="33.05" cy="34.70" r="0.55" fill="#b8d040"/>
<circle cx="37.26" cy="41.55" r="0.55" fill="#b8d040"/>
<circle cx="33.13" cy="39.70" r="0.55" fill="#b8d040"/>
<circle cx="36.86" cy="30.91" r="0.55" fill="#a8c840"/>
<circle cx="32.99" cy="36.86" r="0.55" fill="#a8c840"/>
<circle cx="36.12" cy="35.45" r="0.55" fill="#b8d040"/>
<circle cx="35.11" cy="33.84" r="0.55" fill="#a8c840"/>
<circle cx="32.77" cy="36.56" r="0.55" fill="#a8c840"/>
<circle cx="33.87" cy="40.09" r="0.55" fill="#b8d040"/>
<circle cx="37.25" cy="33.72" r="0.55" fill="#b8d040"/>
<circle cx="36.36" cy="40.26" r="0.55" fill="#b8d040"/>
<circle cx="37.58" cy="39.39" r="0.55" fill="#b8d040"/>
<circle cx="36.07" cy="33.12" r="0.55" fill="#b8d040"/>
<circle cx="35.16" cy="38.13" r="0.55" fill="#b8d040"/>
<ellipse cx="41.7" cy="35.0" rx="10.3" ry="13.85" transform="rotate(33 41.7 35.0)" fill="none" stroke="#111" stroke-width="1.75" stroke-dasharray="3.9 2.05"/>
<line x1="0" y1="0" x2="0" y2="57.00" stroke="#707070" stroke-width="1"/>
<line x1="0" y1="57.00" x2="57.30" y2="57.00" stroke="#707070" stroke-width="1"/>
<line x1="-2" y1="57.00" x2="0" y2="57.00" stroke="#555" stroke-width="0.8"/>
<line x1="-2" y1="39.70" x2="0" y2="39.70" stroke="#555" stroke-width="0.8"/>
<line x1="-2" y1="22.40" x2="0" y2="22.40" stroke="#555" stroke-width="0.8"/>
<line x1="-2" y1="5.10" x2="0" y2="5.10" stroke="#555" stroke-width="0.8"/>
<line x1="0.30" y1="57.00" x2="0.30" y2="58.60" stroke="#555" stroke-width="0.8"/>
<line x1="13.28" y1="57.00" x2="13.28" y2="58.60" stroke="#555" stroke-width="0.8"/>
<line x1="26.25" y1="57.00" x2="26.25" y2="58.60" stroke="#555" stroke-width="0.8"/>
<line x1="39.23" y1="57.00" x2="39.23" y2="58.60" stroke="#555" stroke-width="0.8"/>
<line x1="52.20" y1="57.00" x2="52.20" y2="58.60" stroke="#555" stroke-width="0.8"/>
<path d="M-1,57.0h1M-1,53.5h1M-1,50.1h1M-1,46.6h1M-1,43.2h1M-1,39.7h1M-1,36.2h1M-1,32.8h1M-1,29.3h1M-1,25.9h1M-1,22.4h1M-1,18.9h1M-1,15.5h1M-1,12.0h1M-1,8.6h1M-1,5.1h1M-1,1.6h1M0.3,57.0v1M2.9,57.0v1M5.5,57.0v1M8.1,57.0v1M10.7,57.0v1M13.3,57.0v1M15.9,57.0v1M18.5,57.0v1M21.1,57.0v1M23.7,57.0v1M26.3,57.0v1M28.8,57.0v1M31.4,57.0v1M34.0,57.0v1M36.6,57.0v1M39.2,57.0v1M41.8,57.0v1M44.4,57.0v1M47.0,57.0v1M49.6,57.0v1M52.2,57.0v1M54.8,57.0v1" stroke="#777" stroke-width="0.6"/>
</g>
<text x="223.48" y="363.05" font-size="6.4" text-anchor="start" font-weight="normal" fill="#333" stroke="#333" stroke-width="0.12" textLength="3.22" lengthAdjust="spacingAndGlyphs" >0</text>
<text x="218.64" y="345.75" font-size="6.4" text-anchor="start" font-weight="normal" fill="#333" stroke="#333" stroke-width="0.12" textLength="8.06" lengthAdjust="spacingAndGlyphs" >5.0</text>
<text x="220.25" y="328.45" font-size="6.4" text-anchor="start" font-weight="normal" fill="#333" stroke="#333" stroke-width="0.12" textLength="6.45" lengthAdjust="spacingAndGlyphs" >10</text>
<text x="220.25" y="311.15" font-size="6.4" text-anchor="start" font-weight="normal" fill="#333" stroke="#333" stroke-width="0.12" textLength="6.45" lengthAdjust="spacingAndGlyphs" >15</text>
<text x="229.59" y="370.20" font-size="6.4" text-anchor="start" font-weight="normal" fill="#333" stroke="#333" stroke-width="0.12" textLength="3.22" lengthAdjust="spacingAndGlyphs" >0</text>
<text x="240.14" y="370.20" font-size="6.4" text-anchor="start" font-weight="normal" fill="#333" stroke="#333" stroke-width="0.12" textLength="8.06" lengthAdjust="spacingAndGlyphs" >5.0</text>
<text x="253.93" y="370.20" font-size="6.4" text-anchor="start" font-weight="normal" fill="#333" stroke="#333" stroke-width="0.12" textLength="6.45" lengthAdjust="spacingAndGlyphs" >10</text>
<text x="266.90" y="370.20" font-size="6.4" text-anchor="start" font-weight="normal" fill="#333" stroke="#333" stroke-width="0.12" textLength="6.45" lengthAdjust="spacingAndGlyphs" >15</text>
<text x="279.88" y="370.20" font-size="6.4" text-anchor="start" font-weight="normal" fill="#333" stroke="#333" stroke-width="0.12" textLength="6.45" lengthAdjust="spacingAndGlyphs" >20</text>
<g transform="translate(80.20,377.40)">
<line x1="13.28" y1="0.5" x2="13.28" y2="57.00" stroke="#ececf8" stroke-width="0.6"/>
<line x1="26.25" y1="0.5" x2="26.25" y2="57.00" stroke="#ececf8" stroke-width="0.6"/>
<line x1="39.23" y1="0.5" x2="39.23" y2="57.00" stroke="#ececf8" stroke-width="0.6"/>
<line x1="52.20" y1="0.5" x2="52.20" y2="57.00" stroke="#ececf8" stroke-width="0.6"/>
<line x1="0" y1="39.70" x2="57.20" y2="39.70" stroke="#f0eef4" stroke-width="0.6"/>
<line x1="0" y1="22.40" x2="57.20" y2="22.40" stroke="#f0eef4" stroke-width="0.6"/>
<line x1="0" y1="5.10" x2="57.20" y2="5.10" stroke="#f0eef4" stroke-width="0.6"/>
<path d="M0,-0.2 H57.20" fill="none" stroke="#b0b0b0" stroke-width="1"/>
<path d="M57.20,-0.7 V57.00" fill="none" stroke="#939393" stroke-width="1"/>
<g filter="url(#tex)" opacity="0.85">
<path d="M3.00,18.80 C3.25,17.47 3.96,16.87 4.90,16.30 C5.84,15.73 7.30,15.40 8.65,15.40 C10.00,15.40 11.64,15.73 13.00,16.30 C14.36,16.87 15.55,17.87 16.80,18.80 C18.05,19.73 19.25,20.87 20.50,21.90 C21.75,22.93 23.05,23.95 24.30,25.00 C25.55,26.05 26.97,27.05 28.00,28.20 C29.03,29.35 29.97,30.77 30.50,31.90 C31.03,33.03 31.37,33.90 31.20,35.00 C31.03,36.10 30.23,37.77 29.50,38.50 C28.77,39.23 27.57,39.22 26.80,39.40 C26.03,39.58 25.73,39.83 24.90,39.60 C24.07,39.37 22.84,38.55 21.80,38.00 C20.76,37.45 19.78,36.80 18.65,36.30 C17.52,35.80 16.11,35.38 15.00,35.00 C13.89,34.62 13.12,34.45 12.00,34.00 C10.88,33.55 9.40,33.20 8.30,32.30 C7.20,31.40 6.22,29.93 5.40,28.60 C4.58,27.27 3.80,25.93 3.40,24.30 C3.00,22.67 2.75,20.13 3.00,18.80Z" fill="url(#lg27)" stroke="url(#lg27)" stroke-width="1.3" stroke-opacity="0.35"/>
<path d="M11.50,29.00 C12.10,28.83 12.40,29.42 12.40,30.00 C12.40,30.58 11.98,31.67 11.50,32.50 C11.02,33.33 10.08,34.72 9.50,35.00 C8.92,35.28 8.12,34.87 8.00,34.20 C7.88,33.53 8.22,31.87 8.80,31.00 C9.38,30.13 10.90,29.17 11.50,29.00Z" fill="#98c040" stroke="#98c040" stroke-width="1.3" stroke-opacity="0.35"/>
<path d="M30.50,28.20 C30.98,28.52 31.68,30.45 31.80,31.90 C31.92,33.35 31.27,35.23 31.20,36.90 C31.13,38.57 31.52,40.13 31.40,41.90 C31.28,43.67 31.07,46.35 30.50,47.50 C29.93,48.65 28.68,49.11 28.00,48.80 C27.32,48.49 26.72,47.22 26.40,45.65 C26.08,44.08 25.83,41.27 26.10,39.40 C26.37,37.52 27.53,35.97 28.00,34.40 C28.47,32.83 28.48,31.03 28.90,30.00 C29.32,28.97 30.02,27.88 30.50,28.20Z" fill="#98c038" stroke="#98c038" stroke-width="1.3" stroke-opacity="0.35"/>
<path d="M22.30,45.80 C22.30,46.35 21.93,47.17 21.55,47.45 C21.18,47.72 20.43,47.72 20.05,47.45 C19.68,47.17 19.30,46.35 19.30,45.80 C19.30,45.25 19.68,44.43 20.05,44.15 C20.43,43.88 21.18,43.88 21.55,44.15 C21.93,44.43 22.30,45.25 22.30,45.80Z" fill="#a0c840" stroke="#a0c840" stroke-width="1.3" stroke-opacity="0.35"/>
<path d="M22.40,50.80 C22.40,51.44 21.95,52.39 21.50,52.71 C21.05,53.02 20.15,53.02 19.70,52.71 C19.25,52.39 18.80,51.44 18.80,50.80 C18.80,50.16 19.25,49.21 19.70,48.89 C20.15,48.58 21.05,48.58 21.50,48.89 C21.95,49.21 22.40,50.16 22.40,50.80Z" fill="#a0c840" stroke="#a0c840" stroke-width="1.3" stroke-opacity="0.35"/>
<path d="M30.90,5.00 C30.60,3.40 31.43,3.50 32.10,5.00 C32.77,6.50 34.60,12.40 34.90,14.00 C35.20,15.60 34.57,16.10 33.90,14.60 C33.23,13.10 31.20,6.60 30.90,5.00Z" fill="#b8d040" stroke="#b8d040" stroke-width="1.3" stroke-opacity="0.35"/>
<path d="M36.00,16.90 C36.80,16.40 37.80,16.90 38.00,17.50 C38.20,18.10 37.62,19.45 37.20,20.50 C36.78,21.55 36.13,23.28 35.50,23.80 C34.87,24.32 33.78,24.15 33.40,23.60 C33.02,23.05 32.77,21.62 33.20,20.50 C33.63,19.38 35.20,17.40 36.00,16.90Z" fill="#a8cc40" stroke="#a8cc40" stroke-width="1.3" stroke-opacity="0.35"/>
<path d="M30.50,22.50 C30.50,22.90 30.25,23.51 30.00,23.71 C29.75,23.91 29.25,23.91 29.00,23.71 C28.75,23.51 28.50,22.90 28.50,22.50 C28.50,22.10 28.75,21.49 29.00,21.29 C29.25,21.09 29.75,21.09 30.00,21.29 C30.25,21.49 30.50,22.10 30.50,22.50Z" fill="#6080b0" stroke="#6080b0" stroke-width="1.3" stroke-opacity="0.35"/>
</g>
<path d="M34.00,28.50 C35.17,27.17 38.83,27.75 41.00,28.00 C43.17,28.25 45.75,28.83 47.00,30.00 C48.25,31.17 48.50,33.08 48.50,35.00 C48.50,36.92 48.08,40.00 47.00,41.50 C45.92,43.00 43.58,43.92 42.00,44.00 C40.42,44.08 38.83,43.33 37.50,42.00 C36.17,40.67 34.58,38.25 34.00,36.00 C33.42,33.75 32.83,29.83 34.00,28.50Z" fill="#c8d840" opacity="0.16" filter="url(#soft)"/>
<circle cx="41.54" cy="32.37" r="0.55" fill="#d0e060"/>
<circle cx="43.57" cy="35.04" r="0.55" fill="#b8d040"/>
<circle cx="34.32" cy="31.84" r="0.55" fill="#b8d040"/>
<circle cx="37.22" cy="33.43" r="0.55" fill="#d0e060"/>
<circle cx="46.81" cy="39.50" r="0.55" fill="#d0e060"/>
<circle cx="43.91" cy="38.45" r="0.55" fill="#c8d840"/>
<circle cx="36.12" cy="38.47" r="0.55" fill="#b8d040"/>
<circle cx="46.53" cy="33.45" r="0.55" fill="#d0e060"/>
<circle cx="39.44" cy="40.89" r="0.55" fill="#c8d840"/>
<circle cx="43.62" cy="36.76" r="0.55" fill="#d0e060"/>
<circle cx="41.60" cy="38.18" r="0.55" fill="#c8d840"/>
<circle cx="35.68" cy="30.48" r="0.55" fill="#c8d840"/>
<circle cx="45.43" cy="40.99" r="0.55" fill="#b8d040"/>
<circle cx="35.50" cy="34.99" r="0.55" fill="#b8d040"/>
<circle cx="45.93" cy="33.85" r="0.55" fill="#d0e060"/>
<circle cx="45.45" cy="30.47" r="0.55" fill="#c8d840"/>
<circle cx="37.72" cy="36.99" r="0.55" fill="#b8d040"/>
<circle cx="36.69" cy="34.99" r="0.55" fill="#b8d040"/>
<circle cx="40.18" cy="40.36" r="0.55" fill="#c8d840"/>
<circle cx="37.15" cy="30.22" r="0.55" fill="#b8d040"/>
<circle cx="45.17" cy="41.00" r="0.55" fill="#d0e060"/>
<circle cx="42.88" cy="31.67" r="0.55" fill="#d0e060"/>
<circle cx="45.37" cy="40.80" r="0.55" fill="#b8d040"/>
<circle cx="34.58" cy="33.67" r="0.55" fill="#c8d840"/>
<circle cx="38.66" cy="35.42" r="0.55" fill="#c8d840"/>
<circle cx="42.45" cy="29.98" r="0.55" fill="#c8d840"/>
<circle cx="39.24" cy="32.46" r="0.55" fill="#b8d040"/>
<circle cx="40.84" cy="30.87" r="0.55" fill="#c8d840"/>
<circle cx="39.76" cy="41.40" r="0.55" fill="#b8d040"/>
<circle cx="46.49" cy="30.56" r="0.55" fill="#b8d040"/>
<circle cx="35.02" cy="34.26" r="0.55" fill="#c8d840"/>
<circle cx="38.21" cy="32.78" r="0.55" fill="#c8d840"/>
<circle cx="46.69" cy="38.35" r="0.55" fill="#c8d840"/>
<circle cx="40.07" cy="34.94" r="0.55" fill="#b8d040"/>
<circle cx="40.48" cy="42.71" r="0.55" fill="#b8d040"/>
<circle cx="42.45" cy="31.27" r="0.55" fill="#b8d040"/>
<circle cx="45.68" cy="39.21" r="0.55" fill="#c8d840"/>
<circle cx="37.08" cy="39.90" r="0.55" fill="#d0e060"/>
<circle cx="46.31" cy="40.87" r="0.55" fill="#d0e060"/>
<circle cx="46.13" cy="31.33" r="0.55" fill="#d0e060"/>
<circle cx="46.92" cy="40.92" r="0.55" fill="#c8d840"/>
<circle cx="40.93" cy="31.69" r="0.55" fill="#b8d040"/>
<circle cx="45.59" cy="32.17" r="0.55" fill="#d0e060"/>
<circle cx="40.48" cy="32.72" r="0.55" fill="#b8d040"/>
<circle cx="46.21" cy="35.55" r="0.55" fill="#c8d840"/>
<circle cx="38.55" cy="40.47" r="0.55" fill="#c8d840"/>
<circle cx="39.35" cy="28.23" r="0.55" fill="#d0e060"/>
<circle cx="35.38" cy="28.90" r="0.55" fill="#c8d840"/>
<circle cx="35.04" cy="36.89" r="0.55" fill="#c8d840"/>
<circle cx="36.83" cy="29.18" r="0.55" fill="#d0e060"/>
<ellipse cx="43.2" cy="35.95" rx="10.3" ry="13.85" transform="rotate(33 43.2 35.95)" fill="none" stroke="#111" stroke-width="1.75" stroke-dasharray="3.9 2.05"/>
<line x1="0" y1="0" x2="0" y2="57.00" stroke="#707070" stroke-width="1"/>
<line x1="0" y1="57.00" x2="57.20" y2="57.00" stroke="#707070" stroke-width="1"/>
<line x1="-2" y1="57.00" x2="0" y2="57.00" stroke="#555" stroke-width="0.8"/>
<line x1="-2" y1="39.70" x2="0" y2="39.70" stroke="#555" stroke-width="0.8"/>
<line x1="-2" y1="22.40" x2="0" y2="22.40" stroke="#555" stroke-width="0.8"/>
<line x1="-2" y1="5.10" x2="0" y2="5.10" stroke="#555" stroke-width="0.8"/>
<line x1="0.30" y1="57.00" x2="0.30" y2="58.60" stroke="#555" stroke-width="0.8"/>
<line x1="13.28" y1="57.00" x2="13.28" y2="58.60" stroke="#555" stroke-width="0.8"/>
<line x1="26.25" y1="57.00" x2="26.25" y2="58.60" stroke="#555" stroke-width="0.8"/>
<line x1="39.23" y1="57.00" x2="39.23" y2="58.60" stroke="#555" stroke-width="0.8"/>
<line x1="52.20" y1="57.00" x2="52.20" y2="58.60" stroke="#555" stroke-width="0.8"/>
<path d="M-1,57.0h1M-1,53.5h1M-1,50.1h1M-1,46.6h1M-1,43.2h1M-1,39.7h1M-1,36.2h1M-1,32.8h1M-1,29.3h1M-1,25.9h1M-1,22.4h1M-1,18.9h1M-1,15.5h1M-1,12.0h1M-1,8.6h1M-1,5.1h1M-1,1.6h1M0.3,57.0v1M2.9,57.0v1M5.5,57.0v1M8.1,57.0v1M10.7,57.0v1M13.3,57.0v1M15.9,57.0v1M18.5,57.0v1M21.1,57.0v1M23.7,57.0v1M26.3,57.0v1M28.8,57.0v1M31.4,57.0v1M34.0,57.0v1M36.6,57.0v1M39.2,57.0v1M41.8,57.0v1M44.4,57.0v1M47.0,57.0v1M49.6,57.0v1M52.2,57.0v1M54.8,57.0v1" stroke="#777" stroke-width="0.6"/>
</g>
<text x="72.78" y="436.25" font-size="6.4" text-anchor="start" font-weight="normal" fill="#333" stroke="#333" stroke-width="0.12" textLength="3.22" lengthAdjust="spacingAndGlyphs" >0</text>
<text x="67.94" y="418.95" font-size="6.4" text-anchor="start" font-weight="normal" fill="#333" stroke="#333" stroke-width="0.12" textLength="8.06" lengthAdjust="spacingAndGlyphs" >5.0</text>
<text x="69.55" y="401.65" font-size="6.4" text-anchor="start" font-weight="normal" fill="#333" stroke="#333" stroke-width="0.12" textLength="6.45" lengthAdjust="spacingAndGlyphs" >10</text>
<text x="69.55" y="384.35" font-size="6.4" text-anchor="start" font-weight="normal" fill="#333" stroke="#333" stroke-width="0.12" textLength="6.45" lengthAdjust="spacingAndGlyphs" >15</text>
<text x="78.89" y="443.40" font-size="6.4" text-anchor="start" font-weight="normal" fill="#333" stroke="#333" stroke-width="0.12" textLength="3.22" lengthAdjust="spacingAndGlyphs" >0</text>
<text x="89.44" y="443.40" font-size="6.4" text-anchor="start" font-weight="normal" fill="#333" stroke="#333" stroke-width="0.12" textLength="8.06" lengthAdjust="spacingAndGlyphs" >5.0</text>
<text x="103.23" y="443.40" font-size="6.4" text-anchor="start" font-weight="normal" fill="#333" stroke="#333" stroke-width="0.12" textLength="6.45" lengthAdjust="spacingAndGlyphs" >10</text>
<text x="116.20" y="443.40" font-size="6.4" text-anchor="start" font-weight="normal" fill="#333" stroke="#333" stroke-width="0.12" textLength="6.45" lengthAdjust="spacingAndGlyphs" >15</text>
<text x="129.18" y="443.40" font-size="6.4" text-anchor="start" font-weight="normal" fill="#333" stroke="#333" stroke-width="0.12" textLength="6.45" lengthAdjust="spacingAndGlyphs" >20</text>
<g transform="translate(154.50,377.30)">
<line x1="13.28" y1="0.5" x2="13.28" y2="57.00" stroke="#ececf8" stroke-width="0.6"/>
<line x1="26.25" y1="0.5" x2="26.25" y2="57.00" stroke="#ececf8" stroke-width="0.6"/>
<line x1="39.23" y1="0.5" x2="39.23" y2="57.00" stroke="#ececf8" stroke-width="0.6"/>
<line x1="52.20" y1="0.5" x2="52.20" y2="57.00" stroke="#ececf8" stroke-width="0.6"/>
<line x1="0" y1="39.70" x2="57.20" y2="39.70" stroke="#f0eef4" stroke-width="0.6"/>
<line x1="0" y1="22.40" x2="57.20" y2="22.40" stroke="#f0eef4" stroke-width="0.6"/>
<line x1="0" y1="5.10" x2="57.20" y2="5.10" stroke="#f0eef4" stroke-width="0.6"/>
<path d="M0,-0.2 H57.20" fill="none" stroke="#b0b0b0" stroke-width="1"/>
<path d="M57.20,-0.7 V57.00" fill="none" stroke="#939393" stroke-width="1"/>
<g filter="url(#tex)" opacity="0.85">
<path d="M3.25,15.95 C3.71,14.74 4.61,14.01 5.75,13.70 C6.89,13.39 8.85,13.62 10.10,14.10 C11.35,14.58 12.10,15.67 13.25,16.60 C14.40,17.53 16.17,18.56 17.00,19.70 C17.83,20.84 18.46,22.30 18.25,23.45 C18.04,24.60 16.58,25.35 15.75,26.60 C14.92,27.85 13.97,29.60 13.25,30.95 C12.53,32.30 12.23,33.98 11.40,34.70 C10.57,35.43 9.19,35.82 8.25,35.30 C7.31,34.78 6.47,33.05 5.75,31.60 C5.03,30.15 4.36,28.38 3.90,26.60 C3.44,24.83 3.11,22.73 3.00,20.95 C2.89,19.17 2.79,17.16 3.25,15.95Z" fill="url(#lg28)" stroke="url(#lg28)" stroke-width="1.3" stroke-opacity="0.35"/>
<path d="M10.50,30.00 C11.38,29.92 12.62,30.33 12.90,31.00 C13.18,31.67 12.68,33.23 12.20,34.00 C11.72,34.77 10.73,35.57 10.00,35.65 C9.27,35.73 8.20,35.19 7.80,34.50 C7.40,33.81 7.15,32.25 7.60,31.50 C8.05,30.75 9.62,30.08 10.50,30.00Z" fill="#98c040" stroke="#98c040" stroke-width="1.3" stroke-opacity="0.35"/>
<path d="M32.20,43.00 C32.20,43.98 31.94,45.15 31.55,45.94 C31.16,46.73 30.48,47.45 29.85,47.76 C29.22,48.06 28.38,48.06 27.75,47.76 C27.12,47.45 26.44,46.73 26.05,45.94 C25.66,45.15 25.40,43.98 25.40,43.00 C25.40,42.02 25.66,40.85 26.05,40.06 C26.44,39.27 27.12,38.55 27.75,38.24 C28.38,37.94 29.22,37.94 29.85,38.24 C30.48,38.55 31.16,39.27 31.55,40.06 C31.94,40.85 32.20,42.02 32.20,43.00Z" fill="#a0c830" stroke="#a0c830" stroke-width="1.3" stroke-opacity="0.35"/>
<path d="M20.60,48.80 C20.73,48.28 21.23,48.28 21.40,48.80 C21.57,49.32 21.73,51.38 21.60,51.90 C21.47,52.42 20.77,52.42 20.60,51.90 C20.43,51.38 20.47,49.32 20.60,48.80Z" fill="#b0c850" stroke="#b0c850" stroke-width="1.3" stroke-opacity="0.35"/>
<path d="M30.40,5.00 C30.07,3.30 30.75,3.20 31.40,4.80 C32.05,6.40 33.97,12.90 34.30,14.60 C34.63,16.30 34.05,16.60 33.40,15.00 C32.75,13.40 30.73,6.70 30.40,5.00Z" fill="#c8d860" stroke="#c8d860" stroke-width="1.3" stroke-opacity="0.35"/>
<path d="M40.50,8.50 C41.02,8.42 42.52,9.25 42.60,10.50 C42.68,11.75 42.10,14.08 41.00,16.00 C39.90,17.92 37.67,20.13 36.00,22.00 C34.33,23.87 32.18,26.53 31.00,27.20 C29.82,27.87 28.73,27.03 28.90,26.00 C29.07,24.97 30.65,22.83 32.00,21.00 C33.35,19.17 35.75,16.67 37.00,15.00 C38.25,13.33 38.92,12.08 39.50,11.00 C40.08,9.92 39.98,8.58 40.50,8.50Z" fill="url(#lg29)" stroke="url(#lg29)" stroke-width="1.3" stroke-opacity="0.35"/>
<path d="M38.00,24.50 C39.33,24.00 42.17,23.83 44.00,24.00 C45.83,24.17 47.88,24.50 49.00,25.50 C50.12,26.50 50.58,28.08 50.75,30.00 C50.92,31.92 50.54,34.92 50.00,37.00 C49.46,39.08 48.50,41.12 47.50,42.50 C46.50,43.88 45.17,44.88 44.00,45.30 C42.83,45.72 41.50,45.55 40.50,45.00 C39.50,44.45 38.92,42.92 38.00,42.00 C37.08,41.08 35.75,40.50 35.00,39.50 C34.25,38.50 33.58,37.42 33.50,36.00 C33.42,34.58 34.08,32.50 34.50,31.00 C34.92,29.50 35.42,28.08 36.00,27.00 C36.58,25.92 36.67,25.00 38.00,24.50Z" fill="#d8e010" stroke="#d8e010" stroke-width="1.3" stroke-opacity="0.35"/>
</g>
<path d="M13.55,17.50 C14.18,15.52 16.68,18.95 18.55,20.00 C20.43,21.05 23.13,22.44 24.80,23.80 C26.47,25.16 27.60,26.45 28.55,28.15 C29.50,29.85 30.18,32.02 30.50,34.00 C30.82,35.98 30.92,38.33 30.50,40.00 C30.08,41.67 28.92,43.67 28.00,44.00 C27.08,44.33 26.00,43.00 25.00,42.00 C24.00,41.00 23.07,39.06 22.00,38.00 C20.93,36.94 19.75,36.67 18.55,35.65 C17.35,34.63 15.63,34.92 14.80,31.90 C13.97,28.88 12.93,19.48 13.55,17.50Z" fill="#98c040" opacity="0.16" filter="url(#soft)"/>
<circle cx="15.03" cy="25.10" r="0.6" fill="#a8c850"/>
<circle cx="25.26" cy="35.60" r="0.6" fill="#a8c850"/>
<circle cx="30.12" cy="37.33" r="0.6" fill="#98c040"/>
<circle cx="22.77" cy="36.65" r="0.6" fill="#a8c850"/>
<circle cx="25.87" cy="38.32" r="0.6" fill="#98c040"/>
<circle cx="24.45" cy="39.11" r="0.6" fill="#b8d060"/>
<circle cx="24.44" cy="39.14" r="0.6" fill="#98c040"/>
<circle cx="25.88" cy="29.55" r="0.6" fill="#a8c850"/>
<circle cx="21.25" cy="32.54" r="0.6" fill="#a8c850"/>
<circle cx="24.19" cy="39.53" r="0.6" fill="#a8c850"/>
<circle cx="14.69" cy="21.16" r="0.6" fill="#a8c850"/>
<circle cx="22.24" cy="27.74" r="0.6" fill="#a8c850"/>
<circle cx="27.31" cy="34.73" r="0.6" fill="#a8c850"/>
<circle cx="14.20" cy="20.12" r="0.6" fill="#a8c850"/>
<circle cx="19.65" cy="29.13" r="0.6" fill="#98c040"/>
<circle cx="23.39" cy="23.43" r="0.6" fill="#a8c850"/>
<circle cx="25.68" cy="36.11" r="0.6" fill="#a8c850"/>
<circle cx="23.77" cy="31.43" r="0.6" fill="#b8d060"/>
<circle cx="27.22" cy="34.12" r="0.6" fill="#98c040"/>
<circle cx="20.57" cy="23.56" r="0.6" fill="#98c040"/>
<circle cx="16.62" cy="26.85" r="0.6" fill="#98c040"/>
<circle cx="27.50" cy="32.41" r="0.6" fill="#a8c850"/>
<circle cx="28.79" cy="34.10" r="0.6" fill="#b8d060"/>
<circle cx="22.57" cy="33.65" r="0.6" fill="#98c040"/>
<circle cx="25.34" cy="24.85" r="0.6" fill="#98c040"/>
<circle cx="29.26" cy="33.24" r="0.6" fill="#b8d060"/>
<circle cx="27.00" cy="27.74" r="0.6" fill="#b8d060"/>
<circle cx="20.58" cy="36.70" r="0.6" fill="#98c040"/>
<circle cx="21.48" cy="23.78" r="0.6" fill="#a8c850"/>
<circle cx="14.87" cy="26.42" r="0.6" fill="#a8c850"/>
<circle cx="14.65" cy="29.95" r="0.6" fill="#98c040"/>
<circle cx="16.15" cy="19.30" r="0.6" fill="#b8d060"/>
<circle cx="15.95" cy="22.98" r="0.6" fill="#98c040"/>
<circle cx="19.35" cy="34.87" r="0.6" fill="#98c040"/>
<circle cx="17.78" cy="27.74" r="0.6" fill="#a8c850"/>
<circle cx="17.04" cy="31.04" r="0.6" fill="#98c040"/>
<circle cx="17.42" cy="34.21" r="0.6" fill="#98c040"/>
<circle cx="27.57" cy="34.03" r="0.6" fill="#a8c850"/>
<circle cx="22.19" cy="30.71" r="0.6" fill="#a8c850"/>
<circle cx="18.83" cy="23.51" r="0.6" fill="#b8d060"/>
<circle cx="27.24" cy="38.07" r="0.6" fill="#a8c850"/>
<circle cx="16.49" cy="20.64" r="0.6" fill="#98c040"/>
<circle cx="18.88" cy="29.27" r="0.6" fill="#a8c850"/>
<circle cx="20.32" cy="21.70" r="0.6" fill="#98c040"/>
<circle cx="18.38" cy="22.04" r="0.6" fill="#a8c850"/>
<circle cx="18.51" cy="30.54" r="0.6" fill="#b8d060"/>
<circle cx="25.41" cy="26.59" r="0.6" fill="#a8c850"/>
<circle cx="15.49" cy="25.17" r="0.6" fill="#b8d060"/>
<circle cx="18.78" cy="22.93" r="0.6" fill="#b8d060"/>
<circle cx="15.12" cy="18.68" r="0.6" fill="#98c040"/>
<circle cx="16.21" cy="22.22" r="0.6" fill="#b8d060"/>
<circle cx="17.13" cy="29.60" r="0.6" fill="#a8c850"/>
<circle cx="28.58" cy="33.85" r="0.6" fill="#a8c850"/>
<circle cx="19.58" cy="36.27" r="0.6" fill="#b8d060"/>
<circle cx="18.32" cy="27.73" r="0.6" fill="#98c040"/>
<circle cx="24.00" cy="23.99" r="0.6" fill="#a8c850"/>
<circle cx="22.88" cy="34.83" r="0.6" fill="#a8c850"/>
<circle cx="29.60" cy="33.88" r="0.6" fill="#a8c850"/>
<circle cx="18.85" cy="25.75" r="0.6" fill="#a8c850"/>
<circle cx="15.44" cy="24.05" r="0.6" fill="#98c040"/>
<circle cx="19.33" cy="20.53" r="0.6" fill="#b8d060"/>
<circle cx="22.06" cy="24.05" r="0.6" fill="#98c040"/>
<circle cx="24.28" cy="26.84" r="0.6" fill="#a8c850"/>
<circle cx="24.65" cy="33.88" r="0.6" fill="#b8d060"/>
<circle cx="18.65" cy="31.74" r="0.6" fill="#b8d060"/>
<circle cx="17.62" cy="24.61" r="0.6" fill="#a8c850"/>
<circle cx="15.18" cy="23.22" r="0.6" fill="#98c040"/>
<circle cx="28.10" cy="38.80" r="0.6" fill="#a8c850"/>
<circle cx="30.42" cy="39.17" r="0.6" fill="#b8d060"/>
<circle cx="18.96" cy="25.56" r="0.6" fill="#a8c850"/>
<circle cx="19.89" cy="30.62" r="0.6" fill="#98c040"/>
<circle cx="21.31" cy="31.99" r="0.6" fill="#a8c850"/>
<circle cx="28.33" cy="31.83" r="0.6" fill="#b8d060"/>
<circle cx="25.98" cy="25.72" r="0.6" fill="#a8c850"/>
<circle cx="26.31" cy="36.74" r="0.6" fill="#b8d060"/>
<circle cx="22.16" cy="34.19" r="0.6" fill="#b8d060"/>
<circle cx="16.42" cy="22.63" r="0.6" fill="#b8d060"/>
<circle cx="24.26" cy="28.53" r="0.6" fill="#98c040"/>
<circle cx="19.29" cy="22.03" r="0.6" fill="#b8d060"/>
<circle cx="24.92" cy="37.65" r="0.6" fill="#a8c850"/>
<circle cx="29.38" cy="40.74" r="0.6" fill="#b8d060"/>
<circle cx="28.10" cy="30.83" r="0.6" fill="#b8d060"/>
<circle cx="28.72" cy="29.07" r="0.6" fill="#b8d060"/>
<circle cx="24.34" cy="29.18" r="0.6" fill="#a8c850"/>
<circle cx="26.03" cy="39.43" r="0.6" fill="#a8c850"/>
<circle cx="23.99" cy="39.78" r="0.6" fill="#98c040"/>
<circle cx="22.80" cy="27.79" r="0.6" fill="#b8d060"/>
<circle cx="24.74" cy="30.88" r="0.6" fill="#98c040"/>
<circle cx="22.93" cy="32.46" r="0.6" fill="#98c040"/>
<circle cx="16.05" cy="19.70" r="0.6" fill="#a8c850"/>
<circle cx="25.59" cy="29.80" r="0.6" fill="#b8d060"/>
<circle cx="20.10" cy="31.59" r="0.6" fill="#b8d060"/>
<circle cx="23.89" cy="28.20" r="0.6" fill="#98c040"/>
<circle cx="17.47" cy="26.89" r="0.6" fill="#b8d060"/>
<circle cx="25.81" cy="28.42" r="0.6" fill="#b8d060"/>
<circle cx="25.08" cy="41.49" r="0.6" fill="#a8c850"/>
<circle cx="27.41" cy="39.15" r="0.6" fill="#a8c850"/>
<circle cx="27.30" cy="26.96" r="0.6" fill="#b8d060"/>
<circle cx="30.14" cy="34.43" r="0.6" fill="#b8d060"/>
<circle cx="20.55" cy="22.99" r="0.6" fill="#a8c850"/>
<circle cx="21.62" cy="24.81" r="0.6" fill="#a8c850"/>
<circle cx="15.10" cy="27.41" r="0.6" fill="#a8c850"/>
<circle cx="28.95" cy="39.35" r="0.6" fill="#a8c850"/>
<circle cx="29.56" cy="36.38" r="0.6" fill="#a8c850"/>
<circle cx="17.11" cy="26.89" r="0.6" fill="#98c040"/>
<circle cx="25.61" cy="35.08" r="0.6" fill="#98c040"/>
<circle cx="27.19" cy="35.20" r="0.6" fill="#a8c850"/>
<circle cx="26.64" cy="30.16" r="0.6" fill="#a8c850"/>
<circle cx="26.33" cy="30.71" r="0.6" fill="#b8d060"/>
<circle cx="15.75" cy="25.16" r="0.6" fill="#98c040"/>
<circle cx="21.30" cy="34.79" r="0.6" fill="#a8c850"/>
<circle cx="24.00" cy="24.38" r="0.6" fill="#b8d060"/>
<circle cx="25.23" cy="37.73" r="0.6" fill="#98c040"/>
<circle cx="18.43" cy="31.43" r="0.6" fill="#98c040"/>
<circle cx="28.58" cy="42.81" r="0.6" fill="#a8c850"/>
<circle cx="20.90" cy="24.07" r="0.6" fill="#98c040"/>
<circle cx="25.09" cy="28.77" r="0.6" fill="#a8c850"/>
<circle cx="23.95" cy="28.08" r="0.6" fill="#a8c850"/>
<circle cx="25.39" cy="36.67" r="0.6" fill="#a8c850"/>
<circle cx="17.96" cy="29.99" r="0.6" fill="#b8d060"/>
<circle cx="23.03" cy="27.69" r="0.6" fill="#98c040"/>
<circle cx="28.55" cy="42.74" r="0.6" fill="#b8d060"/>
<circle cx="22.55" cy="37.04" r="0.6" fill="#98c040"/>
<circle cx="16.75" cy="20.03" r="0.6" fill="#a8c850"/>
<circle cx="24.60" cy="30.58" r="0.6" fill="#b8d060"/>
<circle cx="19.98" cy="24.04" r="0.6" fill="#b8d060"/>
<circle cx="25.41" cy="32.32" r="0.6" fill="#b8d060"/>
<circle cx="24.00" cy="27.97" r="0.6" fill="#98c040"/>
<circle cx="17.54" cy="23.37" r="0.6" fill="#b8d060"/>
<circle cx="30.24" cy="35.85" r="0.6" fill="#98c040"/>
<circle cx="23.58" cy="28.37" r="0.6" fill="#a8c850"/>
<circle cx="20.23" cy="33.09" r="0.6" fill="#98c040"/>
<circle cx="25.44" cy="26.48" r="0.6" fill="#98c040"/>
<circle cx="20.58" cy="33.43" r="0.6" fill="#b8d060"/>
<circle cx="23.83" cy="33.10" r="0.6" fill="#b8d060"/>
<circle cx="15.44" cy="21.96" r="0.6" fill="#98c040"/>
<circle cx="29.44" cy="40.10" r="0.6" fill="#98c040"/>
<circle cx="20.99" cy="32.15" r="0.6" fill="#a8c850"/>
<circle cx="15.90" cy="29.46" r="0.6" fill="#b8d060"/>
<circle cx="24.71" cy="32.27" r="0.6" fill="#b8d060"/>
<circle cx="21.53" cy="29.52" r="0.6" fill="#b8d060"/>
<circle cx="26.80" cy="32.46" r="0.6" fill="#98c040"/>
<circle cx="18.18" cy="21.50" r="0.6" fill="#98c040"/>
<circle cx="22.84" cy="28.03" r="0.6" fill="#b8d060"/>
<circle cx="17.42" cy="24.24" r="0.6" fill="#b8d060"/>
<circle cx="28.59" cy="32.04" r="0.6" fill="#a8c850"/>
<circle cx="27.72" cy="42.01" r="0.6" fill="#b8d060"/>
<circle cx="27.97" cy="38.48" r="0.6" fill="#b8d060"/>
<circle cx="19.43" cy="21.18" r="0.6" fill="#b8d060"/>
<circle cx="18.18" cy="22.34" r="0.6" fill="#98c040"/>
<circle cx="18.05" cy="20.63" r="0.6" fill="#98c040"/>
<circle cx="26.29" cy="27.29" r="0.6" fill="#a8c850"/>
<circle cx="19.58" cy="21.19" r="0.6" fill="#98c040"/>
<circle cx="29.32" cy="38.38" r="0.6" fill="#a8c850"/>
<circle cx="18.48" cy="23.23" r="0.6" fill="#a8c850"/>
<circle cx="25.35" cy="26.08" r="0.6" fill="#a8c850"/>
<circle cx="25.80" cy="32.81" r="0.6" fill="#98c040"/>
<circle cx="26.28" cy="26.98" r="0.6" fill="#b8d060"/>
<circle cx="16.21" cy="30.19" r="0.6" fill="#a8c850"/>
<circle cx="18.20" cy="34.09" r="0.6" fill="#b8d060"/>
<ellipse cx="42.8" cy="36.35" rx="10.3" ry="13.85" transform="rotate(33 42.8 36.35)" fill="none" stroke="#111" stroke-width="1.75" stroke-dasharray="3.9 2.05"/>
<line x1="0" y1="0" x2="0" y2="57.00" stroke="#707070" stroke-width="1"/>
<line x1="0" y1="57.00" x2="57.20" y2="57.00" stroke="#707070" stroke-width="1"/>
<line x1="-2" y1="57.00" x2="0" y2="57.00" stroke="#555" stroke-width="0.8"/>
<line x1="-2" y1="39.70" x2="0" y2="39.70" stroke="#555" stroke-width="0.8"/>
<line x1="-2" y1="22.40" x2="0" y2="22.40" stroke="#555" stroke-width="0.8"/>
<line x1="-2" y1="5.10" x2="0" y2="5.10" stroke="#555" stroke-width="0.8"/>
<line x1="0.30" y1="57.00" x2="0.30" y2="58.60" stroke="#555" stroke-width="0.8"/>
<line x1="13.28" y1="57.00" x2="13.28" y2="58.60" stroke="#555" stroke-width="0.8"/>
<line x1="26.25" y1="57.00" x2="26.25" y2="58.60" stroke="#555" stroke-width="0.8"/>
<line x1="39.23" y1="57.00" x2="39.23" y2="58.60" stroke="#555" stroke-width="0.8"/>
<line x1="52.20" y1="57.00" x2="52.20" y2="58.60" stroke="#555" stroke-width="0.8"/>
<path d="M-1,57.0h1M-1,53.5h1M-1,50.1h1M-1,46.6h1M-1,43.2h1M-1,39.7h1M-1,36.2h1M-1,32.8h1M-1,29.3h1M-1,25.9h1M-1,22.4h1M-1,18.9h1M-1,15.5h1M-1,12.0h1M-1,8.6h1M-1,5.1h1M-1,1.6h1M0.3,57.0v1M2.9,57.0v1M5.5,57.0v1M8.1,57.0v1M10.7,57.0v1M13.3,57.0v1M15.9,57.0v1M18.5,57.0v1M21.1,57.0v1M23.7,57.0v1M26.3,57.0v1M28.8,57.0v1M31.4,57.0v1M34.0,57.0v1M36.6,57.0v1M39.2,57.0v1M41.8,57.0v1M44.4,57.0v1M47.0,57.0v1M49.6,57.0v1M52.2,57.0v1M54.8,57.0v1" stroke="#777" stroke-width="0.6"/>
</g>
<text x="147.08" y="436.15" font-size="6.4" text-anchor="start" font-weight="normal" fill="#333" stroke="#333" stroke-width="0.12" textLength="3.22" lengthAdjust="spacingAndGlyphs" >0</text>
<text x="142.24" y="418.85" font-size="6.4" text-anchor="start" font-weight="normal" fill="#333" stroke="#333" stroke-width="0.12" textLength="8.06" lengthAdjust="spacingAndGlyphs" >5.0</text>
<text x="143.85" y="401.55" font-size="6.4" text-anchor="start" font-weight="normal" fill="#333" stroke="#333" stroke-width="0.12" textLength="6.45" lengthAdjust="spacingAndGlyphs" >10</text>
<text x="143.85" y="384.25" font-size="6.4" text-anchor="start" font-weight="normal" fill="#333" stroke="#333" stroke-width="0.12" textLength="6.45" lengthAdjust="spacingAndGlyphs" >15</text>
<text x="153.19" y="443.30" font-size="6.4" text-anchor="start" font-weight="normal" fill="#333" stroke="#333" stroke-width="0.12" textLength="3.22" lengthAdjust="spacingAndGlyphs" >0</text>
<text x="163.74" y="443.30" font-size="6.4" text-anchor="start" font-weight="normal" fill="#333" stroke="#333" stroke-width="0.12" textLength="8.06" lengthAdjust="spacingAndGlyphs" >5.0</text>
<text x="177.53" y="443.30" font-size="6.4" text-anchor="start" font-weight="normal" fill="#333" stroke="#333" stroke-width="0.12" textLength="6.45" lengthAdjust="spacingAndGlyphs" >10</text>
<text x="190.50" y="443.30" font-size="6.4" text-anchor="start" font-weight="normal" fill="#333" stroke="#333" stroke-width="0.12" textLength="6.45" lengthAdjust="spacingAndGlyphs" >15</text>
<text x="203.48" y="443.30" font-size="6.4" text-anchor="start" font-weight="normal" fill="#333" stroke="#333" stroke-width="0.12" textLength="6.45" lengthAdjust="spacingAndGlyphs" >20</text>
<g transform="translate(231.50,377.30)">
<line x1="13.28" y1="0.5" x2="13.28" y2="57.00" stroke="#ececf8" stroke-width="0.6"/>
<line x1="26.25" y1="0.5" x2="26.25" y2="57.00" stroke="#ececf8" stroke-width="0.6"/>
<line x1="39.23" y1="0.5" x2="39.23" y2="57.00" stroke="#ececf8" stroke-width="0.6"/>
<line x1="52.20" y1="0.5" x2="52.20" y2="57.00" stroke="#ececf8" stroke-width="0.6"/>
<line x1="0" y1="39.70" x2="57.20" y2="39.70" stroke="#f0eef4" stroke-width="0.6"/>
<line x1="0" y1="22.40" x2="57.20" y2="22.40" stroke="#f0eef4" stroke-width="0.6"/>
<line x1="0" y1="5.10" x2="57.20" y2="5.10" stroke="#f0eef4" stroke-width="0.6"/>
<path d="M0,-0.2 H57.20" fill="none" stroke="#b0b0b0" stroke-width="1"/>
<path d="M57.20,-0.7 V57.00" fill="none" stroke="#939393" stroke-width="1"/>
<g filter="url(#tex)" opacity="0.85">
<path d="M4.05,12.90 C4.77,11.97 6.34,11.98 7.80,12.30 C9.26,12.62 11.23,13.87 12.80,14.80 C14.37,15.73 15.88,16.90 17.20,17.90 C18.52,18.90 20.38,19.86 20.70,20.80 C21.02,21.74 20.10,22.78 19.10,23.55 C18.10,24.32 15.85,24.36 14.70,25.40 C13.55,26.44 12.93,28.33 12.20,29.80 C11.47,31.27 11.03,33.27 10.30,34.20 C9.57,35.13 8.53,35.82 7.80,35.40 C7.07,34.98 6.51,33.47 5.95,31.70 C5.39,29.93 4.87,27.10 4.45,24.80 C4.03,22.50 3.52,19.88 3.45,17.90 C3.38,15.92 3.32,13.83 4.05,12.90Z" fill="url(#lg30)" stroke="url(#lg30)" stroke-width="1.3" stroke-opacity="0.35"/>
<path d="M31.80,42.40 C31.80,43.61 31.54,45.06 31.15,46.04 C30.76,47.03 30.08,47.92 29.45,48.30 C28.82,48.67 27.98,48.67 27.35,48.30 C26.72,47.92 26.04,47.03 25.65,46.04 C25.26,45.06 25.00,43.61 25.00,42.40 C25.00,41.19 25.26,39.74 25.65,38.76 C26.04,37.77 26.72,36.88 27.35,36.50 C27.98,36.13 28.82,36.13 29.45,36.50 C30.08,36.88 30.76,37.77 31.15,38.76 C31.54,39.74 31.80,41.19 31.80,42.40Z" fill="#98c040" stroke="#98c040" stroke-width="1.3" stroke-opacity="0.35"/>
<path d="M41.00,9.00 C41.42,8.67 42.42,9.67 42.50,10.50 C42.58,11.33 42.25,12.58 41.50,14.00 C40.75,15.42 39.42,17.42 38.00,19.00 C36.58,20.58 34.33,22.42 33.00,23.50 C31.67,24.58 30.67,25.33 30.00,25.50 C29.33,25.67 28.58,25.25 29.00,24.50 C29.42,23.75 31.17,22.25 32.50,21.00 C33.83,19.75 35.75,18.42 37.00,17.00 C38.25,15.58 39.33,13.83 40.00,12.50 C40.67,11.17 40.58,9.33 41.00,9.00Z" fill="url(#lg31)" stroke="url(#lg31)" stroke-width="1.3" stroke-opacity="0.35"/>
<path d="M39.00,23.50 C40.42,22.83 43.25,22.42 45.00,22.50 C46.75,22.58 48.42,22.92 49.50,24.00 C50.58,25.08 51.28,26.92 51.50,29.00 C51.72,31.08 51.30,34.28 50.80,36.50 C50.30,38.72 49.47,40.88 48.50,42.30 C47.53,43.72 46.25,44.58 45.00,45.00 C43.75,45.42 42.08,45.30 41.00,44.80 C39.92,44.30 39.42,42.88 38.50,42.00 C37.58,41.12 36.33,40.50 35.50,39.50 C34.67,38.50 33.67,37.42 33.50,36.00 C33.33,34.58 34.00,32.58 34.50,31.00 C35.00,29.42 35.75,27.75 36.50,26.50 C37.25,25.25 37.58,24.17 39.00,23.50Z" fill="#d0dc20" stroke="#d0dc20" stroke-width="1.3" stroke-opacity="0.35"/>
</g>
<path d="M15.00,21.00 C15.92,20.33 19.00,21.17 21.00,22.00 C23.00,22.83 25.33,24.50 27.00,26.00 C28.67,27.50 30.00,29.00 31.00,31.00 C32.00,33.00 32.83,35.50 33.00,38.00 C33.17,40.50 32.83,44.00 32.00,46.00 C31.17,48.00 29.33,49.83 28.00,50.00 C26.67,50.17 25.17,48.67 24.00,47.00 C22.83,45.33 22.00,42.50 21.00,40.00 C20.00,37.50 18.92,34.33 18.00,32.00 C17.08,29.67 16.00,27.83 15.50,26.00 C15.00,24.17 14.08,21.67 15.00,21.00Z" fill="#a8c838" opacity="0.16" filter="url(#soft)"/>
<circle cx="22.42" cy="32.82" r="0.55" fill="#a8c838"/>
<circle cx="25.38" cy="32.63" r="0.55" fill="#b8d048"/>
<circle cx="29.96" cy="46.34" r="0.55" fill="#b8d048"/>
<circle cx="29.31" cy="36.90" r="0.55" fill="#b8d048"/>
<circle cx="27.12" cy="40.40" r="0.55" fill="#a8c838"/>
<circle cx="26.49" cy="42.58" r="0.55" fill="#a8c838"/>
<circle cx="29.00" cy="34.24" r="0.55" fill="#a8c838"/>
<circle cx="25.61" cy="37.83" r="0.55" fill="#a8c838"/>
<circle cx="30.21" cy="31.01" r="0.55" fill="#a8c838"/>
<circle cx="22.20" cy="39.91" r="0.55" fill="#a8c838"/>
<circle cx="22.52" cy="27.95" r="0.55" fill="#a8c838"/>
<circle cx="28.63" cy="42.67" r="0.55" fill="#b8d048"/>
<circle cx="23.18" cy="24.50" r="0.55" fill="#a8c838"/>
<circle cx="30.35" cy="42.41" r="0.55" fill="#a8c838"/>
<circle cx="28.75" cy="35.73" r="0.55" fill="#b8d048"/>
<circle cx="18.00" cy="25.40" r="0.55" fill="#b8d048"/>
<circle cx="28.06" cy="28.17" r="0.55" fill="#a8c838"/>
<circle cx="24.66" cy="34.70" r="0.55" fill="#b8d048"/>
<circle cx="24.09" cy="39.12" r="0.55" fill="#a8c838"/>
<circle cx="16.72" cy="28.44" r="0.55" fill="#a8c838"/>
<circle cx="23.74" cy="27.13" r="0.55" fill="#b8d048"/>
<circle cx="21.56" cy="29.76" r="0.55" fill="#a8c838"/>
<circle cx="16.69" cy="26.76" r="0.55" fill="#a8c838"/>
<circle cx="28.10" cy="45.65" r="0.55" fill="#b8d048"/>
<circle cx="24.82" cy="28.30" r="0.55" fill="#b8d048"/>
<circle cx="27.92" cy="30.09" r="0.55" fill="#a8c838"/>
<circle cx="26.78" cy="40.02" r="0.55" fill="#a8c838"/>
<circle cx="23.25" cy="40.44" r="0.55" fill="#a8c838"/>
<circle cx="15.81" cy="25.69" r="0.55" fill="#a8c838"/>
<circle cx="23.73" cy="40.00" r="0.55" fill="#b8d048"/>
<circle cx="18.69" cy="21.66" r="0.55" fill="#b8d048"/>
<circle cx="25.83" cy="45.48" r="0.55" fill="#b8d048"/>
<circle cx="29.59" cy="41.30" r="0.55" fill="#a8c838"/>
<circle cx="28.86" cy="43.91" r="0.55" fill="#a8c838"/>
<circle cx="22.24" cy="38.75" r="0.55" fill="#a8c838"/>
<circle cx="21.46" cy="39.58" r="0.55" fill="#b8d048"/>
<circle cx="28.20" cy="47.48" r="0.55" fill="#b8d048"/>
<circle cx="29.95" cy="43.48" r="0.55" fill="#a8c838"/>
<circle cx="28.69" cy="38.96" r="0.55" fill="#a8c838"/>
<circle cx="27.84" cy="48.35" r="0.55" fill="#b8d048"/>
<circle cx="26.77" cy="48.27" r="0.55" fill="#b8d048"/>
<circle cx="28.75" cy="36.34" r="0.55" fill="#a8c838"/>
<circle cx="20.65" cy="33.38" r="0.55" fill="#b8d048"/>
<circle cx="29.58" cy="42.05" r="0.55" fill="#a8c838"/>
<circle cx="31.13" cy="38.53" r="0.55" fill="#b8d048"/>
<circle cx="30.07" cy="40.36" r="0.55" fill="#b8d048"/>
<circle cx="24.57" cy="31.38" r="0.55" fill="#b8d048"/>
<circle cx="25.40" cy="27.16" r="0.55" fill="#b8d048"/>
<circle cx="27.54" cy="40.64" r="0.55" fill="#b8d048"/>
<circle cx="27.59" cy="27.44" r="0.55" fill="#b8d048"/>
<circle cx="30.89" cy="33.29" r="0.55" fill="#b8d048"/>
<circle cx="30.25" cy="35.90" r="0.55" fill="#b8d048"/>
<circle cx="27.50" cy="39.57" r="0.55" fill="#b8d048"/>
<circle cx="30.03" cy="40.00" r="0.55" fill="#a8c838"/>
<circle cx="24.85" cy="37.27" r="0.55" fill="#b8d048"/>
<circle cx="31.00" cy="44.99" r="0.55" fill="#b8d048"/>
<circle cx="19.75" cy="27.12" r="0.55" fill="#a8c838"/>
<circle cx="20.42" cy="27.11" r="0.55" fill="#a8c838"/>
<circle cx="29.78" cy="38.75" r="0.55" fill="#a8c838"/>
<circle cx="20.95" cy="24.61" r="0.55" fill="#a8c838"/>
<circle cx="15.23" cy="22.90" r="0.55" fill="#a8c838"/>
<circle cx="27.37" cy="32.44" r="0.55" fill="#b8d048"/>
<circle cx="24.15" cy="37.75" r="0.55" fill="#a8c838"/>
<circle cx="31.33" cy="36.70" r="0.55" fill="#b8d048"/>
<circle cx="26.94" cy="26.56" r="0.55" fill="#b8d048"/>
<circle cx="24.98" cy="46.15" r="0.55" fill="#b8d048"/>
<circle cx="22.06" cy="29.46" r="0.55" fill="#a8c838"/>
<circle cx="24.71" cy="34.10" r="0.55" fill="#b8d048"/>
<circle cx="29.30" cy="33.54" r="0.55" fill="#b8d048"/>
<circle cx="27.72" cy="35.99" r="0.55" fill="#a8c838"/>
<circle cx="20.70" cy="29.43" r="0.55" fill="#b8d048"/>
<circle cx="18.73" cy="26.72" r="0.55" fill="#a8c838"/>
<circle cx="18.10" cy="28.39" r="0.55" fill="#a8c838"/>
<circle cx="31.38" cy="39.49" r="0.55" fill="#a8c838"/>
<circle cx="27.00" cy="27.48" r="0.55" fill="#a8c838"/>
<circle cx="22.16" cy="38.61" r="0.55" fill="#a8c838"/>
<circle cx="17.89" cy="25.89" r="0.55" fill="#a8c838"/>
<circle cx="20.99" cy="37.63" r="0.55" fill="#a8c838"/>
<circle cx="32.63" cy="39.25" r="0.55" fill="#b8d048"/>
<circle cx="24.45" cy="42.48" r="0.55" fill="#b8d048"/>
<circle cx="25.65" cy="36.59" r="0.55" fill="#a8c838"/>
<circle cx="25.65" cy="39.89" r="0.55" fill="#b8d048"/>
<circle cx="29.72" cy="45.16" r="0.55" fill="#a8c838"/>
<circle cx="21.90" cy="34.43" r="0.55" fill="#b8d048"/>
<circle cx="20.06" cy="22.36" r="0.55" fill="#a8c838"/>
<circle cx="31.87" cy="41.54" r="0.55" fill="#b8d048"/>
<circle cx="26.59" cy="26.13" r="0.55" fill="#a8c838"/>
<circle cx="24.28" cy="46.30" r="0.55" fill="#a8c838"/>
<circle cx="20.36" cy="23.46" r="0.55" fill="#a8c838"/>
<circle cx="30.89" cy="35.86" r="0.55" fill="#a8c838"/>
<circle cx="18.38" cy="27.45" r="0.55" fill="#b8d048"/>
<circle cx="22.15" cy="37.00" r="0.55" fill="#b8d048"/>
<circle cx="18.94" cy="29.81" r="0.55" fill="#b8d048"/>
<circle cx="16.29" cy="24.16" r="0.55" fill="#b8d048"/>
<circle cx="30.06" cy="47.76" r="0.55" fill="#b8d048"/>
<circle cx="22.23" cy="31.27" r="0.55" fill="#a8c838"/>
<circle cx="24.78" cy="43.14" r="0.55" fill="#b8d048"/>
<circle cx="25.03" cy="46.93" r="0.55" fill="#b8d048"/>
<circle cx="20.38" cy="25.41" r="0.55" fill="#a8c838"/>
<circle cx="30.26" cy="37.88" r="0.55" fill="#b8d048"/>
<circle cx="21.52" cy="28.78" r="0.55" fill="#b8d048"/>
<circle cx="26.45" cy="30.81" r="0.55" fill="#b8d048"/>
<circle cx="21.35" cy="25.33" r="0.55" fill="#b8d048"/>
<circle cx="29.85" cy="38.47" r="0.55" fill="#a8c838"/>
<circle cx="24.35" cy="43.39" r="0.55" fill="#a8c838"/>
<circle cx="24.02" cy="46.18" r="0.55" fill="#b8d048"/>
<circle cx="20.95" cy="32.19" r="0.55" fill="#b8d048"/>
<circle cx="28.63" cy="39.40" r="0.55" fill="#a8c838"/>
<circle cx="15.81" cy="25.34" r="0.55" fill="#a8c838"/>
<circle cx="29.30" cy="39.13" r="0.55" fill="#a8c838"/>
<circle cx="16.20" cy="24.44" r="0.55" fill="#a8c838"/>
<circle cx="28.58" cy="48.58" r="0.55" fill="#b8d048"/>
<circle cx="24.77" cy="30.26" r="0.55" fill="#a8c838"/>
<circle cx="32.07" cy="39.12" r="0.55" fill="#b8d048"/>
<circle cx="23.71" cy="32.57" r="0.55" fill="#b8d048"/>
<circle cx="24.56" cy="38.46" r="0.55" fill="#a8c838"/>
<circle cx="27.49" cy="43.16" r="0.55" fill="#b8d048"/>
<circle cx="22.71" cy="40.46" r="0.55" fill="#b8d048"/>
<circle cx="19.06" cy="27.18" r="0.55" fill="#a8c838"/>
<circle cx="28.68" cy="46.11" r="0.55" fill="#b8d048"/>
<path d="M32.50,31.00 C33.33,29.83 36.08,29.17 37.00,30.00 C37.92,30.83 37.92,33.92 38.00,36.00 C38.08,38.08 38.17,41.50 37.50,42.50 C36.83,43.50 34.92,42.92 34.00,42.00 C33.08,41.08 32.25,38.83 32.00,37.00 C31.75,35.17 31.67,32.17 32.50,31.00Z" fill="#b8d040" opacity="0.16" filter="url(#soft)"/>
<circle cx="37.90" cy="36.54" r="0.55" fill="#a8c840"/>
<circle cx="32.71" cy="36.75" r="0.55" fill="#b8d040"/>
<circle cx="35.22" cy="32.74" r="0.55" fill="#b8d040"/>
<circle cx="34.83" cy="39.89" r="0.55" fill="#b8d040"/>
<circle cx="37.13" cy="39.42" r="0.55" fill="#b8d040"/>
<circle cx="35.62" cy="35.71" r="0.55" fill="#b8d040"/>
<circle cx="36.38" cy="36.71" r="0.55" fill="#b8d040"/>
<circle cx="37.24" cy="32.44" r="0.55" fill="#a8c840"/>
<circle cx="34.40" cy="31.75" r="0.55" fill="#a8c840"/>
<circle cx="32.18" cy="36.99" r="0.55" fill="#a8c840"/>
<circle cx="34.33" cy="36.50" r="0.55" fill="#b8d040"/>
<circle cx="34.36" cy="32.01" r="0.55" fill="#b8d040"/>
<circle cx="33.02" cy="32.26" r="0.55" fill="#a8c840"/>
<circle cx="34.34" cy="30.73" r="0.55" fill="#a8c840"/>
<circle cx="37.33" cy="36.81" r="0.55" fill="#b8d040"/>
<circle cx="34.54" cy="40.92" r="0.55" fill="#b8d040"/>
<circle cx="35.48" cy="35.95" r="0.55" fill="#b8d040"/>
<circle cx="35.57" cy="41.50" r="0.55" fill="#a8c840"/>
<circle cx="34.71" cy="41.20" r="0.55" fill="#b8d040"/>
<circle cx="37.12" cy="34.90" r="0.55" fill="#b8d040"/>
<circle cx="35.92" cy="33.14" r="0.55" fill="#b8d040"/>
<circle cx="36.03" cy="39.07" r="0.55" fill="#a8c840"/>
<circle cx="33.86" cy="41.29" r="0.55" fill="#a8c840"/>
<circle cx="37.26" cy="31.62" r="0.55" fill="#b8d040"/>
<circle cx="37.12" cy="37.30" r="0.55" fill="#b8d040"/>
<circle cx="34.45" cy="33.84" r="0.55" fill="#a8c840"/>
<circle cx="34.94" cy="34.17" r="0.55" fill="#a8c840"/>
<circle cx="32.58" cy="31.63" r="0.55" fill="#a8c840"/>
<circle cx="35.24" cy="34.87" r="0.55" fill="#b8d040"/>
<circle cx="34.08" cy="40.04" r="0.55" fill="#b8d040"/>
<ellipse cx="41.6" cy="35.25" rx="10.3" ry="13.85" transform="rotate(33 41.6 35.25)" fill="none" stroke="#111" stroke-width="1.75" stroke-dasharray="3.9 2.05"/>
<line x1="0" y1="0" x2="0" y2="57.00" stroke="#707070" stroke-width="1"/>
<line x1="0" y1="57.00" x2="57.20" y2="57.00" stroke="#707070" stroke-width="1"/>
<line x1="-2" y1="57.00" x2="0" y2="57.00" stroke="#555" stroke-width="0.8"/>
<line x1="-2" y1="39.70" x2="0" y2="39.70" stroke="#555" stroke-width="0.8"/>
<line x1="-2" y1="22.40" x2="0" y2="22.40" stroke="#555" stroke-width="0.8"/>
<line x1="-2" y1="5.10" x2="0" y2="5.10" stroke="#555" stroke-width="0.8"/>
<line x1="0.30" y1="57.00" x2="0.30" y2="58.60" stroke="#555" stroke-width="0.8"/>
<line x1="13.28" y1="57.00" x2="13.28" y2="58.60" stroke="#555" stroke-width="0.8"/>
<line x1="26.25" y1="57.00" x2="26.25" y2="58.60" stroke="#555" stroke-width="0.8"/>
<line x1="39.23" y1="57.00" x2="39.23" y2="58.60" stroke="#555" stroke-width="0.8"/>
<line x1="52.20" y1="57.00" x2="52.20" y2="58.60" stroke="#555" stroke-width="0.8"/>
<path d="M-1,57.0h1M-1,53.5h1M-1,50.1h1M-1,46.6h1M-1,43.2h1M-1,39.7h1M-1,36.2h1M-1,32.8h1M-1,29.3h1M-1,25.9h1M-1,22.4h1M-1,18.9h1M-1,15.5h1M-1,12.0h1M-1,8.6h1M-1,5.1h1M-1,1.6h1M0.3,57.0v1M2.9,57.0v1M5.5,57.0v1M8.1,57.0v1M10.7,57.0v1M13.3,57.0v1M15.9,57.0v1M18.5,57.0v1M21.1,57.0v1M23.7,57.0v1M26.3,57.0v1M28.8,57.0v1M31.4,57.0v1M34.0,57.0v1M36.6,57.0v1M39.2,57.0v1M41.8,57.0v1M44.4,57.0v1M47.0,57.0v1M49.6,57.0v1M52.2,57.0v1M54.8,57.0v1" stroke="#777" stroke-width="0.6"/>
</g>
<text x="224.08" y="436.15" font-size="6.4" text-anchor="start" font-weight="normal" fill="#333" stroke="#333" stroke-width="0.12" textLength="3.22" lengthAdjust="spacingAndGlyphs" >0</text>
<text x="219.24" y="418.85" font-size="6.4" text-anchor="start" font-weight="normal" fill="#333" stroke="#333" stroke-width="0.12" textLength="8.06" lengthAdjust="spacingAndGlyphs" >5.0</text>
<text x="220.85" y="401.55" font-size="6.4" text-anchor="start" font-weight="normal" fill="#333" stroke="#333" stroke-width="0.12" textLength="6.45" lengthAdjust="spacingAndGlyphs" >10</text>
<text x="220.85" y="384.25" font-size="6.4" text-anchor="start" font-weight="normal" fill="#333" stroke="#333" stroke-width="0.12" textLength="6.45" lengthAdjust="spacingAndGlyphs" >15</text>
<text x="230.19" y="443.30" font-size="6.4" text-anchor="start" font-weight="normal" fill="#333" stroke="#333" stroke-width="0.12" textLength="3.22" lengthAdjust="spacingAndGlyphs" >0</text>
<text x="240.74" y="443.30" font-size="6.4" text-anchor="start" font-weight="normal" fill="#333" stroke="#333" stroke-width="0.12" textLength="8.06" lengthAdjust="spacingAndGlyphs" >5.0</text>
<text x="254.53" y="443.30" font-size="6.4" text-anchor="start" font-weight="normal" fill="#333" stroke="#333" stroke-width="0.12" textLength="6.45" lengthAdjust="spacingAndGlyphs" >10</text>
<text x="267.50" y="443.30" font-size="6.4" text-anchor="start" font-weight="normal" fill="#333" stroke="#333" stroke-width="0.12" textLength="6.45" lengthAdjust="spacingAndGlyphs" >15</text>
<text x="280.48" y="443.30" font-size="6.4" text-anchor="start" font-weight="normal" fill="#333" stroke="#333" stroke-width="0.12" textLength="6.45" lengthAdjust="spacingAndGlyphs" >20</text>
<text x="135.90" y="165.20" font-size="5.9" text-anchor="end" font-weight="normal" fill="#555" stroke="#555" stroke-width="0.12" >5.9%</text>
<text x="212.10" y="165.20" font-size="5.9" text-anchor="end" font-weight="normal" fill="#555" stroke="#555" stroke-width="0.12" >49.9%</text>
<text x="287.80" y="165.40" font-size="5.9" text-anchor="end" font-weight="normal" fill="#555" stroke="#555" stroke-width="0.12" >66%</text>
<text x="82.90" y="213.50" font-size="6.5" text-anchor="start" font-weight="normal" fill="#444" stroke="#444" stroke-width="0.12" textLength="8.10" lengthAdjust="spacingAndGlyphs" >PB</text>
<text x="157.70" y="213.70" font-size="6.5" text-anchor="start" font-weight="normal" fill="#444" stroke="#444" stroke-width="0.12" textLength="9.60" lengthAdjust="spacingAndGlyphs" >BM</text>
<text x="235.20" y="213.70" font-size="6.5" text-anchor="start" font-weight="normal" fill="#444" stroke="#444" stroke-width="0.12" textLength="9.60" lengthAdjust="spacingAndGlyphs" >BM</text>
<text x="6.50" y="15.80" font-size="10.3" text-anchor="start" font-weight="bold" fill="#111" textLength="7.70" lengthAdjust="spacingAndGlyphs" >A</text>
<text x="35.30" y="15.80" font-size="8.4" text-anchor="start" font-weight="normal" fill="#262626" textLength="35.60" lengthAdjust="spacingAndGlyphs" >Patient 18</text>
<text x="42.30" y="25.70" font-size="8.6" text-anchor="start" font-weight="normal" fill="#262626" textLength="21.50" lengthAdjust="spacingAndGlyphs" >CD45</text>
<text x="122.90" y="25.70" font-size="8.6" text-anchor="start" font-weight="normal" fill="#262626" textLength="21.30" lengthAdjust="spacingAndGlyphs" >CD34</text>
<text x="199.80" y="25.70" font-size="8.6" text-anchor="start" font-weight="normal" fill="#262626" textLength="22.30" lengthAdjust="spacingAndGlyphs" >BCL-2</text>
<text x="275.00" y="25.70" font-size="8.6" text-anchor="start" font-weight="normal" fill="#262626" textLength="26.80" lengthAdjust="spacingAndGlyphs" >BCL-XL</text>
<text x="353.60" y="25.70" font-size="8.6" text-anchor="start" font-weight="normal" fill="#262626" textLength="23.10" lengthAdjust="spacingAndGlyphs" >MCL-1</text>
<text x="431.00" y="25.70" font-size="8.6" text-anchor="start" font-weight="normal" fill="#262626" textLength="25.00" lengthAdjust="spacingAndGlyphs" >Cluster</text>
<text x="49.00" y="142.80" font-size="10.3" text-anchor="start" font-weight="bold" fill="#111" textLength="7.40" lengthAdjust="spacingAndGlyphs" >B</text>
<text x="104.60" y="153.10" font-size="8.6" text-anchor="start" font-weight="normal" fill="#262626" textLength="9.40" lengthAdjust="spacingAndGlyphs" >BL</text>
<text x="172.70" y="153.10" font-size="8.6" text-anchor="start" font-weight="normal" fill="#262626" textLength="22.60" lengthAdjust="spacingAndGlyphs" >EOC1</text>
<text x="249.50" y="153.10" font-size="8.6" text-anchor="start" font-weight="normal" fill="#262626" textLength="23.10" lengthAdjust="spacingAndGlyphs" >EOC2</text>
<text x="293.80" y="189.80" font-size="8.8" text-anchor="start" font-weight="normal" fill="#262626" textLength="18.50" lengthAdjust="spacingAndGlyphs" >Pop4</text>
<text x="294.10" y="262.50" font-size="8.8" text-anchor="start" font-weight="normal" fill="#262626" textLength="22.60" lengthAdjust="spacingAndGlyphs" >BCL-2</text>
<text x="293.80" y="335.40" font-size="8.8" text-anchor="start" font-weight="normal" fill="#262626" textLength="27.70" lengthAdjust="spacingAndGlyphs" >BCL-XL</text>
<text x="294.10" y="408.20" font-size="8.8" text-anchor="start" font-weight="normal" fill="#262626" textLength="23.10" lengthAdjust="spacingAndGlyphs" >MCL-1</text>
<rect x="481.3" y="28.90" width="5.5" height="5.2" fill="#2a9ad4"/>
<text x="490.00" y="33.60" font-size="6.4" text-anchor="start" font-weight="normal" fill="#333" stroke="#333" stroke-width="0.12" textLength="14.20" lengthAdjust="spacingAndGlyphs" >Pop0</text>
<rect x="481.3" y="37.25" width="5.5" height="5.2" fill="#bdbdbd"/>
<text x="490.00" y="41.95" font-size="6.4" text-anchor="start" font-weight="normal" fill="#333" stroke="#333" stroke-width="0.12" textLength="14.20" lengthAdjust="spacingAndGlyphs" >Pop1</text>
<rect x="481.3" y="45.60" width="5.5" height="5.2" fill="#f07a28"/>
<text x="490.00" y="50.30" font-size="6.4" text-anchor="start" font-weight="normal" fill="#333" stroke="#333" stroke-width="0.12" textLength="14.20" lengthAdjust="spacingAndGlyphs" >Pop2</text>
<rect x="481.3" y="53.95" width="5.5" height="5.2" fill="#74b83c"/>
<text x="490.00" y="58.65" font-size="6.4" text-anchor="start" font-weight="normal" fill="#333" stroke="#333" stroke-width="0.12" textLength="14.20" lengthAdjust="spacingAndGlyphs" >Pop3</text>
<rect x="481.3" y="62.30" width="5.5" height="5.2" fill="#4e7a30"/>
<text x="490.00" y="67.00" font-size="6.4" text-anchor="start" font-weight="normal" fill="#333" stroke="#333" stroke-width="0.12" textLength="14.20" lengthAdjust="spacingAndGlyphs" >Pop4</text>
<rect x="481.3" y="70.65" width="5.5" height="5.2" fill="#c49a2c"/>
<text x="490.00" y="75.35" font-size="6.4" text-anchor="start" font-weight="normal" fill="#333" stroke="#333" stroke-width="0.12" textLength="14.20" lengthAdjust="spacingAndGlyphs" >Pop5</text>
<rect x="481.3" y="79.00" width="5.5" height="5.2" fill="#6a4ca0"/>
<text x="490.00" y="83.70" font-size="6.4" text-anchor="start" font-weight="normal" fill="#333" stroke="#333" stroke-width="0.12" textLength="14.20" lengthAdjust="spacingAndGlyphs" >Pop6</text>
<rect x="481.3" y="87.35" width="5.5" height="5.2" fill="#2e8a44"/>
<text x="490.00" y="92.05" font-size="6.4" text-anchor="start" font-weight="normal" fill="#333" stroke="#333" stroke-width="0.12" textLength="14.20" lengthAdjust="spacingAndGlyphs" >Pop7</text>
<rect x="475" y="113" width="29.8" height="5.4" fill="url(#jet)"/>
<text x="472.00" y="109.70" font-size="6.0" text-anchor="start" font-weight="normal" fill="#333" stroke="#333" stroke-width="0.12" textLength="11.40" lengthAdjust="spacingAndGlyphs" >Low</text>
<text x="500.90" y="109.70" font-size="6.0" text-anchor="start" font-weight="normal" fill="#333" stroke="#333" stroke-width="0.12" textLength="12.20" lengthAdjust="spacingAndGlyphs" >High</text>
<rect x="290" y="465" width="29.8" height="5.6" fill="url(#jet)"/>
<text x="287.00" y="461.90" font-size="6.0" text-anchor="start" font-weight="normal" fill="#333" stroke="#333" stroke-width="0.12" textLength="11.20" lengthAdjust="spacingAndGlyphs" >Low</text>
<text x="316.00" y="461.90" font-size="6.0" text-anchor="start" font-weight="normal" fill="#333" stroke="#333" stroke-width="0.12" textLength="12.00" lengthAdjust="spacingAndGlyphs" >High</text>
<path d="M61.3,453 V403.5" stroke="#222" stroke-width="0.9" fill="none"/>
<path d="M58.6,405 L61.3,399.3 L64,405 Z" fill="#222"/>
<path d="M61.3,453 H108.5" stroke="#222" stroke-width="0.9" fill="none"/>
<path d="M107,450.3 L112.7,453 L107,455.7 Z" fill="#222"/>
<text x="114.20" y="455.00" font-size="6.2" text-anchor="start" font-weight="bold" fill="#222" textLength="22.00" lengthAdjust="spacingAndGlyphs" >UMAP_1</text>
<text x="0" y="0" font-size="6.2" font-weight="bold" fill="#222" textLength="21.9" lengthAdjust="spacingAndGlyphs" transform="translate(62.5,397.7) rotate(-90)">UMAP_2</text>
<text x="147.30" y="462.30" font-size="7.8" text-anchor="start" font-weight="normal" fill="#262626" textLength="110.40" lengthAdjust="spacingAndGlyphs" >Pop4: CD45+dimCD34+HLA–</text>
<text x="147.30" y="471.20" font-size="7.8" text-anchor="start" font-weight="normal" fill="#262626" textLength="124.70" lengthAdjust="spacingAndGlyphs" >DR+CD38+TdT+CD123+CD117+</text>
<text x="343.50" y="204.60" font-size="10.3" text-anchor="start" font-weight="bold" fill="#111" textLength="7.30" lengthAdjust="spacingAndGlyphs" >C</text>
<rect x="403.50" y="215.00" width="13.75" height="14.50" fill="#e84848"/>
<rect x="417.20" y="215.00" width="13.75" height="14.50" fill="#f4c4bc"/>
<rect x="430.90" y="215.00" width="13.75" height="14.50" fill="#e82424"/>
<rect x="403.50" y="229.45" width="13.75" height="14.50" fill="#e85a58"/>
<rect x="417.20" y="229.45" width="13.75" height="14.50" fill="#fff2ee"/>
<rect x="430.90" y="229.45" width="13.75" height="14.50" fill="#f0a4a4"/>
<rect x="403.50" y="243.90" width="13.75" height="14.50" fill="#4858a8"/>
<rect x="417.20" y="243.90" width="13.75" height="14.50" fill="#ffffff"/>
<rect x="430.90" y="243.90" width="13.75" height="14.50" fill="#5a6ab2"/>
<rect x="403.50" y="258.35" width="13.75" height="14.50" fill="#7a82c2"/>
<rect x="417.20" y="258.35" width="13.75" height="14.50" fill="#4a5aaa"/>
<rect x="430.90" y="258.35" width="13.75" height="14.50" fill="#4a58a8"/>
<rect x="403.50" y="272.80" width="13.75" height="14.50" fill="#3a4aa2"/>
<rect x="417.20" y="272.80" width="13.75" height="14.50" fill="#babee0"/>
<rect x="430.90" y="272.80" width="13.75" height="14.50" fill="#b2b6dc"/>
<rect x="403.50" y="287.25" width="13.75" height="14.50" fill="#d8daf0"/>
<rect x="417.20" y="287.25" width="13.75" height="14.50" fill="#fff6f2"/>
<rect x="430.90" y="287.25" width="13.75" height="14.50" fill="#e8e8f4"/>
<rect x="403.50" y="215.00" width="41.10" height="86.70" fill="none" stroke="#333" stroke-width="0.8"/>
<line x1="400.4" y1="222.22" x2="403.50" y2="222.22" stroke="#333" stroke-width="0.8"/>
<text x="373.30" y="224.42" font-size="6.5" text-anchor="start" font-weight="normal" fill="#2a2a2a" stroke="#2a2a2a" stroke-width="0.12" textLength="23.80" lengthAdjust="spacingAndGlyphs" >Total Pop</text>
<line x1="400.4" y1="236.68" x2="403.50" y2="236.68" stroke="#333" stroke-width="0.8"/>
<text x="383.50" y="238.88" font-size="6.5" text-anchor="start" font-weight="normal" fill="#2a2a2a" stroke="#2a2a2a" stroke-width="0.12" textLength="13.40" lengthAdjust="spacingAndGlyphs" >Pop4</text>
<line x1="400.4" y1="251.12" x2="403.50" y2="251.12" stroke="#333" stroke-width="0.8"/>
<text x="373.30" y="253.32" font-size="6.5" text-anchor="start" font-weight="normal" fill="#2a2a2a" stroke="#2a2a2a" stroke-width="0.12" textLength="23.80" lengthAdjust="spacingAndGlyphs" >Total Pop</text>
<line x1="400.4" y1="265.57" x2="403.50" y2="265.57" stroke="#333" stroke-width="0.8"/>
<text x="383.50" y="267.77" font-size="6.5" text-anchor="start" font-weight="normal" fill="#2a2a2a" stroke="#2a2a2a" stroke-width="0.12" textLength="13.40" lengthAdjust="spacingAndGlyphs" >Pop4</text>
<line x1="400.4" y1="280.02" x2="403.50" y2="280.02" stroke="#333" stroke-width="0.8"/>
<text x="373.30" y="282.22" font-size="6.5" text-anchor="start" font-weight="normal" fill="#2a2a2a" stroke="#2a2a2a" stroke-width="0.12" textLength="23.80" lengthAdjust="spacingAndGlyphs" >Total Pop</text>
<line x1="400.4" y1="294.48" x2="403.50" y2="294.48" stroke="#333" stroke-width="0.8"/>
<text x="383.50" y="296.68" font-size="6.5" text-anchor="start" font-weight="normal" fill="#2a2a2a" stroke="#2a2a2a" stroke-width="0.12" textLength="13.40" lengthAdjust="spacingAndGlyphs" >Pop4</text>
<line x1="367.1" y1="219.2" x2="367.1" y2="240.7" stroke="#666" stroke-width="1.1"/>
<text x="346.60" y="232.25" font-size="6.5" text-anchor="start" font-weight="normal" fill="#2a2a2a" stroke="#2a2a2a" stroke-width="0.12" textLength="17.10" lengthAdjust="spacingAndGlyphs" >BCL-2</text>
<line x1="367.1" y1="245.1" x2="367.1" y2="266.8" stroke="#666" stroke-width="1.1"/>
<text x="343.40" y="258.25" font-size="6.5" text-anchor="start" font-weight="normal" fill="#2a2a2a" stroke="#2a2a2a" stroke-width="0.12" textLength="20.30" lengthAdjust="spacingAndGlyphs" >BCL-XL</text>
<line x1="367.1" y1="270.9" x2="367.1" y2="292.5" stroke="#666" stroke-width="1.1"/>
<text x="346.10" y="284.00" font-size="6.5" text-anchor="start" font-weight="normal" fill="#2a2a2a" stroke="#2a2a2a" stroke-width="0.12" textLength="17.60" lengthAdjust="spacingAndGlyphs" >MCL-1</text>
<text x="0" y="0" font-size="6.6" fill="#2a2a2a" stroke="#2a2a2a" stroke-width="0.1" textLength="7.1" lengthAdjust="spacingAndGlyphs" transform="translate(412.70,211.5) rotate(-90)">BL</text>
<text x="0" y="0" font-size="6.6" fill="#2a2a2a" stroke="#2a2a2a" stroke-width="0.1" textLength="15.9" lengthAdjust="spacingAndGlyphs" transform="translate(426.40,211.5) rotate(-90)">EOC1</text>
<text x="0" y="0" font-size="6.6" fill="#2a2a2a" stroke="#2a2a2a" stroke-width="0.1" textLength="15.9" lengthAdjust="spacingAndGlyphs" transform="translate(440.10,211.5) rotate(-90)">EOC2</text>
<rect x="450.6" y="217.2" width="10.2" height="82.8" fill="url(#cbC)" stroke="#444" stroke-width="0.7"/>
<line x1="450.6" y1="223.3" x2="452" y2="223.3" stroke="#333" stroke-width="0.7"/>
<line x1="459.4" y1="223.3" x2="460.8" y2="223.3" stroke="#333" stroke-width="0.7"/>
<text x="463.90" y="225.60" font-size="6.5" text-anchor="start" font-weight="normal" fill="#2a2a2a" stroke="#2a2a2a" stroke-width="0.12" textLength="7.00" lengthAdjust="spacingAndGlyphs" >40</text>
<line x1="450.6" y1="244.5" x2="452" y2="244.5" stroke="#333" stroke-width="0.7"/>
<line x1="459.4" y1="244.5" x2="460.8" y2="244.5" stroke="#333" stroke-width="0.7"/>
<text x="463.90" y="246.80" font-size="6.5" text-anchor="start" font-weight="normal" fill="#2a2a2a" stroke="#2a2a2a" stroke-width="0.12" textLength="7.00" lengthAdjust="spacingAndGlyphs" >30</text>
<line x1="450.6" y1="265.2" x2="452" y2="265.2" stroke="#333" stroke-width="0.7"/>
<line x1="459.4" y1="265.2" x2="460.8" y2="265.2" stroke="#333" stroke-width="0.7"/>
<text x="463.90" y="267.50" font-size="6.5" text-anchor="start" font-weight="normal" fill="#2a2a2a" stroke="#2a2a2a" stroke-width="0.12" textLength="7.00" lengthAdjust="spacingAndGlyphs" >20</text>
<line x1="450.6" y1="285.6" x2="452" y2="285.6" stroke="#333" stroke-width="0.7"/>
<line x1="459.4" y1="285.6" x2="460.8" y2="285.6" stroke="#333" stroke-width="0.7"/>
<text x="463.90" y="287.90" font-size="6.5" text-anchor="start" font-weight="normal" fill="#2a2a2a" stroke="#2a2a2a" stroke-width="0.12" textLength="7.00" lengthAdjust="spacingAndGlyphs" >10</text>
<text x="398.30" y="310.60" font-size="5.9" text-anchor="start" font-weight="normal" fill="#2a2a2a" stroke="#2a2a2a" stroke-width="0.12" textLength="50.90" lengthAdjust="spacingAndGlyphs" >Expression Intensity</text>
<text x="343.40" y="336.00" font-size="10.3" text-anchor="start" font-weight="bold" fill="#111" textLength="7.40" lengthAdjust="spacingAndGlyphs" >D</text>
<rect x="403.80" y="346.40" width="13.25" height="12.25" fill="#ffffff"/>
<rect x="417.00" y="346.40" width="13.55" height="12.25" fill="#2c4ca6"/>
<rect x="430.50" y="346.40" width="13.05" height="12.25" fill="#9a9ed0"/>
<rect x="403.80" y="358.60" width="13.25" height="12.25" fill="#ffffff"/>
<rect x="417.00" y="358.60" width="13.55" height="12.25" fill="#dcdcf0"/>
<rect x="430.50" y="358.60" width="13.05" height="12.25" fill="#dcdcf0"/>
<rect x="403.80" y="370.80" width="13.25" height="11.85" fill="#ffffff"/>
<rect x="417.00" y="370.80" width="13.55" height="11.85" fill="#e61c24"/>
<rect x="430.50" y="370.80" width="13.05" height="11.85" fill="#f4c8cc"/>
<rect x="403.8" y="346.4" width="39.70" height="36.20" fill="none" stroke="#333" stroke-width="0.8"/>
<line x1="400.8" y1="352.50" x2="403.8" y2="352.50" stroke="#333" stroke-width="0.8"/>
<text x="380.60" y="354.80" font-size="6.5" text-anchor="start" font-weight="normal" fill="#2a2a2a" stroke="#2a2a2a" stroke-width="0.12" textLength="16.90" lengthAdjust="spacingAndGlyphs" >BCL-2</text>
<line x1="400.8" y1="364.70" x2="403.8" y2="364.70" stroke="#333" stroke-width="0.8"/>
<text x="377.20" y="367.00" font-size="6.5" text-anchor="start" font-weight="normal" fill="#2a2a2a" stroke="#2a2a2a" stroke-width="0.12" textLength="20.30" lengthAdjust="spacingAndGlyphs" >BCL-XL</text>
<line x1="400.8" y1="376.70" x2="403.8" y2="376.70" stroke="#333" stroke-width="0.8"/>
<text x="380.00" y="379.00" font-size="6.5" text-anchor="start" font-weight="normal" fill="#2a2a2a" stroke="#2a2a2a" stroke-width="0.12" textLength="17.50" lengthAdjust="spacingAndGlyphs" >MCL-1</text>
<text x="0" y="0" font-size="6.6" fill="#2a2a2a" stroke="#2a2a2a" stroke-width="0.1" textLength="6.8" lengthAdjust="spacingAndGlyphs" transform="translate(412.90,343.8) rotate(-90)">BL</text>
<text x="0" y="0" font-size="6.6" fill="#2a2a2a" stroke="#2a2a2a" stroke-width="0.1" textLength="16.2" lengthAdjust="spacingAndGlyphs" transform="translate(426.40,343.8) rotate(-90)">EOC1</text>
<text x="0" y="0" font-size="6.6" fill="#2a2a2a" stroke="#2a2a2a" stroke-width="0.1" textLength="16.2" lengthAdjust="spacingAndGlyphs" transform="translate(438.90,343.8) rotate(-90)">EOC2</text>
<rect x="449.6" y="350" width="10.2" height="29.4" fill="url(#cbD)" stroke="#444" stroke-width="0.7"/>
<line x1="449.6" y1="359.3" x2="451" y2="359.3" stroke="#333" stroke-width="0.7"/>
<line x1="458.4" y1="359.3" x2="459.8" y2="359.3" stroke="#333" stroke-width="0.7"/>
<text x="463.00" y="361.60" font-size="6.5" text-anchor="start" font-weight="normal" fill="#2a2a2a" stroke="#2a2a2a" stroke-width="0.12" textLength="7.80" lengthAdjust="spacingAndGlyphs" >1.0</text>
<line x1="449.6" y1="373.9" x2="451" y2="373.9" stroke="#333" stroke-width="0.7"/>
<line x1="458.4" y1="373.9" x2="459.8" y2="373.9" stroke="#333" stroke-width="0.7"/>
<text x="463.00" y="376.20" font-size="6.5" text-anchor="start" font-weight="normal" fill="#2a2a2a" stroke="#2a2a2a" stroke-width="0.12" textLength="7.80" lengthAdjust="spacingAndGlyphs" >0.5</text>
<text x="390.70" y="391.60" font-size="5.9" text-anchor="start" font-weight="normal" fill="#2a2a2a" stroke="#2a2a2a" stroke-width="0.12" textLength="66.50" lengthAdjust="spacingAndGlyphs" >Ratio Expression Intensity</text>
<text x="392.80" y="398.50" font-size="5.9" text-anchor="start" font-weight="normal" fill="#2a2a2a" stroke="#2a2a2a" stroke-width="0.12" textLength="61.80" lengthAdjust="spacingAndGlyphs" >(Pop4 Treatment to BL)</text><rect x="0.5" y="0.5" width="519" height="479" fill="none" stroke="#4a4a4a" stroke-width="1"/></svg></body></html>
